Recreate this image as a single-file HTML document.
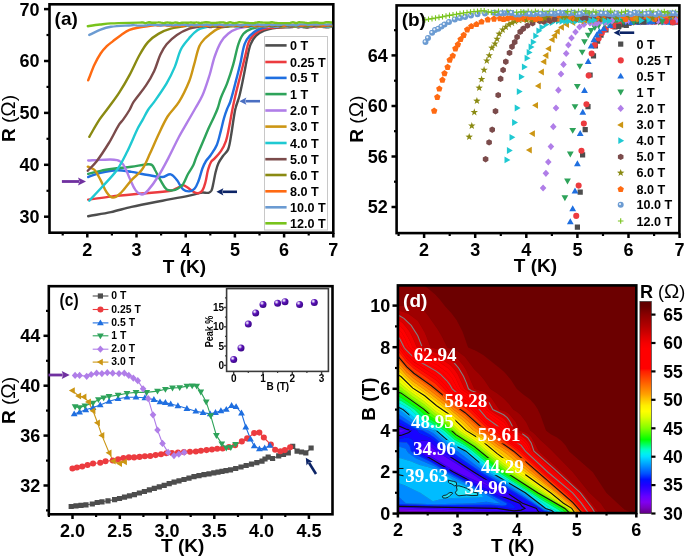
<!DOCTYPE html>
<html><head><meta charset="utf-8"><style>
html,body{margin:0;padding:0;background:#fff;}
svg{display:block;filter:blur(0.4px);}
</style></head><body>
<svg width="685" height="558" viewBox="0 0 685 558">
<defs><radialGradient id="sph" cx="0.35" cy="0.32" r="0.7"><stop offset="0" stop-color="#ffffff"/><stop offset="0.18" stop-color="#c9b2ec"/><stop offset="0.45" stop-color="#5a12b8"/><stop offset="1" stop-color="#3a0785"/></radialGradient><mask id="lblmask" maskUnits="userSpaceOnUse" x="0" y="0" width="685" height="558"><rect width="685" height="558" fill="#fff"/><rect x="412.2" y="346.1" width="46" height="17" fill="#000"/><rect x="442.8" y="392.1" width="46" height="17" fill="#000"/><rect x="409.4" y="413.7" width="46" height="17" fill="#000"/><rect x="476.2" y="426.4" width="46" height="17" fill="#000"/><rect x="411.4" y="440.1" width="46" height="17" fill="#000"/><rect x="479.4" y="458.1" width="46" height="17" fill="#000"/><rect x="403.5" y="467.1" width="46" height="17" fill="#000"/><rect x="462.8" y="479.7" width="46" height="17" fill="#000"/></mask><mask id="lblmask2" maskUnits="userSpaceOnUse" x="0" y="0" width="685" height="558"><rect width="685" height="558" fill="#fff"/><rect x="412.2" y="346.1" width="46" height="17" fill="#000"/><rect x="442.8" y="392.1" width="46" height="17" fill="#000"/><rect x="409.4" y="413.7" width="46" height="17" fill="#000"/><rect x="476.2" y="426.4" width="46" height="17" fill="#000"/><rect x="411.4" y="440.1" width="46" height="17" fill="#000"/><rect x="479.4" y="458.1" width="46" height="17" fill="#000"/><rect x="403.5" y="467.1" width="46" height="17" fill="#000"/><rect x="462.8" y="479.7" width="46" height="17" fill="#000"/><rect x="428" y="474" width="58" height="28" fill="#000"/></mask><linearGradient id="cbg" x1="0" y1="1" x2="0" y2="0"><stop offset="0.0000" stop-color="#600080"/><stop offset="0.0268" stop-color="#7800c0"/><stop offset="0.0536" stop-color="#8000f0"/><stop offset="0.0804" stop-color="#6600ff"/><stop offset="0.1072" stop-color="#4000ff"/><stop offset="0.1340" stop-color="#2000ff"/><stop offset="0.1609" stop-color="#0010ff"/><stop offset="0.1877" stop-color="#0050ff"/><stop offset="0.2145" stop-color="#0080ff"/><stop offset="0.2413" stop-color="#00b0ff"/><stop offset="0.2681" stop-color="#00e0ff"/><stop offset="0.2815" stop-color="#00f0f0"/><stop offset="0.3029" stop-color="#00ffc0"/><stop offset="0.3217" stop-color="#00ff70"/><stop offset="0.3485" stop-color="#00ff00"/><stop offset="0.3753" stop-color="#40ff00"/><stop offset="0.4021" stop-color="#80ff00"/><stop offset="0.4290" stop-color="#b0ff00"/><stop offset="0.4558" stop-color="#e0ff00"/><stop offset="0.4826" stop-color="#ffff00"/><stop offset="0.5094" stop-color="#ffee00"/><stop offset="0.5362" stop-color="#ffc800"/><stop offset="0.5630" stop-color="#ffa000"/><stop offset="0.5898" stop-color="#ff8000"/><stop offset="0.6166" stop-color="#ff6000"/><stop offset="0.6434" stop-color="#ff4000"/><stop offset="0.6702" stop-color="#ff2000"/><stop offset="0.6836" stop-color="#ff0000"/><stop offset="0.7775" stop-color="#ff0000"/><stop offset="0.8043" stop-color="#f40000"/><stop offset="0.8311" stop-color="#e00000"/><stop offset="0.8579" stop-color="#c80000"/><stop offset="0.8847" stop-color="#b20000"/><stop offset="0.9115" stop-color="#9e0000"/><stop offset="0.9383" stop-color="#8a0000"/><stop offset="0.9651" stop-color="#700000"/><stop offset="0.9786" stop-color="#660000"/><stop offset="1.0000" stop-color="#600000"/></linearGradient></defs>
<rect width="685" height="558" fill="#fff"/>
<rect x="49.5" y="4.3" width="283.8" height="228.4" fill="none" stroke="#000" stroke-width="2.6"/>
<clipPath id="ca"><rect x="50.7" y="5.5" width="281.4" height="226"/></clipPath>
<g clip-path="url(#ca)" fill="none" stroke-width="2.4" stroke-linejoin="round" stroke-linecap="round">
<path d="M88.2,216.2 C95.8,214.8 103.4,213.7 110.9,212.1 C117.8,210.6 124.6,208.4 131.5,206.9 C141.8,204.6 152.2,202.7 162.5,200.7 C171.4,199 180.4,197.4 189.3,195.6 C193.7,194.7 198,193.2 202.4,192.6 C204.4,192.3 206.6,193.3 208.6,192.8 C209.8,192.5 210.9,191.6 211.5,190.5 C212.5,188.5 212.7,186.2 213.2,184 C214.1,179.9 214.7,175.8 215.7,171.8 C216.4,169 217.1,166.1 218.3,163.5 C219.5,160.8 221.3,158.4 223,156 C224.6,153.7 227.1,152.1 228.1,149.5 C229.9,144.8 230.3,139.7 231.2,134.7 C232.2,129.2 232.8,123.7 233.7,118.2 C234.3,114.8 234.7,111.3 235.6,108 C236.6,103.9 238.4,100.1 239.4,96 C241,89.7 242.2,83.3 243.5,77 C244.9,70.3 245.9,63.6 247.4,57 C248.3,52.7 249,48.2 250.7,44.1 C251.9,41.1 253.6,38.2 255.9,35.9 C258.2,33.6 261.1,31.9 264.1,30.7 C268.1,29.1 272.3,28.4 276.5,27.8 C281.6,27.1 286.8,27.4 292,27 C293,26.9 294,26.5 295,26.5 C296,26.6 297,27.2 298,27.3 C299,27.3 300,26.9 301,26.9 C302,26.9 303,27.1 304,27.2 C305,27.3 306,27.5 307,27.5 C308,27.4 309,27 310,27 C311,26.9 312,27 313,26.9 C314,26.8 315,26.5 316,26.4 C317,26.4 318,26.5 319,26.6 C320,26.7 321,26.8 322,26.9 C323,26.9 324,27 325,27 C326,27.1 327,27.2 328,27.2 C329,27.1 330,26.8 331,26.7 C331.7,26.6 332.3,26.8 333,26.8" stroke="#4d4d4d"/>
<path d="M88.2,199.7 C95.8,198.7 103.3,197.5 110.9,196.6 C121.2,195.4 131.6,194.5 141.9,193.5 C151.5,192.6 161.2,192.5 170.7,190.8 C173.7,190.3 176.2,188.2 179,187 C180.4,186.4 181.6,185.2 183.1,185.3 C184.6,185.4 185.9,186.5 187.2,187.3 C189.4,188.7 191.1,190.6 193.4,191.8 C194.9,192.6 196.6,193.4 198.2,193.2 C199.8,193 201.5,191.9 202.4,190.5 C204,188 204.7,184.9 205.5,182 C206.6,178.1 206.9,173.9 208,170 C208.8,167.3 209.6,164.5 211,162 C211.9,160.5 213.5,159.7 214.7,158.4 C216.8,156.1 219.2,153.9 220.9,151.2 C223,148 224.8,144.5 226,140.9 C227.7,135.7 228.4,130.3 229.5,125 C230.5,120 231.3,115 232.3,110 C233.2,105.3 234.2,100.6 235.3,96 C236.9,89 238.8,82 240.5,75 C242.2,68.1 243.9,61.3 245.6,54.4 C246.6,50.3 247.1,46 248.7,42.1 C249.8,39.4 251.7,36.9 253.8,34.9 C256.2,32.6 259,30.6 262.1,29.5 C266.2,28 270.7,27.9 275,27.4 C280,26.9 285,27 290,26.6 C291,26.5 292,26.2 293,26.1 C294,26.1 295,26.2 296,26.4 C297,26.5 298,27.1 299,27.1 C300,27 301,26.4 302,26.3 C303,26.2 304,26.4 305,26.5 C306,26.7 307,27.2 308,27.1 C309.1,27 309.9,26.1 311,26.1 C312,26 313,26.5 314,26.7 C315,26.9 316,27.2 317,27.1 C318,27 319,26.4 320,26.3 C321,26.2 322,26.5 323,26.7 C324,26.8 325,27.1 326,27.1 C327,27 328,26.3 329,26.2 C330.3,26.1 331.7,26.5 333,26.6" stroke="#ec3b3f"/>
<path d="M88.2,177 C92.3,175.6 96.4,173.9 100.6,172.9 C106,171.6 111.5,170.4 117.1,170.2 C121.9,170 126.7,171.2 131.5,171.9 C137,172.8 142.5,174.1 148,175 C152.8,175.8 157.6,177.2 162.5,177 C165.4,176.9 167.9,173.7 170.7,174.3 C173.5,174.9 175.1,177.9 176.9,180.1 C179.3,183 180.3,186.9 183.1,189.4 C184.7,190.9 187.1,191.5 189.3,191.4 C191.2,191.3 193.2,190.3 194.5,188.8 C196.4,186.6 197.4,183.7 198.5,181 C200.1,176.9 200.9,172.6 202.4,168.5 C203.4,165.9 204.5,163.4 206,161 C207.3,158.9 209.2,157.3 210.6,155.3 C212.8,152 215.3,148.7 216.8,145 C218.7,140.4 219.6,135.4 220.9,130.6 C222,126.5 222.8,122.3 224,118.2 C224.9,115.1 225.9,112 227.1,109 C228,106.6 229.4,104.4 230.2,102 C232.2,95.8 233.7,89.5 235.3,83.3 C237.1,76.4 238.9,69.6 240.5,62.7 C242,56.5 242.5,50.1 244.6,44.1 C245.6,41.1 247.5,38.3 249.7,35.9 C252.1,33.4 254.9,31.2 258,29.7 C261.2,28.1 264.8,27.2 268.3,26.8 C275.5,26 282.8,26.4 290,26.3 C291,26.3 292,26.3 293,26.3 C294,26.4 295,26.5 296,26.6 C297,26.6 298,26.5 299,26.5 C300,26.4 301,26.3 302,26.2 C303,26.1 304,25.9 305,25.9 C306,25.9 307,26.2 308,26.2 C309,26.3 310,26.1 311,26.1 C312,26.1 313,26.2 314,26.2 C315,26.2 316,26 317,26.1 C318,26.2 319,26.5 320,26.6 C321,26.7 322,26.6 323,26.5 C324,26.4 325,26.1 326,26 C327,26 328,26.3 329,26.3 C330.3,26.3 331.7,26.2 333,26.2" stroke="#1f6fe0"/>
<path d="M88.2,173.9 C92.3,172.9 96.4,171.7 100.6,170.8 C104.7,170 108.8,169.4 113,168.8 C119.2,168 125.3,167.5 131.5,166.7 C137,166 142.5,164.8 148,164.3 C149.3,164.2 151,164.1 152,165 C153.5,166.2 154.1,168.3 155,170 C156.9,173.3 158.4,176.8 160.4,180.1 C162.3,183.3 163.7,187 166.6,189.4 C168.2,190.7 170.7,190.6 172.8,190.4 C174.6,190.3 176.4,189.5 178,188.5 C179.9,187.4 181.8,186 183.1,184.2 C185.2,181.1 186.2,177.3 188,174 C189.7,170.9 191.9,168.1 193.4,165 C194.6,162.6 195.2,159.9 196.2,157.4 C198.2,152.6 200.4,147.8 202.4,143 C204.5,138.2 206.4,133.3 208.5,128.5 C210.3,124.5 212.4,120.5 214.2,116.5 C215.5,113.7 216.8,110.9 217.8,108 C219,104.6 219.6,101.1 220.9,97.7 C222.7,92.8 225.3,88.2 227.1,83.3 C229.4,77.2 231.4,71 233.2,64.7 C235.2,57.9 236.2,50.8 238.4,44.1 C239.6,40.5 241,36.7 243.5,33.8 C245.6,31.4 248.8,29.9 251.8,28.7 C255.1,27.4 258.7,27.2 262.1,26.6 C263.1,26.4 264.1,26.4 265.1,26.3 C266.1,26.3 267.1,26.5 268.1,26.5 C269.1,26.5 270.1,26.4 271.1,26.4 C272.1,26.4 273.1,26.7 274.1,26.7 C275.1,26.7 276.1,26.4 277.1,26.4 C278.1,26.3 279.1,26.4 280.1,26.5 C281.1,26.5 282.1,26.7 283.1,26.7 C284.1,26.7 285.1,26.3 286.1,26.4 C287.1,26.4 288.1,26.9 289.1,26.9 C290.1,26.8 291.1,26.1 292.1,26.1 C293.1,26 294.1,26.6 295.1,26.7 C296.1,26.7 297.1,26.4 298.1,26.3 C299.1,26.2 300.1,26.3 301.1,26.3 C302.1,26.3 303.1,26.5 304.1,26.5 C305.1,26.5 306.1,26.4 307.1,26.4 C308.1,26.3 309.1,26.3 310.1,26.2 C311.1,26.1 312.1,25.8 313.1,25.8 C314.1,25.7 315.1,25.7 316.1,25.8 C317.1,26 318.1,26.4 319.1,26.5 C320.1,26.6 321.1,26.3 322.1,26.3 C323.1,26.3 324.1,26.4 325.1,26.5 C326.1,26.5 327.1,26.7 328.1,26.7 C329.1,26.7 330.1,26.5 331.1,26.4 C331.7,26.3 332.4,26.3 333,26.2" stroke="#2ea35a"/>
<path d="M88.2,160.5 C92.3,160.3 96.5,160 100.6,159.9 C106.1,159.8 111.7,159 117.1,160.1 C119.6,160.6 121.8,162.5 123.3,164.6 C126.1,168.6 127.4,173.6 129.5,178 C131.5,182.2 132.9,186.7 135.7,190.4 C137.2,192.4 139.4,194.5 141.9,194.5 C144.3,194.5 146.4,192.2 148,190.4 C151.9,186 155.3,181 158.4,176 C162.2,170 165.4,163.7 168.7,157.4 C172.3,150.6 175.4,143.6 179,136.8 C181.6,131.9 184.5,127.2 187.2,122.4 C190,117.6 192.8,112.8 195.5,108 C197.8,103.9 200.5,99.9 202.4,95.6 C205.3,88.9 207.4,81.9 209.6,75 C211.5,68.9 212.6,62.5 214.7,56.5 C216.4,51.6 218.2,46.6 220.9,42.1 C222.8,38.9 225.3,36.1 228.1,33.8 C230.8,31.6 234.1,29.8 237.4,28.7 C241.3,27.3 245.6,27.2 249.7,26.4 C250.7,26.2 251.7,25.9 252.7,25.9 C253.7,25.9 254.7,26.1 255.7,26.2 C256.7,26.3 257.7,26.5 258.7,26.5 C259.7,26.4 260.7,26 261.7,26.1 C262.7,26.1 263.7,26.7 264.7,26.8 C265.7,27 266.7,26.8 267.7,26.8 C268.7,26.8 269.7,26.8 270.7,26.7 C271.7,26.6 272.7,26.3 273.7,26.3 C274.7,26.2 275.7,26.7 276.7,26.6 C277.7,26.6 278.7,26 279.7,25.9 C280.7,25.7 281.7,26 282.7,26 C283.7,26.1 284.7,26.1 285.7,26.2 C286.7,26.3 287.7,26.5 288.7,26.5 C289.7,26.5 290.7,26.3 291.7,26.2 C292.7,26.1 293.7,25.8 294.7,25.8 C295.7,25.8 296.7,26 297.7,26 C298.7,26 299.7,26 300.7,26 C301.7,25.9 302.7,26 303.7,25.9 C304.7,25.9 305.7,25.7 306.7,25.8 C307.7,25.8 308.7,26 309.7,26 C310.7,26.1 311.7,26 312.7,26 C313.7,26.1 314.7,26.3 315.7,26.4 C316.7,26.4 317.7,26.4 318.7,26.4 C319.7,26.3 320.7,26.1 321.7,26.1 C322.7,26 323.7,26 324.7,26 C325.7,26 326.7,26.3 327.7,26.3 C328.7,26.4 329.7,26.5 330.7,26.4 C331.5,26.4 332.2,26.1 333,26" stroke="#b07ee8"/>
<path d="M87.8,166.7 C90,167.7 92.7,168 94.4,169.8 C97.2,172.7 98.7,176.6 100.6,180.1 C102.8,184.2 104.1,188.7 106.8,192.5 C108.3,194.7 110.3,197.6 113,197.6 C116.2,197.6 118.9,194.7 121.2,192.5 C125.1,188.8 127.9,184.1 131.5,180.1 C134.8,176.5 139.1,173.8 141.9,169.8 C145.4,164.8 147.5,158.9 150.1,153.3 C153,147.2 155.5,140.8 158.4,134.7 C161.3,128.6 164,122.3 167.6,116.5 C170.9,111.3 175.8,107.2 179,101.9 C183.1,95.3 186.4,88.2 189.3,81 C191.4,75.8 192.5,70.1 194.1,64.7 C195.9,58.5 196.9,52.1 199.3,46.2 C200.4,43.5 202.4,41.2 204.4,39 C206.2,37 208.5,35.5 210.6,33.8 C212.6,32.2 214.5,30.4 216.8,29.3 C219.4,28.1 222.2,27.2 225,26.8 C230,26.1 235,26.2 240,26 C241,26 242,26.1 243,26.2 C244,26.2 245,26.3 246,26.3 C247,26.4 248,26.6 249,26.5 C250,26.3 250.9,25.5 252,25.5 C253,25.5 254,26.4 255,26.4 C256,26.5 257,25.8 258,25.8 C259,25.7 260,25.9 261,26 C262,26.1 263,26.3 264,26.3 C265,26.4 266,26.4 267,26.2 C268,26.1 269,25.6 270,25.6 C271,25.6 272,26.2 273,26.2 C274,26.2 275,25.6 276,25.5 C277,25.5 278,25.7 279,25.8 C280,26 281,26.3 282,26.3 C283,26.4 284,26 285,25.9 C286,25.9 287,26.1 288,26.1 C289,26.2 290,26.2 291,26.3 C292,26.3 293,26.3 294,26.4 C295,26.4 296,26.4 297,26.3 C298,26.1 299,25.5 300,25.5 C301,25.4 302,25.8 303,25.9 C304,26 305,26 306,26 C307,25.9 308,25.5 309,25.5 C310,25.5 311,25.9 312,26 C313,26.1 314,26.1 315,26.1 C316,26.2 317,26.3 318,26.4 C319,26.4 320,26.6 321,26.5 C322,26.4 323,25.7 324,25.6 C325,25.5 326,25.6 327,25.7 C328,25.8 329,26.1 330,26.2 C331,26.2 332,26.1 333,26" stroke="#cc9614"/>
<path d="M89.3,200.7 C93.8,195.9 98.3,191.2 102.7,186.3 C107.6,180.9 112.9,175.8 117.1,169.8 C121.2,164 124.2,157.5 127.4,151.2 C131.1,143.8 134.1,136 137.7,128.6 C139.2,125.4 141.2,122.5 142.9,119.4 C144.6,116.3 146.1,113 148,110 C149.8,107.1 152.3,104.7 154.2,101.9 C158.5,95.8 162.8,89.8 166.6,83.4 C169.7,78.1 172.4,72.6 174.8,66.9 C177.2,61.2 178.2,54.9 181,49.3 C183.1,45.1 186.4,41.7 189.3,38 C190.8,36.2 192.3,34.3 194.1,32.8 C196,31.2 198,29.6 200.3,28.7 C203.6,27.4 207.1,27 210.6,26.2 C211.6,26 212.6,25.8 213.6,25.8 C214.6,25.7 215.6,25.8 216.6,25.9 C217.6,26 218.6,26.3 219.6,26.3 C220.6,26.2 221.6,25.8 222.6,25.8 C223.6,25.8 224.6,26.3 225.6,26.5 C226.6,26.6 227.6,26.7 228.6,26.5 C229.6,26.4 230.6,25.7 231.6,25.6 C232.6,25.6 233.6,26 234.6,26.2 C235.6,26.3 236.6,26.4 237.6,26.4 C238.6,26.5 239.6,26.7 240.6,26.6 C241.6,26.5 242.6,26 243.6,25.8 C244.6,25.7 245.6,25.6 246.6,25.7 C247.6,25.8 248.6,26.4 249.6,26.5 C250.6,26.6 251.6,26.6 252.6,26.5 C253.6,26.4 254.6,25.8 255.6,25.7 C256.6,25.6 257.6,25.9 258.6,26 C259.6,26.1 260.6,26.2 261.6,26.3 C262.6,26.3 263.6,26.5 264.6,26.4 C265.6,26.3 266.6,25.7 267.6,25.6 C268.6,25.6 269.6,26.1 270.6,26.2 C271.6,26.3 272.6,26.4 273.6,26.3 C274.6,26.3 275.6,26.2 276.6,26 C277.6,25.9 278.6,25.7 279.6,25.6 C280.6,25.5 281.6,25.4 282.6,25.5 C283.6,25.5 284.6,25.6 285.6,25.7 C286.6,25.9 287.6,26.3 288.6,26.3 C289.6,26.2 290.6,25.6 291.6,25.4 C292.6,25.3 293.6,25.3 294.6,25.4 C295.6,25.4 296.6,25.8 297.6,25.8 C298.6,25.8 299.6,25.5 300.6,25.4 C301.6,25.4 302.6,25.5 303.6,25.5 C304.6,25.5 305.6,25.3 306.6,25.4 C307.6,25.4 308.6,25.8 309.6,25.9 C310.6,26 311.6,26.1 312.6,26.1 C313.6,26.1 314.6,25.9 315.6,25.8 C316.6,25.7 317.6,25.5 318.6,25.4 C319.6,25.4 320.6,25.6 321.6,25.7 C322.6,25.7 323.6,25.8 324.6,25.9 C325.6,26 326.6,26.2 327.6,26.3 C328.6,26.4 329.6,26.4 330.6,26.3 C331.4,26.3 332.2,26 333,25.8" stroke="#1fc9d2"/>
<path d="M87.8,170.8 C90.7,167.7 93.9,164.9 96.5,161.5 C101,155.6 105,149.3 108.9,143 C112.6,137 115.5,130.4 119.2,124.4 C120.3,122.6 122,121.2 123.3,119.4 C125.5,116.3 127.6,113.2 129.5,110 C131,107.4 131.9,104.4 133.6,101.9 C137.4,96.2 142.2,91.1 146,85.4 C149.1,80.8 151.9,76 154.2,71 C156.7,65.7 157.9,59.8 160.4,54.5 C162.1,50.9 164,47.3 166.6,44.2 C169.6,40.7 173.1,37.5 176.9,34.9 C180.7,32.3 185,30.3 189.3,28.7 C192.6,27.5 196.2,27.2 199.6,26.6 C200.6,26.4 201.6,26.4 202.6,26.3 C203.6,26.2 204.6,25.9 205.6,26 C206.6,26.1 207.6,26.7 208.6,26.9 C209.6,27.1 210.6,27.1 211.6,27 C212.6,26.9 213.6,26.5 214.6,26.4 C215.6,26.4 216.6,26.7 217.6,26.8 C218.6,26.8 219.6,26.9 220.6,26.8 C221.6,26.8 222.6,26.5 223.6,26.5 C224.6,26.5 225.6,26.9 226.6,26.8 C227.6,26.7 228.6,26 229.6,25.9 C230.6,25.7 231.6,26.1 232.6,26.1 C233.6,26.1 234.6,26.1 235.6,26.1 C236.6,26 237.6,25.8 238.6,25.9 C239.6,26 240.6,26.8 241.6,26.7 C242.7,26.7 243.5,25.8 244.6,25.7 C245.6,25.7 246.6,26.4 247.6,26.4 C248.6,26.4 249.6,25.8 250.6,25.7 C251.6,25.7 252.6,26 253.6,26 C254.6,26.1 255.6,26.1 256.6,26.1 C257.6,26 258.6,25.8 259.6,25.8 C260.6,25.8 261.6,26.1 262.6,26.2 C263.6,26.2 264.6,26.2 265.6,26.1 C266.6,26.1 267.6,25.9 268.6,25.9 C269.6,25.9 270.6,26.4 271.6,26.3 C272.6,26.3 273.6,25.8 274.6,25.7 C275.6,25.6 276.6,25.6 277.6,25.7 C278.6,25.7 279.6,25.8 280.6,25.8 C281.6,25.9 282.6,25.9 283.6,25.8 C284.6,25.8 285.6,25.5 286.6,25.6 C287.6,25.7 288.6,26.3 289.6,26.4 C290.6,26.5 291.6,26.4 292.6,26.3 C293.6,26.1 294.6,25.5 295.6,25.4 C296.6,25.4 297.6,25.7 298.6,25.7 C299.6,25.7 300.6,25.5 301.6,25.5 C302.6,25.5 303.6,25.8 304.6,25.8 C305.6,25.8 306.6,25.5 307.6,25.5 C308.6,25.5 309.6,25.7 310.6,25.8 C311.6,25.9 312.6,26.2 313.6,26.2 C314.6,26.2 315.6,25.7 316.6,25.6 C317.6,25.5 318.6,25.8 319.6,25.9 C320.6,25.9 321.6,25.8 322.6,25.8 C323.6,25.8 324.6,26 325.6,25.9 C326.6,25.8 327.6,25.2 328.6,25.2 C329.6,25.1 330.6,25.8 331.6,25.9 C332.1,25.9 332.5,25.7 333,25.6" stroke="#7b4b4b"/>
<path d="M89.3,136.8 C92.7,131 95.9,125 99.6,119.4 C102.4,115.1 105.9,111.2 108.9,107 C112.4,102.2 116,97.6 119.2,92.6 C122.9,86.9 126.3,81.1 129.5,75.1 C133.2,68.3 136,61.2 139.8,54.5 C142.2,50.2 144.7,45.8 148,42.1 C151,38.8 154.6,36.1 158.4,33.9 C162.2,31.6 166.4,29.9 170.7,28.7 C176.1,27.2 181.7,26.5 187.2,25.8 C188.2,25.7 189.2,26.3 190.2,26.3 C191.2,26.3 192.2,26 193.2,25.9 C194.2,25.8 195.2,25.5 196.2,25.5 C197.2,25.5 198.2,25.9 199.2,25.9 C200.2,26 201.2,26 202.2,26 C203.2,26 204.2,26 205.2,25.9 C206.2,25.8 207.2,25.3 208.2,25.3 C209.2,25.4 210.2,26.1 211.2,26.2 C212.2,26.4 213.2,26.3 214.2,26.2 C215.2,26.1 216.2,25.7 217.2,25.6 C218.2,25.5 219.2,25.8 220.2,25.8 C221.2,25.7 222.2,25.1 223.2,25.1 C224.3,25.2 225.2,26 226.2,26.2 C227.2,26.3 228.2,26 229.2,26 C230.2,25.9 231.2,25.8 232.2,25.8 C233.2,25.8 234.2,26 235.2,25.9 C236.2,25.8 237.2,25.3 238.2,25.2 C239.2,25.2 240.2,25.4 241.2,25.4 C242.2,25.4 243.2,25.2 244.2,25.3 C245.2,25.3 246.2,25.7 247.2,25.7 C248.2,25.6 249.2,25 250.2,25.1 C251.2,25.1 252.2,25.9 253.2,26 C254.2,26 255.2,25.6 256.2,25.5 C257.2,25.4 258.2,25.5 259.2,25.4 C260.2,25.4 261.2,25 262.2,25.1 C263.2,25.1 264.2,25.6 265.2,25.7 C266.2,25.8 267.2,25.8 268.2,25.8 C269.2,25.8 270.2,25.7 271.2,25.6 C272.2,25.5 273.2,25.1 274.2,25.2 C275.2,25.2 276.2,25.8 277.2,25.7 C278.2,25.7 279.2,25 280.2,25 C281.2,25 282.2,25.7 283.2,25.8 C284.2,25.8 285.2,25.6 286.2,25.5 C287.2,25.4 288.2,25.2 289.2,25.1 C290.2,25.1 291.2,25.3 292.2,25.4 C293.2,25.4 294.2,25.5 295.2,25.5 C296.2,25.4 297.2,25 298.2,25.1 C299.2,25.1 300.2,25.7 301.2,25.7 C302.2,25.7 303.2,25.2 304.2,25.2 C305.2,25.2 306.2,25.7 307.2,25.7 C308.2,25.8 309.2,25.8 310.2,25.7 C311.2,25.5 312.2,24.9 313.2,24.8 C314.2,24.8 315.2,25.4 316.2,25.4 C317.2,25.5 318.2,25 319.2,25 C320.2,25.1 321.2,25.5 322.2,25.5 C323.2,25.6 324.2,25.3 325.2,25.3 C326.2,25.2 327.2,25.1 328.2,25.2 C329.2,25.2 330.2,25.6 331.2,25.6 C331.8,25.6 332.4,25.3 333,25.2" stroke="#8a8a12"/>
<path d="M88.2,80.3 C90.3,75.1 92.1,69.9 94.4,64.8 C96.2,60.9 98.2,57.1 100.6,53.5 C102.4,50.8 104.5,48.5 106.8,46.2 C108.7,44.3 110.9,42.8 113,41.1 C115.7,39 118.4,36.8 121.2,34.9 C123.9,33.1 126.5,31.2 129.5,29.9 C132.1,28.8 134.9,28.2 137.7,27.7 C142.5,26.8 147.4,26.3 152.2,25.6 C153.2,25.5 154.2,25.1 155.2,25.1 C156.2,25.1 157.2,25.6 158.2,25.6 C159.2,25.7 160.2,25.5 161.2,25.4 C162.2,25.3 163.2,25 164.2,25 C165.2,25.1 166.2,25.7 167.2,25.8 C168.2,25.9 169.2,25.6 170.2,25.6 C171.2,25.6 172.2,26 173.2,26 C174.2,26 175.2,25.7 176.2,25.6 C177.2,25.5 178.2,25.3 179.2,25.3 C180.2,25.4 181.2,26.1 182.2,26 C183.2,26 184.2,25.2 185.2,25.1 C186.2,24.9 187.2,24.9 188.2,25 C189.2,25.1 190.2,25.7 191.2,25.7 C192.2,25.8 193.2,25.4 194.2,25.3 C195.2,25.2 196.2,25.2 197.2,25.3 C198.2,25.4 199.2,25.9 200.2,25.9 C201.2,25.8 202.2,25.2 203.2,25.2 C204.2,25.2 205.2,25.8 206.2,25.8 C207.2,25.9 208.2,25.7 209.2,25.6 C210.2,25.5 211.2,25.3 212.2,25.2 C213.2,25.1 214.2,24.9 215.2,24.9 C216.2,24.9 217.2,24.9 218.2,25.1 C219.2,25.3 220.2,25.9 221.2,25.9 C222.2,25.9 223.2,25.4 224.2,25.3 C225.2,25.1 226.2,25 227.2,25 C228.2,25 229.2,25 230.2,25.1 C231.2,25.3 232.2,25.8 233.2,25.8 C234.2,25.7 235.2,25 236.2,25 C237.2,24.9 238.2,25.6 239.2,25.6 C240.2,25.6 241.2,24.9 242.2,24.9 C243.2,24.9 244.2,25.7 245.2,25.8 C246.2,25.9 247.2,25.5 248.2,25.3 C249.2,25.1 250.2,24.7 251.2,24.8 C252.2,24.8 253.2,25.7 254.2,25.7 C255.2,25.8 256.2,25.1 257.2,25.1 C258.2,25.1 259.2,25.5 260.2,25.5 C261.2,25.5 262.2,25.4 263.2,25.3 C264.2,25.1 265.2,24.9 266.2,24.8 C267.2,24.7 268.2,24.8 269.2,24.8 C270.2,24.8 271.2,24.8 272.2,24.8 C273.2,24.8 274.2,24.8 275.2,24.8 C276.2,24.8 277.2,24.7 278.2,24.7 C279.2,24.7 280.2,24.5 281.2,24.7 C282.2,24.8 283.1,25.7 284.2,25.7 C285.2,25.7 286.2,24.8 287.2,24.7 C288.2,24.6 289.2,25.1 290.2,25.2 C291.2,25.2 292.2,24.8 293.2,24.7 C294.2,24.7 295.2,24.7 296.2,24.8 C297.2,24.9 298.2,25.3 299.2,25.4 C300.2,25.5 301.2,25.6 302.2,25.6 C303.2,25.5 304.2,25.2 305.2,25.1 C306.2,24.9 307.2,24.4 308.2,24.5 C309.3,24.6 310.1,25.6 311.2,25.6 C312.3,25.6 313.1,24.7 314.2,24.6 C315.2,24.4 316.2,24.8 317.2,24.9 C318.2,25 319.2,25 320.2,25.1 C321.2,25.2 322.2,25.4 323.2,25.5 C324.2,25.5 325.2,25.4 326.2,25.4 C327.2,25.3 328.2,25.2 329.2,25.1 C330.5,25.1 331.7,25 333,25" stroke="#ff6a12"/>
<path d="M89.3,34.9 C93.1,33.2 96.7,31.2 100.6,29.7 C103.9,28.4 107.4,27.3 110.9,26.8 C117.7,25.8 124.6,25.7 131.5,25.2 C132.5,25.1 133.5,25 134.5,25.1 C135.5,25.1 136.5,25.5 137.5,25.6 C138.5,25.6 139.5,25.6 140.5,25.6 C141.5,25.6 142.5,25.6 143.5,25.6 C144.5,25.5 145.5,25.5 146.5,25.4 C147.5,25.2 148.5,24.8 149.5,24.7 C150.5,24.6 151.5,24.8 152.5,24.9 C153.5,25 154.5,25.1 155.5,25.1 C156.5,25.1 157.5,25.1 158.5,25.1 C159.5,25.2 160.5,25.5 161.5,25.5 C162.5,25.4 163.5,24.8 164.5,24.8 C165.5,24.8 166.5,25.3 167.5,25.3 C168.5,25.3 169.5,24.9 170.5,24.9 C171.5,25 172.5,25.4 173.5,25.4 C174.5,25.3 175.5,24.8 176.5,24.7 C177.5,24.7 178.5,25.1 179.5,25 C180.5,25 181.5,24.7 182.5,24.6 C183.5,24.6 184.5,24.6 185.5,24.7 C186.5,24.9 187.5,25.5 188.5,25.5 C189.5,25.5 190.5,24.8 191.5,24.8 C192.5,24.8 193.5,25.4 194.5,25.4 C195.5,25.5 196.5,25.2 197.5,25 C198.5,24.9 199.5,24.4 200.5,24.5 C201.5,24.5 202.5,25.3 203.5,25.3 C204.5,25.3 205.5,24.5 206.5,24.5 C207.5,24.5 208.5,25.3 209.5,25.3 C210.5,25.3 211.5,24.5 212.5,24.4 C213.5,24.4 214.5,25.1 215.5,25.1 C216.5,25.2 217.5,24.6 218.5,24.6 C219.5,24.5 220.5,24.6 221.5,24.8 C222.5,24.9 223.5,25.4 224.5,25.4 C225.5,25.4 226.5,25 227.5,24.9 C228.5,24.8 229.5,25 230.5,25.1 C231.5,25.1 232.5,25.3 233.5,25.2 C234.5,25.1 235.5,24.4 236.5,24.5 C237.5,24.5 238.5,25.1 239.5,25.3 C240.5,25.4 241.5,25.5 242.5,25.3 C243.5,25.2 244.5,24.6 245.5,24.5 C246.5,24.4 247.5,24.9 248.5,24.9 C249.5,24.9 250.5,24.6 251.5,24.6 C252.5,24.6 253.5,25.1 254.5,25.1 C255.5,25 256.5,24.4 257.5,24.3 C258.5,24.3 259.5,24.7 260.5,24.8 C261.5,25 262.5,25.1 263.5,25.1 C264.5,25.2 265.5,25.2 266.5,25.1 C267.5,24.9 268.5,24.3 269.5,24.4 C270.5,24.4 271.5,25.1 272.5,25.1 C273.5,25.2 274.5,24.5 275.5,24.5 C276.5,24.5 277.5,25.1 278.5,25.1 C279.5,25.1 280.5,24.9 281.5,24.8 C282.5,24.6 283.5,24.3 284.5,24.4 C285.5,24.4 286.5,24.9 287.5,25 C288.5,25.1 289.5,25.1 290.5,25.1 C291.5,25.1 292.5,24.9 293.5,24.9 C294.5,25 295.5,25.3 296.5,25.2 C297.5,25.1 298.5,24.6 299.5,24.4 C300.5,24.3 301.5,24.4 302.5,24.4 C303.5,24.4 304.5,24.2 305.5,24.3 C306.5,24.3 307.5,24.7 308.5,24.7 C309.5,24.8 310.5,24.6 311.5,24.6 C312.5,24.5 313.5,24.5 314.5,24.5 C315.5,24.5 316.5,24.6 317.5,24.6 C318.5,24.6 319.5,24.5 320.5,24.4 C321.5,24.3 322.5,24 323.5,24.1 C324.5,24.1 325.5,24.5 326.5,24.6 C327.5,24.6 328.5,24.4 329.5,24.4 C330.7,24.4 331.8,24.5 333,24.6" stroke="#6b9bd2"/>
<path d="M87.8,26.2 C91.9,25.6 95.9,25 100,24.5 C103.6,24.1 107.3,23.6 110.9,23.4 C120.6,22.9 130.3,22.9 140,22.6 C141,22.6 142,22.5 143,22.5 C144,22.6 145,23.1 146,23.1 C147,23 148,22.3 149,22.2 C150,22.2 151,22.7 152,22.8 C153,22.8 154,22.8 155,22.8 C156,22.7 157,22.4 158,22.4 C159,22.3 160,22.4 161,22.6 C162,22.7 163,23.1 164,23.1 C165,23.1 166,22.5 167,22.4 C168,22.4 169,22.7 170,22.8 C171,22.9 172,23 173,23 C174,22.9 175,22.4 176,22.4 C177,22.5 178,23.1 179,23.1 C180,23.2 181,22.8 182,22.7 C183,22.6 184,22.6 185,22.6 C186,22.6 187,22.9 188,22.8 C189,22.8 190,22.5 191,22.5 C192,22.5 193,22.9 194,22.8 C195,22.8 196,22.3 197,22.4 C198,22.4 199,23 200,23.1 C201,23.1 202,22.8 203,22.6 C204,22.5 205,22.3 206,22.3 C207,22.3 208,22.4 209,22.5 C210,22.7 211,23 212,23 C213,23.1 214,23 215,22.9 C216,22.9 217,22.7 218,22.6 C219,22.5 220,22.5 221,22.4 C222,22.4 223,22.3 224,22.5 C225,22.6 226,23.2 227,23.1 C228,23.1 229,22.2 230,22.2 C231,22.2 232,22.9 233,23 C234,23.2 235,23.1 236,23 C237,22.9 238,22.4 239,22.3 C240,22.2 241,22.4 242,22.4 C243,22.5 244,22.6 245,22.7 C246,22.8 247,22.9 248,22.9 C249,23 250,23.1 251,23.1 C252,23.1 253,23.3 254,23.1 C255,23 256,22.5 257,22.4 C258,22.2 259,22.2 260,22.3 C261,22.3 262,22.5 263,22.6 C264,22.7 265,22.6 266,22.7 C267,22.7 268,22.9 269,22.8 C270,22.7 271,22.2 272,22.2 C273,22.2 274,22.6 275,22.8 C276,22.9 277,23 278,23.1 C279,23.1 280,23.1 281,23.1 C282,23.1 283,23.1 284,23.1 C285,23.1 286,23.1 287,23.1 C288,23.1 289,23.3 290,23.1 C291,22.9 291.9,22.1 293,22.1 C294,22.1 295,23 296,23.1 C297,23.1 298,22.5 299,22.3 C300,22.2 301,22.4 302,22.4 C303,22.4 304,22.4 305,22.6 C306,22.7 307,23.1 308,23.1 C309,23.1 310,22.8 311,22.7 C312,22.6 313,22.5 314,22.4 C315,22.4 316,22.4 317,22.5 C318,22.6 319,23 320,23 C321,23.1 322,23.1 323,23 C324,22.8 325,22.3 326,22.2 C327,22.1 328,22.3 329,22.3 C330.3,22.4 331.7,22.5 333,22.6" stroke="#78c31c"/>
</g>
<rect x="264.5" y="36.5" width="63" height="193.5" fill="#fff" stroke="#c8c8c8" stroke-width="1"/>
<line x1="265.3" y1="45.4" x2="286.6" y2="45.4" stroke="#4d4d4d" stroke-width="2.6" />
<text x="290" y="49.9" font-size="12.6" text-anchor="start" fill="#000" style="font-family:'Liberation Sans',sans-serif;font-weight:bold" >0 T</text>
<line x1="265.3" y1="62" x2="286.6" y2="62" stroke="#ec3b3f" stroke-width="2.6" />
<text x="290" y="66.5" font-size="12.6" text-anchor="start" fill="#000" style="font-family:'Liberation Sans',sans-serif;font-weight:bold" >0.25 T</text>
<line x1="265.3" y1="77.9" x2="286.6" y2="77.9" stroke="#1f6fe0" stroke-width="2.6" />
<text x="290" y="82.4" font-size="12.6" text-anchor="start" fill="#000" style="font-family:'Liberation Sans',sans-serif;font-weight:bold" >0.5 T</text>
<line x1="265.3" y1="94.1" x2="286.6" y2="94.1" stroke="#2ea35a" stroke-width="2.6" />
<text x="290" y="98.6" font-size="12.6" text-anchor="start" fill="#000" style="font-family:'Liberation Sans',sans-serif;font-weight:bold" >1 T</text>
<line x1="265.3" y1="110.5" x2="286.6" y2="110.5" stroke="#b07ee8" stroke-width="2.6" />
<text x="290" y="115" font-size="12.6" text-anchor="start" fill="#000" style="font-family:'Liberation Sans',sans-serif;font-weight:bold" >2.0 T</text>
<line x1="265.3" y1="126.6" x2="286.6" y2="126.6" stroke="#cc9614" stroke-width="2.6" />
<text x="290" y="131.1" font-size="12.6" text-anchor="start" fill="#000" style="font-family:'Liberation Sans',sans-serif;font-weight:bold" >3.0 T</text>
<line x1="265.3" y1="143" x2="286.6" y2="143" stroke="#1fc9d2" stroke-width="2.6" />
<text x="290" y="147.5" font-size="12.6" text-anchor="start" fill="#000" style="font-family:'Liberation Sans',sans-serif;font-weight:bold" >4.0 T</text>
<line x1="265.3" y1="159.2" x2="286.6" y2="159.2" stroke="#7b4b4b" stroke-width="2.6" />
<text x="290" y="163.7" font-size="12.6" text-anchor="start" fill="#000" style="font-family:'Liberation Sans',sans-serif;font-weight:bold" >5.0 T</text>
<line x1="265.3" y1="175" x2="286.6" y2="175" stroke="#8a8a12" stroke-width="2.6" />
<text x="290" y="179.5" font-size="12.6" text-anchor="start" fill="#000" style="font-family:'Liberation Sans',sans-serif;font-weight:bold" >6.0 T</text>
<line x1="265.3" y1="191.3" x2="286.6" y2="191.3" stroke="#ff6a12" stroke-width="2.6" />
<text x="290" y="195.8" font-size="12.6" text-anchor="start" fill="#000" style="font-family:'Liberation Sans',sans-serif;font-weight:bold" >8.0 T</text>
<line x1="265.3" y1="207.3" x2="286.6" y2="207.3" stroke="#6b9bd2" stroke-width="2.6" />
<text x="290" y="211.8" font-size="12.6" text-anchor="start" fill="#000" style="font-family:'Liberation Sans',sans-serif;font-weight:bold" >10.0 T</text>
<line x1="265.3" y1="223.3" x2="286.6" y2="223.3" stroke="#78c31c" stroke-width="2.6" />
<text x="290" y="227.8" font-size="12.6" text-anchor="start" fill="#000" style="font-family:'Liberation Sans',sans-serif;font-weight:bold" >12.0 T</text>
<line x1="87.3" y1="233" x2="87.3" y2="237.5" stroke="#000" stroke-width="2.5" />
<text x="87.3" y="255.6" font-size="18" text-anchor="middle" fill="#000" style="font-family:'Liberation Sans',sans-serif;font-weight:bold" >2</text>
<line x1="136.5" y1="233" x2="136.5" y2="237.5" stroke="#000" stroke-width="2.5" />
<text x="136.5" y="255.6" font-size="18" text-anchor="middle" fill="#000" style="font-family:'Liberation Sans',sans-serif;font-weight:bold" >3</text>
<line x1="185.7" y1="233" x2="185.7" y2="237.5" stroke="#000" stroke-width="2.5" />
<text x="185.7" y="255.6" font-size="18" text-anchor="middle" fill="#000" style="font-family:'Liberation Sans',sans-serif;font-weight:bold" >4</text>
<line x1="234.9" y1="233" x2="234.9" y2="237.5" stroke="#000" stroke-width="2.5" />
<text x="234.9" y="255.6" font-size="18" text-anchor="middle" fill="#000" style="font-family:'Liberation Sans',sans-serif;font-weight:bold" >5</text>
<line x1="284.1" y1="233" x2="284.1" y2="237.5" stroke="#000" stroke-width="2.5" />
<text x="284.1" y="255.6" font-size="18" text-anchor="middle" fill="#000" style="font-family:'Liberation Sans',sans-serif;font-weight:bold" >6</text>
<line x1="333.3" y1="233" x2="333.3" y2="237.5" stroke="#000" stroke-width="2.5" />
<text x="333.3" y="255.6" font-size="18" text-anchor="middle" fill="#000" style="font-family:'Liberation Sans',sans-serif;font-weight:bold" >7</text>
<line x1="62.7" y1="233" x2="62.7" y2="235.5" stroke="#000" stroke-width="2.2" />
<line x1="111.9" y1="233" x2="111.9" y2="235.5" stroke="#000" stroke-width="2.2" />
<line x1="161.1" y1="233" x2="161.1" y2="235.5" stroke="#000" stroke-width="2.2" />
<line x1="210.3" y1="233" x2="210.3" y2="235.5" stroke="#000" stroke-width="2.2" />
<line x1="259.5" y1="233" x2="259.5" y2="235.5" stroke="#000" stroke-width="2.2" />
<line x1="308.7" y1="233" x2="308.7" y2="235.5" stroke="#000" stroke-width="2.2" />
<line x1="44" y1="216.7" x2="49" y2="216.7" stroke="#000" stroke-width="2.5" />
<text x="39.5" y="223.1" font-size="18" text-anchor="end" fill="#000" style="font-family:'Liberation Sans',sans-serif;font-weight:bold" >30</text>
<line x1="44" y1="164.8" x2="49" y2="164.8" stroke="#000" stroke-width="2.5" />
<text x="39.5" y="171.2" font-size="18" text-anchor="end" fill="#000" style="font-family:'Liberation Sans',sans-serif;font-weight:bold" >40</text>
<line x1="44" y1="112.9" x2="49" y2="112.9" stroke="#000" stroke-width="2.5" />
<text x="39.5" y="119.3" font-size="18" text-anchor="end" fill="#000" style="font-family:'Liberation Sans',sans-serif;font-weight:bold" >50</text>
<line x1="44" y1="61" x2="49" y2="61" stroke="#000" stroke-width="2.5" />
<text x="39.5" y="67.4" font-size="18" text-anchor="end" fill="#000" style="font-family:'Liberation Sans',sans-serif;font-weight:bold" >60</text>
<line x1="44" y1="9.1" x2="49" y2="9.1" stroke="#000" stroke-width="2.5" />
<text x="39.5" y="15.5" font-size="18" text-anchor="end" fill="#000" style="font-family:'Liberation Sans',sans-serif;font-weight:bold" >70</text>
<line x1="46.5" y1="190.8" x2="49" y2="190.8" stroke="#000" stroke-width="2.2" />
<line x1="46.5" y1="138.8" x2="49" y2="138.8" stroke="#000" stroke-width="2.2" />
<line x1="46.5" y1="86.9" x2="49" y2="86.9" stroke="#000" stroke-width="2.2" />
<line x1="46.5" y1="35" x2="49" y2="35" stroke="#000" stroke-width="2.2" />
<text x="66.2" y="24.8" font-size="19" text-anchor="middle" fill="#000" style="font-family:'Liberation Sans',sans-serif;font-weight:bold" >(a)</text>
<text x="184.5" y="273.1" font-size="19" text-anchor="middle" fill="#000" style="font-family:'Liberation Sans',sans-serif;font-weight:bold" >T (K)</text>
<text transform="translate(15,118.5) rotate(-90)" font-size="19" text-anchor="middle" style="font-family:'Liberation Sans',sans-serif;font-weight:bold">R <tspan style="font-weight:normal">(<tspan font-size="20.5">&#937;</tspan>)</tspan></text>
<line x1="237" y1="191.8" x2="222.4" y2="191.8" stroke="#0c2466" stroke-width="2.6"/>
<polygon points="216.4,191.8 223.4,188.2 221.9,191.8 223.4,195.4" fill="#0c2466"/>
<line x1="260" y1="101.2" x2="245.4" y2="101.2" stroke="#4a6fc2" stroke-width="2.6"/>
<polygon points="239.4,101.2 246.4,97.6 244.9,101.2 246.4,104.8" fill="#4a6fc2"/>
<line x1="61.9" y1="181.5" x2="79" y2="181.5" stroke="#7030a0" stroke-width="2.8"/>
<polygon points="86,181.5 78,185.5 79.5,181.5 78,177.5" fill="#7030a0"/>
<clipPath id="cb"><rect x="397.7" y="6.2" width="280.4" height="226"/></clipPath>
<g clip-path="url(#cb)">
<path d="M574.8,224.6h5.2v5.2h-5.2zM577.6,189.6h5.2v5.2h-5.2zM580,152.3h5.2v5.2h-5.2zM582.6,127h5.2v5.2h-5.2zM585.4,104h5.2v5.2h-5.2zM587.5,72.4h5.2v5.2h-5.2zM590.9,53.2h5.2v5.2h-5.2zM592.8,43.4h5.2v5.2h-5.2zM595,38.5h5.2v5.2h-5.2zM598.4,32.5h5.2v5.2h-5.2zM603.4,27.4h5.2v5.2h-5.2zM612.4,24.4h5.2v5.2h-5.2z" fill="#4d4d4d"/>
<path d="M573.2,215.9a3,3 0 1,0 6.1,0a3,3 0 1,0 -6.1,0zM575.6,185.6a3,3 0 1,0 6.1,0a3,3 0 1,0 -6.1,0zM578.4,150.8a3,3 0 1,0 6.1,0a3,3 0 1,0 -6.1,0zM580.8,123.6a3,3 0 1,0 6.1,0a3,3 0 1,0 -6.1,0zM583.4,104.3a3,3 0 1,0 6.1,0a3,3 0 1,0 -6.1,0zM585.6,75.6a3,3 0 1,0 6.1,0a3,3 0 1,0 -6.1,0zM588.6,53.6a3,3 0 1,0 6.1,0a3,3 0 1,0 -6.1,0zM591.8,44.9a3,3 0 1,0 6.1,0a3,3 0 1,0 -6.1,0zM595.6,38.5a3,3 0 1,0 6.1,0a3,3 0 1,0 -6.1,0zM598.8,32.9a3,3 0 1,0 6.1,0a3,3 0 1,0 -6.1,0zM602.2,29.1a3,3 0 1,0 6.1,0a3,3 0 1,0 -6.1,0zM609,26a3,3 0 1,0 6.1,0a3,3 0 1,0 -6.1,0z" fill="#ec3b3f"/>
<path d="M570.3,218.3L573.7,224.2L566.9,224.2zM572.7,205.3L576.1,211.2L569.3,211.2zM575,187.5L578.4,193.4L571.6,193.4zM577.4,160.3L580.8,166.2L574,166.2zM580.2,130.1L583.6,136L576.8,136zM582.8,108.8L586.2,114.7L579.4,114.7zM584.5,87.1L587.9,93L581.1,93zM588.2,58L591.6,63.9L584.8,63.9zM591.1,42.5L594.5,48.4L587.7,48.4zM593.9,36.3L597.3,42.2L590.5,42.2zM596.7,31.6L600.1,37.5L593.3,37.5zM599.5,27.9L602.9,33.8L596.1,33.8zM603.7,25L607.1,30.9L600.3,30.9zM610,22L613.4,27.9L606.6,27.9z" fill="#1f6fe0"/>
<path d="M564.9,201.2L568.3,195.3L561.5,195.3zM567.5,184.4L570.9,178.5L564.1,178.5zM570.3,157.4L573.7,151.5L566.9,151.5zM572.7,133.8L576.1,127.9L569.3,127.9zM575,110.1L578.4,104.2L571.6,104.2zM577.3,89.8L580.7,83.9L573.9,83.9zM579.8,69.7L583.2,63.8L576.4,63.8zM582.2,55.6L585.6,49.7L578.8,49.7zM584.5,45.2L587.9,39.3L581.1,39.3zM588.2,38.6L591.6,32.7L584.8,32.7zM591.1,33.9L594.5,28L587.7,28zM594.8,31.1L598.2,25.2L591.4,25.2zM598.6,29.2L602,23.3L595.2,23.3zM605,27.5L608.4,21.6L601.6,21.6z" fill="#2ea35a"/>
<path d="M543.1,184.4L546.4,188L543.1,191.6L539.8,188zM545.9,169.7L549.2,173.3L545.9,176.9L542.6,173.3zM548.3,158.4L551.6,162L548.3,165.6L545,162zM550.9,143L554.2,146.6L550.9,150.2L547.6,146.6zM553.3,123.1L556.6,126.7L553.3,130.3L550,126.7zM556,104.4L559.3,108L556,111.6L552.7,108zM558.4,86.6L561.7,90.2L558.4,93.8L555.1,90.2zM561,70.4L564.3,74L561,77.6L557.7,74zM563.5,60.8L566.8,64.4L563.5,68L560.2,64.4zM566.2,49.9L569.5,53.5L566.2,57.1L562.9,53.5zM568.4,41.4L571.7,45L568.4,48.6L565.1,45zM571.5,34.4L574.8,38L571.5,41.6L568.2,38zM575.5,28.4L578.8,32L575.5,35.6L572.2,32zM579.5,23.4L582.8,27L579.5,30.6L576.2,27zM584,20.9L587.3,24.5L584,28.1L580.7,24.5zM590,19.4L593.3,23L590,26.6L586.7,23z" fill="#b07ee8"/>
<path d="M525.9,150.1L531.8,146.7L531.8,153.5zM529,133.6L534.9,130.2L534.9,137zM532.1,105.3L538,101.9L538,108.7zM534.9,85.9L540.8,82.5L540.8,89.3zM538,72L543.9,68.6L543.9,75.4zM540.4,61.7L546.3,58.3L546.3,65.1zM542.5,55.5L548.4,52.1L548.4,58.9zM545.2,48.7L551.1,45.3L551.1,52.1zM548.7,39.7L554.6,36.3L554.6,43.1zM551.2,35.5L557.1,32.1L557.1,38.9zM553.9,31.4L559.8,28L559.8,34.8zM558,27.3L563.9,23.9L563.9,30.7zM563.1,24.6L569,21.2L569,28zM569.3,22.5L575.2,19.1L575.2,25.9zM577.6,21.1L583.5,17.7L583.5,24.5z" fill="#cc9614"/>
<path d="M510.4,159.9L504.5,156.5L504.5,163.3zM512.8,150.5L506.9,147.1L506.9,153.9zM515.4,137.3L509.5,133.9L509.5,140.7zM518,122.5L512.1,119.1L512.1,125.9zM520.6,108L514.7,104.6L514.7,111.4zM522.7,91.6L516.8,88.2L516.8,95zM524.8,76.8L518.9,73.4L518.9,80.2zM527.8,66.9L521.9,63.5L521.9,70.3zM530.5,58.2L524.6,54.8L524.6,61.6zM532.6,52.4L526.7,49L526.7,55.8zM534.5,47L528.6,43.6L528.6,50.4zM536.7,42.1L530.8,38.7L530.8,45.5zM539.2,35.9L533.3,32.5L533.3,39.3zM542.3,30.8L536.4,27.4L536.4,34.2zM545.4,27.3L539.5,23.9L539.5,30.7zM549.5,24.6L543.6,21.2L543.6,28zM555.7,22.5L549.8,19.1L549.8,25.9zM561.9,21.1L556,17.7L556,24.5z" fill="#1fc9d2"/>
<path d="M488.4,160.8L485.6,162.4L482.8,160.8L482.8,157.6L485.6,156L488.4,157.6zM491.9,144L489.1,145.6L486.3,144L486.3,140.8L489.1,139.2L491.9,140.8zM495,131.3L492.2,132.9L489.4,131.3L489.4,128.1L492.2,126.5L495,128.1zM498.3,112.8L495.5,114.4L492.7,112.8L492.7,109.6L495.5,108L498.3,109.6zM501,96.7L498.2,98.3L495.4,96.7L495.4,93.5L498.2,91.9L501,93.5zM503.4,80.4L500.6,82L497.8,80.4L497.8,77.2L500.6,75.6L503.4,77.2zM505.9,71.6L503.1,73.2L500.3,71.6L500.3,68.4L503.1,66.8L505.9,68.4zM508.6,63.3L505.8,64.9L503,63.3L503,60.1L505.8,58.5L508.6,60.1zM512.3,54.5L509.5,56.1L506.7,54.5L506.7,51.3L509.5,49.7L512.3,51.3zM514.8,48.3L512,49.9L509.2,48.3L509.2,45.1L512,43.5L514.8,45.1zM517.5,43.7L514.7,45.3L511.9,43.7L511.9,40.5L514.7,38.9L517.5,40.5zM519.9,38.6L517.1,40.2L514.3,38.6L514.3,35.4L517.1,33.8L519.9,35.4zM523,33.4L520.2,35L517.4,33.4L517.4,30.2L520.2,28.6L523,30.2zM526.1,30.3L523.3,31.9L520.5,30.3L520.5,27.1L523.3,25.5L526.1,27.1zM530.2,27.2L527.4,28.8L524.6,27.2L524.6,24L527.4,22.4L530.2,24zM535.4,24.8L532.6,26.4L529.8,24.8L529.8,21.6L532.6,20L535.4,21.6zM542.6,22.7L539.8,24.3L537,22.7L537,19.5L539.8,17.9L542.6,19.5z" fill="#7b4b4b"/>
<path d="M469.2,133L470.1,135.6L472.9,135.7L470.7,137.4L471.5,140.1L469.2,138.5L466.9,140.1L467.7,137.4L465.5,135.7L468.3,135.6zM471.8,121.9L472.7,124.5L475.5,124.6L473.3,126.3L474.1,129L471.8,127.4L469.5,129L470.3,126.3L468.1,124.6L470.9,124.5zM474.3,108.3L475.2,110.9L478,111L475.8,112.7L476.6,115.4L474.3,113.8L472,115.4L472.8,112.7L470.6,111L473.4,110.9zM476.9,97L477.8,99.6L480.6,99.7L478.4,101.4L479.2,104.1L476.9,102.5L474.6,104.1L475.4,101.4L473.2,99.7L476,99.6zM479.2,84L480.1,86.6L482.9,86.7L480.7,88.4L481.5,91.1L479.2,89.5L476.9,91.1L477.7,88.4L475.5,86.7L478.3,86.6zM481.6,75.4L482.5,78L485.3,78.1L483.1,79.8L483.9,82.5L481.6,80.9L479.3,82.5L480.1,79.8L477.9,78.1L480.7,78zM484.1,66.1L485,68.7L487.8,68.8L485.6,70.5L486.4,73.2L484.1,71.6L481.8,73.2L482.6,70.5L480.4,68.8L483.2,68.7zM486.8,56.8L487.7,59.4L490.5,59.5L488.3,61.2L489.1,63.9L486.8,62.3L484.5,63.9L485.3,61.2L483.1,59.5L485.9,59.4zM489.3,51.6L490.2,54.2L493,54.3L490.8,56L491.6,58.7L489.3,57.1L487,58.7L487.8,56L485.6,54.3L488.4,54.2zM491.9,44L492.8,46.6L495.6,46.7L493.4,48.4L494.2,51.1L491.9,49.5L489.6,51.1L490.4,48.4L488.2,46.7L491,46.6zM495,39.9L495.9,42.5L498.7,42.6L496.5,44.3L497.3,47L495,45.4L492.7,47L493.5,44.3L491.3,42.6L494.1,42.5zM497.1,35.1L498,37.7L500.8,37.8L498.6,39.5L499.4,42.2L497.1,40.6L494.8,42.2L495.6,39.5L493.4,37.8L496.2,37.7zM499.2,30L500.1,32.6L502.9,32.7L500.7,34.4L501.5,37.1L499.2,35.5L496.9,37.1L497.7,34.4L495.5,32.7L498.3,32.6zM502.7,25.9L503.6,28.5L506.4,28.6L504.2,30.3L505,33L502.7,31.4L500.4,33L501.2,30.3L499,28.6L501.8,28.5zM505.8,23.1L506.7,25.7L509.5,25.8L507.3,27.5L508.1,30.2L505.8,28.6L503.5,30.2L504.3,27.5L502.1,25.8L504.9,25.7zM508.9,20.7L509.8,23.3L512.6,23.4L510.4,25.1L511.2,27.8L508.9,26.2L506.6,27.8L507.4,25.1L505.2,23.4L508,23.3zM512,19.1L512.9,21.7L515.7,21.8L513.5,23.5L514.3,26.2L512,24.6L509.7,26.2L510.5,23.5L508.3,21.8L511.1,21.7zM515.1,17.6L516,20.2L518.8,20.3L516.6,22L517.4,24.7L515.1,23.1L512.8,24.7L513.6,22L511.4,20.3L514.2,20.2zM519,16.5L519.9,19.1L522.7,19.2L520.5,20.9L521.3,23.6L519,22L516.7,23.6L517.5,20.9L515.3,19.2L518.1,19.1zM523.3,15.7L524.2,18.3L527,18.4L524.8,20.1L525.6,22.8L523.3,21.2L521,22.8L521.8,20.1L519.6,18.4L522.4,18.3z" fill="#8a8a12"/>
<path d="M434.2,107.5L437.4,109.8L436.2,113.7L432.2,113.7L431,109.8zM437.3,93.7L440.5,96L439.3,99.9L435.3,99.9L434.1,96zM439.3,85.4L442.5,87.7L441.3,91.6L437.3,91.6L436.1,87.7zM442.4,76.6L445.6,78.9L444.4,82.8L440.4,82.8L439.2,78.9zM444.5,70L447.7,72.3L446.5,76.2L442.5,76.2L441.3,72.3zM447.6,63.8L450.8,66.1L449.6,70L445.6,70L444.4,66.1zM449.7,56.6L452.9,58.9L451.7,62.8L447.7,62.8L446.5,58.9zM452.8,52.4L456,54.7L454.8,58.6L450.8,58.6L449.6,54.7zM455.4,45.2L458.6,47.5L457.4,51.4L453.4,51.4L452.2,47.5zM457.9,41.1L461.1,43.4L459.9,47.3L455.9,47.3L454.7,43.4zM460.6,35.9L463.8,38.2L462.6,42.1L458.6,42.1L457.4,38.2zM463.7,31.8L466.9,34.1L465.7,38L461.7,38L460.5,34.1zM467.2,26.2L470.4,28.5L469.2,32.4L465.2,32.4L464,28.5zM471.3,22.9L474.5,25.2L473.3,29.1L469.3,29.1L468.1,25.2zM476.5,20.9L479.7,23.2L478.5,27.1L474.5,27.1L473.3,23.2zM481.6,18.4L484.8,20.7L483.6,24.6L479.6,24.6L478.4,20.7zM487.8,16.3L491,18.6L489.8,22.5L485.8,22.5L484.6,18.6zM494,15.5L497.2,17.8L496,21.7L492,21.7L490.8,17.8zM500,15.1L503.2,17.4L502,21.3L498,21.3L496.8,17.4z" fill="#ff6a12"/>
<path d="M422.5,42.1a3,3 0 1,0 6,0a3,3 0 1,0 -6,0zM425,38a3,3 0 1,0 6,0a3,3 0 1,0 -6,0zM429.1,32.8a3,3 0 1,0 6,0a3,3 0 1,0 -6,0zM432,30a3,3 0 1,0 6,0a3,3 0 1,0 -6,0zM435.3,28.7a3,3 0 1,0 6,0a3,3 0 1,0 -6,0zM438.5,26.5a3,3 0 1,0 6,0a3,3 0 1,0 -6,0zM441.5,24.6a3,3 0 1,0 6,0a3,3 0 1,0 -6,0zM446,22a3,3 0 1,0 6,0a3,3 0 1,0 -6,0zM451.8,19.4a3,3 0 1,0 6,0a3,3 0 1,0 -6,0zM457,18a3,3 0 1,0 6,0a3,3 0 1,0 -6,0zM462.1,17a3,3 0 1,0 6,0a3,3 0 1,0 -6,0zM468,15.5a3,3 0 1,0 6,0a3,3 0 1,0 -6,0zM474.5,14.3a3,3 0 1,0 6,0a3,3 0 1,0 -6,0zM482,13.5a3,3 0 1,0 6,0a3,3 0 1,0 -6,0zM491,12.8a3,3 0 1,0 6,0a3,3 0 1,0 -6,0z" fill="#6b9bd2"/><path d="M423.7,41.4a1.1,1.1 0 1,0 2.2,0a1.1,1.1 0 1,0 -2.2,0zM426.2,37.3a1.1,1.1 0 1,0 2.2,0a1.1,1.1 0 1,0 -2.2,0zM430.3,32.1a1.1,1.1 0 1,0 2.2,0a1.1,1.1 0 1,0 -2.2,0zM433.2,29.3a1.1,1.1 0 1,0 2.2,0a1.1,1.1 0 1,0 -2.2,0zM436.5,28a1.1,1.1 0 1,0 2.2,0a1.1,1.1 0 1,0 -2.2,0zM439.7,25.8a1.1,1.1 0 1,0 2.2,0a1.1,1.1 0 1,0 -2.2,0zM442.7,23.9a1.1,1.1 0 1,0 2.2,0a1.1,1.1 0 1,0 -2.2,0zM447.2,21.3a1.1,1.1 0 1,0 2.2,0a1.1,1.1 0 1,0 -2.2,0zM453,18.7a1.1,1.1 0 1,0 2.2,0a1.1,1.1 0 1,0 -2.2,0zM458.2,17.3a1.1,1.1 0 1,0 2.2,0a1.1,1.1 0 1,0 -2.2,0zM463.3,16.3a1.1,1.1 0 1,0 2.2,0a1.1,1.1 0 1,0 -2.2,0zM469.2,14.8a1.1,1.1 0 1,0 2.2,0a1.1,1.1 0 1,0 -2.2,0zM475.7,13.6a1.1,1.1 0 1,0 2.2,0a1.1,1.1 0 1,0 -2.2,0zM483.2,12.8a1.1,1.1 0 1,0 2.2,0a1.1,1.1 0 1,0 -2.2,0zM492.2,12.1a1.1,1.1 0 1,0 2.2,0a1.1,1.1 0 1,0 -2.2,0z" fill="#e8f0fa"/>
<path d="M422.1,19.9h5.6M424.9,17.1v5.6M425.7,19.2h5.6M428.5,16.4v5.6M429.2,18.6h5.6M432,15.8v5.6M432.7,18h5.6M435.5,15.2v5.6M436.2,17.4h5.6M439,14.6v5.6M439.7,16.8h5.6M442.5,14v5.6M443.2,16h5.6M446,13.2v5.6M446.7,15.4h5.6M449.5,12.6v5.6M450.2,14.8h5.6M453,12v5.6M453.7,14.2h5.6M456.5,11.4v5.6M457.2,13.6h5.6M460,10.8v5.6M460.7,13h5.6M463.5,10.2v5.6M464.2,12.5h5.6M467,9.7v5.6M467.7,12h5.6M470.5,9.2v5.6M471.2,11.5h5.6M474,8.7v5.6M474.7,11.2h5.6M477.5,8.4v5.6" stroke="#78c31c" stroke-width="1.1" fill="none"/>
<path d="M672.7,18.2L676,21.8L672.7,25.4L669.4,21.8z" fill="#b07ee8"/>
<path d="M634.2,20.5L628.3,17.1L628.3,23.9z" fill="#1fc9d2"/>
<path d="M564.4,20.7L561.7,22.3L558.9,20.7L558.9,17.5L561.7,15.9L564.4,17.5z" fill="#7b4b4b"/>
<path d="M677,21L671.1,17.6L671.1,24.4z" fill="#1fc9d2"/>
<path d="M651.7,15.1L654.9,17.4L653.7,21.3L649.7,21.3L648.4,17.4z" fill="#ff6a12"/>
<path d="M620.3,19.6L623.7,25.5L616.9,25.5z" fill="#1f6fe0"/>
<path d="M656.1,14.7L657,17.3L659.8,17.4L657.6,19.1L658.3,21.7L656.1,20.2L653.8,21.7L654.5,19.1L652.3,17.4L655.1,17.3z" fill="#8a8a12"/>
<path d="M619.7,23.8a3,3 0 1,0 6.1,0a3,3 0 1,0 -6.1,0z" fill="#ec3b3f"/>
<path d="M674,19.8h5.2v5.2h-5.2z" fill="#4d4d4d"/>
<path d="M579.6,21.3L573.7,17.9L573.7,24.7z" fill="#1fc9d2"/>
<path d="M537.8,14.6L538.8,17.2L541.6,17.3L539.4,19L540.1,21.7L537.8,20.1L535.6,21.7L536.3,19L534.1,17.3L536.9,17.2z" fill="#8a8a12"/>
<path d="M586.1,15.4L589.4,17.8L588.1,21.6L584.1,21.6L582.9,17.8z" fill="#ff6a12"/>
<path d="M641.2,20.5L635.3,17.1L635.3,23.9z" fill="#1fc9d2"/>
<path d="M623.1,22.9a3,3 0 1,0 6.1,0a3,3 0 1,0 -6.1,0z" fill="#ec3b3f"/>
<path d="M581.7,21.1L579,22.7L576.2,21.1L576.2,17.9L579,16.3L581.7,17.9z" fill="#7b4b4b"/>
<path d="M654.6,17.9L657.9,21.5L654.6,25.1L651.3,21.5z" fill="#b07ee8"/>
<path d="M626.6,25.4L630,19.5L623.2,19.5z" fill="#2ea35a"/>
<path d="M600.5,15.8L603.7,18.2L602.5,22L598.5,22L597.2,18.2z" fill="#ff6a12"/>
<path d="M644.5,17.1L647.8,20.7L644.5,24.3L641.2,20.7z" fill="#b07ee8"/>
<path d="M670,20.2L664.1,16.8L664.1,23.6z" fill="#1fc9d2"/>
<path d="M646.3,18.8L649.7,24.7L642.9,24.7z" fill="#1f6fe0"/>
<path d="M660.9,20.2L658.1,21.8L655.3,20.2L655.3,17L658.1,15.4L660.9,17z" fill="#7b4b4b"/>
<path d="M534.2,16L535.1,18.6L537.9,18.7L535.7,20.4L536.5,23.1L534.2,21.5L531.9,23.1L532.6,20.4L530.4,18.7L533.2,18.6z" fill="#8a8a12"/>
<path d="M648.7,20.3L642.8,16.9L642.8,23.7z" fill="#1fc9d2"/>
<path d="M668.7,17.4L672,21L668.7,24.6L665.4,21z" fill="#b07ee8"/>
<path d="M660.7,17.5L664.1,23.4L657.3,23.4z" fill="#1f6fe0"/>
<path d="M531.1,15.8L532,18.4L534.8,18.5L532.6,20.2L533.4,22.9L531.1,21.3L528.8,22.9L529.6,20.2L527.4,18.5L530.2,18.4zM678.6,15.2L679.5,17.8L682.3,17.9L680.1,19.6L680.9,22.2L678.6,20.7L676.3,22.2L677.1,19.6L674.9,17.9L677.6,17.8z" fill="#8a8a12"/>
<path d="M654.9,24.4L658.3,18.5L651.5,18.5z" fill="#2ea35a"/>
<path d="M622.2,18.1L625.5,21.7L622.2,25.3L618.9,21.7z" fill="#b07ee8"/>
<path d="M646.8,19.8L644.1,21.4L641.3,19.8L641.3,16.6L644.1,15L646.8,16.6z" fill="#7b4b4b"/>
<path d="M559.6,13.6L560.5,16.2L563.3,16.3L561.1,18L561.9,20.6L559.6,19.1L557.3,20.6L558.1,18L555.9,16.3L558.6,16.2z" fill="#8a8a12"/>
<path d="M507.4,15.1L510.6,17.5L509.4,21.3L505.4,21.3L504.1,17.5z" fill="#ff6a12"/>
<path d="M624.2,18.9L630.1,15.5L630.1,22.3zM602.8,18.5L608.7,15.1L608.7,21.9z" fill="#cc9614"/>
<path d="M546.4,14L549.6,16.4L548.4,20.2L544.4,20.2L543.2,16.4z" fill="#ff6a12"/>
<path d="M576.7,20.6L570.8,17.2L570.8,24z" fill="#1fc9d2"/>
<path d="M580.9,14.4L581.8,17L584.6,17.1L582.4,18.8L583.2,21.5L580.9,19.9L578.6,21.5L579.4,18.8L577.2,17.1L580,17z" fill="#8a8a12"/>
<path d="M579.2,20L576.4,21.6L573.6,20L573.6,16.8L576.4,15.2L579.2,16.8zM650.5,21.2L647.7,22.8L645,21.2L645,18L647.7,16.4L650.5,18z" fill="#7b4b4b"/>
<path d="M637.4,20.8a3,3 0 1,0 6.1,0a3,3 0 1,0 -6.1,0z" fill="#ec3b3f"/>
<path d="M593.8,15.3L597,17.7L595.8,21.5L591.8,21.5L590.6,17.7z" fill="#ff6a12"/>
<path d="M614.7,18.1L618,21.7L614.7,25.3L611.4,21.7z" fill="#b07ee8"/>
<path d="M525.3,15.7L528.6,18.1L527.3,21.9L523.3,21.9L522.1,18.1z" fill="#ff6a12"/>
<path d="M630.3,19.6h5.2v5.2h-5.2zM662.5,18.6h5.2v5.2h-5.2z" fill="#4d4d4d"/>
<path d="M658.7,25.4L662.1,19.5L655.3,19.5z" fill="#2ea35a"/>
<path d="M652.4,21.8a3,3 0 1,0 6.1,0a3,3 0 1,0 -6.1,0z" fill="#ec3b3f"/>
<path d="M602,19.8L596.1,16.4L596.1,23.2z" fill="#1fc9d2"/>
<path d="M634.9,18.5L638.3,24.4L631.5,24.4z" fill="#1f6fe0"/>
<path d="M605.8,18L611.7,14.6L611.7,21.4z" fill="#cc9614"/>
<path d="M644.4,14.2L647.6,16.5L646.4,20.3L642.4,20.3L641.2,16.5z" fill="#ff6a12"/>
<path d="M592.3,14.9L593.2,17.5L596,17.6L593.8,19.3L594.6,22L592.3,20.4L590,22L590.7,19.3L588.5,17.6L591.3,17.5z" fill="#8a8a12"/>
<path d="M678.3,18.1L681.7,24L674.9,24z" fill="#1f6fe0"/>
<path d="M532.6,13.9L535.8,16.3L534.6,20.1L530.6,20.1L529.4,16.3z" fill="#ff6a12"/>
<path d="M654.1,20.6L651.3,22.2L648.5,20.6L648.5,17.4L651.3,15.8L654.1,17.4z" fill="#7b4b4b"/>
<path d="M672.7,15.3L676,17.6L674.7,21.4L670.7,21.4L669.5,17.6z" fill="#ff6a12"/>
<path d="M663.5,14.2L664.4,16.8L667.2,16.9L665,18.6L665.8,21.2L663.5,19.7L661.2,21.2L662,18.6L659.8,16.9L662.5,16.8z" fill="#8a8a12"/>
<path d="M546.5,23.2L543.7,24.8L541,23.2L541,20L543.7,18.4L546.5,20z" fill="#7b4b4b"/>
<path d="M587.7,14.7L588.6,17.4L591.4,17.4L589.2,19.1L590,21.8L587.7,20.2L585.4,21.8L586.1,19.1L584,17.4L586.7,17.4z" fill="#8a8a12"/>
<path d="M614.9,14.8L618.1,17.1L616.9,20.9L612.9,20.9L611.7,17.1z" fill="#ff6a12"/>
<path d="M623.7,22.9h5.2v5.2h-5.2z" fill="#4d4d4d"/>
<path d="M659.9,14.5L660.8,17.1L663.6,17.2L661.4,18.9L662.1,21.6L659.9,20L657.6,21.6L658.3,18.9L656.1,17.2L658.9,17.1z" fill="#8a8a12"/>
<path d="M591.6,20.1L597.5,16.7L597.5,23.5z" fill="#cc9614"/>
<path d="M552.3,13.8L553.2,16.4L556,16.5L553.8,18.2L554.6,20.8L552.3,19.3L550,20.8L550.8,18.2L548.6,16.5L551.4,16.4z" fill="#8a8a12"/>
<path d="M609.6,18.9L615.5,15.5L615.5,22.3z" fill="#cc9614"/>
<path d="M668.6,19.8L665.8,21.4L663.1,19.8L663.1,16.6L665.8,15L668.6,16.6z" fill="#7b4b4b"/>
<path d="M619,15.3L622.2,17.6L621,21.4L617,21.4L615.8,17.6z" fill="#ff6a12"/>
<path d="M652.3,25.1L655.7,19.2L648.9,19.2z" fill="#2ea35a"/>
<path d="M675.2,18.3L681.1,14.9L681.1,21.7zM596,19.1L601.9,15.7L601.9,22.5z" fill="#cc9614"/>
<path d="M630.8,15.1L631.7,17.7L634.5,17.8L632.3,19.5L633.1,22.2L630.8,20.6L628.5,22.2L629.3,19.5L627.1,17.8L629.9,17.7z" fill="#8a8a12"/>
<path d="M568.3,20.3L565.5,21.9L562.8,20.3L562.8,17.1L565.5,15.5L568.3,17.1zM665,19.9L662.2,21.5L659.4,19.9L659.4,16.7L662.2,15.1L665,16.7z" fill="#7b4b4b"/>
<path d="M658.6,20.1L652.7,16.7L652.7,23.5zM662.1,19.5L656.2,16.1L656.2,22.9z" fill="#1fc9d2"/>
<path d="M599.3,13.5L600.2,16.1L603,16.2L600.8,17.9L601.6,20.6L599.3,19L597,20.6L597.7,17.9L595.6,16.2L598.3,16.1z" fill="#8a8a12"/>
<path d="M593,20.3L590.2,21.9L587.5,20.3L587.5,17.1L590.2,15.5L593,17.1zM632.3,19.8L629.6,21.4L626.8,19.8L626.8,16.6L629.6,15L632.3,16.6z" fill="#7b4b4b"/>
<path d="M659.5,19.1h5.2v5.2h-5.2z" fill="#4d4d4d"/>
<path d="M584.9,20.5L590.8,17.1L590.8,23.9z" fill="#cc9614"/>
<path d="M579.8,15.7L583,18.1L581.8,21.9L577.8,21.9L576.5,18.1z" fill="#ff6a12"/>
<path d="M630.4,24.2L633.8,18.3L627,18.3z" fill="#2ea35a"/>
<path d="M564.2,15L567.5,17.4L566.2,21.2L562.2,21.2L561,17.4z" fill="#ff6a12"/>
<path d="M571.5,19.9L568.7,21.5L565.9,19.9L565.9,16.7L568.7,15.1L571.5,16.7z" fill="#7b4b4b"/>
<path d="M613.1,21.6L616.5,27.5L609.7,27.5z" fill="#1f6fe0"/>
<path d="M661,18.6L666.9,15.2L666.9,22z" fill="#cc9614"/>
<path d="M674.4,13.5L675.4,16.1L678.1,16.2L675.9,17.9L676.7,20.6L674.4,19L672.1,20.6L672.9,17.9L670.7,16.2L673.5,16.1z" fill="#8a8a12"/>
<path d="M560.9,20L558.1,21.6L555.3,20L555.3,16.8L558.1,15.2L560.9,16.8z" fill="#7b4b4b"/>
<path d="M664,19.9L669.9,16.5L669.9,23.3z" fill="#cc9614"/>
<path d="M560.8,15.5L564,17.8L562.8,21.6L558.8,21.6L557.5,17.8zM629.8,15L633,17.4L631.8,21.2L627.8,21.2L626.6,17.4z" fill="#ff6a12"/>
<path d="M605.4,20.5L599.5,17.1L599.5,23.9z" fill="#1fc9d2"/>
<path d="M662.2,13.9L665.4,16.3L664.2,20.1L660.2,20.1L659,16.3z" fill="#ff6a12"/>
<path d="M614,19.4L619.9,16L619.9,22.8z" fill="#cc9614"/>
<path d="M619.2,16.8L622.5,20.4L619.2,24L615.9,20.4z" fill="#b07ee8"/>
<path d="M638.5,19.9L644.4,16.5L644.4,23.3z" fill="#cc9614"/>
<path d="M645,24.8L648.4,18.9L641.6,18.9z" fill="#2ea35a"/>
<path d="M635.1,18.5L641,15.1L641,21.9z" fill="#cc9614"/>
<path d="M666.9,18.8h5.2v5.2h-5.2z" fill="#4d4d4d"/>
<path d="M672.2,19.6L669.4,21.2L666.6,19.6L666.6,16.4L669.4,14.8L672.2,16.4z" fill="#7b4b4b"/>
<path d="M562.9,14.2L563.8,16.8L566.6,16.9L564.4,18.6L565.2,21.3L562.9,19.7L560.6,21.3L561.4,18.6L559.2,16.9L562,16.8z" fill="#8a8a12"/>
<path d="M656.4,18.2L659.8,24.1L653,24.1z" fill="#1f6fe0"/>
<path d="M594,19.9L597.3,23.5L594,27.1L590.7,23.5zM650.7,16.5L654,20.1L650.7,23.7L647.4,20.1z" fill="#b07ee8"/>
<path d="M569.1,21.2L563.2,17.8L563.2,24.6zM626.2,19.5L620.3,16.1L620.3,22.9z" fill="#1fc9d2"/>
<path d="M611,15.5L614.2,17.9L613,21.7L609,21.7L607.8,17.9zM503.6,15.8L506.9,18.2L505.6,22L501.6,22L500.4,18.2z" fill="#ff6a12"/>
<path d="M627.4,22.6a3,3 0 1,0 6.1,0a3,3 0 1,0 -6.1,0z" fill="#ec3b3f"/>
<path d="M681.6,14.5L682.5,17.1L685.3,17.2L683.1,18.9L683.9,21.5L681.6,20L679.3,21.5L680.1,18.9L677.9,17.2L680.7,17.1z" fill="#8a8a12"/>
<path d="M649.5,18.1L655.4,14.7L655.4,21.5z" fill="#cc9614"/>
<path d="M636.5,17.9L639.8,21.5L636.5,25.1L633.2,21.5z" fill="#b07ee8"/>
<path d="M583.4,15.4L586.6,17.7L585.4,21.5L581.4,21.5L580.2,17.7z" fill="#ff6a12"/>
<path d="M641.6,23.9L645,18L638.2,18z" fill="#2ea35a"/>
<path d="M614.4,19.6L611.6,21.2L608.8,19.6L608.8,16.4L611.6,14.8L614.4,16.4z" fill="#7b4b4b"/>
<path d="M550.1,14.1L553.4,16.5L552.1,20.3L548.2,20.3L546.9,16.5z" fill="#ff6a12"/>
<path d="M644.8,21.4a3,3 0 1,0 6.1,0a3,3 0 1,0 -6.1,0z" fill="#ec3b3f"/>
<path d="M628.5,18.6L631.9,24.5L625.1,24.5z" fill="#1f6fe0"/>
<path d="M598.9,18.6L604.8,15.2L604.8,22z" fill="#cc9614"/>
<path d="M637,21.2L631.1,17.8L631.1,24.6z" fill="#1fc9d2"/>
<path d="M624.5,19L627.9,24.9L621.1,24.9z" fill="#1f6fe0"/>
<path d="M526.7,16.3L527.7,18.9L530.4,19L528.3,20.7L529,23.3L526.7,21.8L524.4,23.3L525.2,20.7L523,19L525.8,18.9z" fill="#8a8a12"/>
<path d="M675.9,14.9L679.1,17.3L677.9,21.1L673.9,21.1L672.7,17.3z" fill="#ff6a12"/>
<path d="M584,19.8L578.1,16.4L578.1,23.2z" fill="#1fc9d2"/>
<path d="M597,19.8L600.3,23.4L597,27L593.7,23.4z" fill="#b07ee8"/>
<path d="M575.5,14.4L578.7,16.8L577.5,20.6L573.5,20.6L572.2,16.8z" fill="#ff6a12"/>
<path d="M646.1,13.9L647.1,16.5L649.8,16.6L647.6,18.3L648.4,21L646.1,19.4L643.8,21L644.6,18.3L642.4,16.6L645.2,16.5z" fill="#8a8a12"/>
<path d="M616.8,20L620.2,25.9L613.4,25.9z" fill="#1f6fe0"/>
<path d="M590.3,14.8L593.5,17.1L592.3,20.9L588.3,20.9L587,17.1z" fill="#ff6a12"/>
<path d="M608.2,26.5L611.6,20.6L604.8,20.6z" fill="#2ea35a"/>
<path d="M671.6,18.9L677.5,15.5L677.5,22.3z" fill="#cc9614"/>
<path d="M620,14.3L621,16.9L623.7,17L621.5,18.7L622.3,21.3L620,19.8L617.7,21.3L618.5,18.7L616.3,17L619.1,16.9z" fill="#8a8a12"/>
<path d="M626.4,20.5h5.2v5.2h-5.2z" fill="#4d4d4d"/>
<path d="M669.6,25.2L673,19.3L666.2,19.3z" fill="#2ea35a"/>
<path d="M639.2,19L642.6,24.9L635.8,24.9z" fill="#1f6fe0"/>
<path d="M541.3,15.2L542.3,17.8L545,17.9L542.9,19.6L543.6,22.3L541.3,20.7L539,22.3L539.8,19.6L537.6,17.9L540.4,17.8zM649.4,15.2L650.3,17.8L653.1,17.9L650.9,19.6L651.7,22.2L649.4,20.7L647.1,22.2L647.9,19.6L645.7,17.9L648.4,17.8z" fill="#8a8a12"/>
<path d="M618,19.9L615.3,21.5L612.5,19.9L612.5,16.7L615.3,15.1L618,16.7z" fill="#7b4b4b"/>
<path d="M630.3,20.4L624.4,17L624.4,23.8z" fill="#1fc9d2"/>
<path d="M640.4,15.6L643.6,17.9L642.4,21.7L638.4,21.7L637.1,17.9z" fill="#ff6a12"/>
<path d="M673.5,20.8L667.6,17.4L667.6,24.2z" fill="#1fc9d2"/>
<path d="M618.9,25.7L622.3,19.8L615.5,19.8z" fill="#2ea35a"/>
<path d="M658.1,14.2L661.4,16.5L660.1,20.3L656.1,20.3L654.9,16.5z" fill="#ff6a12"/>
<path d="M646.1,19.1L652,15.7L652,22.5z" fill="#cc9614"/>
<path d="M642.4,18.6L645.8,24.5L639,24.5z" fill="#1f6fe0"/>
<path d="M617.4,19.2L623.3,15.8L623.3,22.6z" fill="#cc9614"/>
<path d="M608,18.4L611.3,22L608,25.6L604.7,22z" fill="#b07ee8"/>
<path d="M627.6,19.2L633.5,15.8L633.5,22.6z" fill="#cc9614"/>
<path d="M616,20.2L610.1,16.8L610.1,23.6z" fill="#1fc9d2"/>
<path d="M652.2,18.6h5.2v5.2h-5.2zM676.7,18.8h5.2v5.2h-5.2z" fill="#4d4d4d"/>
<path d="M634.1,21a3,3 0 1,0 6.1,0a3,3 0 1,0 -6.1,0zM666.2,20.5a3,3 0 1,0 6.1,0a3,3 0 1,0 -6.1,0z" fill="#ec3b3f"/>
<path d="M590.6,20.6L584.7,17.2L584.7,24z" fill="#1fc9d2"/>
<path d="M630.3,22.2a3,3 0 1,0 6.1,0a3,3 0 1,0 -6.1,0z" fill="#ec3b3f"/>
<path d="M666.9,15.2L667.9,17.8L670.6,17.9L668.4,19.6L669.2,22.2L666.9,20.7L664.6,22.2L665.4,19.6L663.2,17.9L666,17.8z" fill="#8a8a12"/>
<path d="M619.6,22.4h5.2v5.2h-5.2z" fill="#4d4d4d"/>
<path d="M600.5,17.9L603.8,21.5L600.5,25.1L597.2,21.5z" fill="#b07ee8"/>
<path d="M620.3,18.8L626.2,15.4L626.2,22.2z" fill="#cc9614"/>
<path d="M647.9,24L651.3,18.1L644.5,18.1z" fill="#2ea35a"/>
<path d="M588.2,20.4L594.1,17L594.1,23.8z" fill="#cc9614"/>
<path d="M575,19.3L572.3,20.9L569.5,19.3L569.5,16.1L572.3,14.5L575,16.1zM600.8,20L598,21.6L595.2,20L595.2,16.8L598,15.2L600.8,16.8zM629.2,20.4L626.4,22L623.7,20.4L623.7,17.2L626.4,15.6L629.2,17.2z" fill="#7b4b4b"/>
<path d="M629.1,17.5L632.4,21.1L629.1,24.7L625.8,21.1zM640.7,18.3L644,21.9L640.7,25.5L637.4,21.9z" fill="#b07ee8"/>
<path d="M680.2,25.5L683.6,19.6L676.8,19.6z" fill="#2ea35a"/>
<path d="M637.3,19.3h5.2v5.2h-5.2z" fill="#4d4d4d"/>
<path d="M585.1,14.3L586,16.9L588.8,17L586.6,18.7L587.4,21.3L585.1,19.8L582.8,21.3L583.6,18.7L581.4,17L584.1,16.9z" fill="#8a8a12"/>
<path d="M659.4,21.1a3,3 0 1,0 6.1,0a3,3 0 1,0 -6.1,0z" fill="#ec3b3f"/>
<path d="M633.2,18.1L636.5,21.7L633.2,25.3L629.9,21.7z" fill="#b07ee8"/>
<path d="M603.9,20.8L601.1,22.4L598.3,20.8L598.3,17.6L601.1,16L603.9,17.6zM607.9,19.6L605.1,21.2L602.3,19.6L602.3,16.4L605.1,14.8L607.9,16.4z" fill="#7b4b4b"/>
<path d="M624.5,13.8L625.5,16.5L628.2,16.5L626.1,18.2L626.8,20.9L624.5,19.3L622.2,20.9L623,18.2L620.8,16.5L623.6,16.5zM606,14.4L606.9,17L609.7,17.1L607.5,18.8L608.2,21.4L606,19.9L603.7,21.4L604.4,18.8L602.2,17.1L605,17z" fill="#8a8a12"/>
<path d="M581.1,20.2L587,16.8L587,23.6z" fill="#cc9614"/>
<path d="M619.8,19.4L613.9,16L613.9,22.8z" fill="#1fc9d2"/>
<path d="M682.9,20L680.1,21.6L677.4,20L677.4,16.8L680.1,15.2L682.9,16.8z" fill="#7b4b4b"/>
<path d="M596.8,14.9L600,17.2L598.8,21L594.8,21L593.5,17.2zM669.1,14.4L672.3,16.7L671.1,20.5L667.1,20.5L665.9,16.7z" fill="#ff6a12"/>
<path d="M625.5,19.5L622.7,21.1L620,19.5L620,16.3L622.7,14.7L625.5,16.3z" fill="#7b4b4b"/>
<path d="M574.3,15.2L575.2,17.8L578,17.9L575.8,19.6L576.5,22.3L574.3,20.7L572,22.3L572.7,19.6L570.5,17.9L573.3,17.8z" fill="#8a8a12"/>
<path d="M607.9,15.9L611.1,18.2L609.8,22L605.9,22L604.6,18.2z" fill="#ff6a12"/>
<path d="M635.2,14.4L636.2,17L639,17.1L636.8,18.8L637.5,21.4L635.2,19.9L633,21.4L633.7,18.8L631.5,17.1L634.3,17z" fill="#8a8a12"/>
<path d="M586.6,19.9L580.7,16.5L580.7,23.3z" fill="#1fc9d2"/>
<path d="M678.8,18.1L684.7,14.7L684.7,21.5z" fill="#cc9614"/>
<path d="M521.9,14.6L525.1,17L523.9,20.8L519.9,20.8L518.6,17z" fill="#ff6a12"/>
<path d="M652.9,18L658.8,14.6L658.8,21.4z" fill="#cc9614"/>
<path d="M552.8,22.6L550.1,24.2L547.3,22.6L547.3,19.4L550.1,17.8L552.8,19.4z" fill="#7b4b4b"/>
<path d="M625.9,17L629.2,20.6L625.9,24.2L622.6,20.6z" fill="#b07ee8"/>
<path d="M571.8,14.8L575,17.2L573.8,21L569.8,21L568.5,17.2z" fill="#ff6a12"/>
<path d="M609.2,15L610.2,17.6L612.9,17.7L610.8,19.4L611.5,22L609.2,20.5L606.9,22L607.7,19.4L605.5,17.7L608.3,17.6z" fill="#8a8a12"/>
<path d="M633.9,18.8h5.2v5.2h-5.2z" fill="#4d4d4d"/>
<path d="M656.3,19.4L662.2,16L662.2,22.8z" fill="#cc9614"/>
<path d="M648,17.8L651.3,21.4L648,25L644.7,21.4z" fill="#b07ee8"/>
<path d="M670.5,14L671.4,16.6L674.2,16.7L672,18.4L672.8,21L670.5,19.5L668.2,21L669,18.4L666.8,16.7L669.6,16.6z" fill="#8a8a12"/>
<path d="M554.2,15.4L557.5,17.8L556.2,21.6L552.2,21.6L551,17.8z" fill="#ff6a12"/>
<path d="M675.1,19L678.5,24.9L671.7,24.9z" fill="#1f6fe0"/>
<path d="M622,19.2L619.2,20.8L616.4,19.2L616.4,16L619.2,14.4L622,16z" fill="#7b4b4b"/>
<path d="M628,13.8L629,16.5L631.8,16.5L629.6,18.2L630.3,20.9L628,19.3L625.7,20.9L626.5,18.2L624.3,16.5L627.1,16.5z" fill="#8a8a12"/>
<path d="M662,18.4L665.3,22L662,25.6L658.7,22z" fill="#b07ee8"/>
<path d="M622.6,14.8L625.9,17.2L624.6,21L620.6,21L619.4,17.2z" fill="#ff6a12"/>
<path d="M642.3,14.3L643.2,16.9L646,17L643.8,18.7L644.5,21.3L642.3,19.8L640,21.3L640.7,18.7L638.5,17L641.3,16.9z" fill="#8a8a12"/>
<path d="M604,15.9L607.2,18.2L606,22L602,22L600.7,18.2zM557.8,15.4L561,17.8L559.8,21.6L555.8,21.6L554.6,17.8z" fill="#ff6a12"/>
<path d="M612.7,25.8L616.1,19.9L609.3,19.9z" fill="#2ea35a"/>
<path d="M511.2,14.2L514.4,16.5L513.2,20.3L509.2,20.3L508,16.5z" fill="#ff6a12"/>
<path d="M648.8,21.8a3,3 0 1,0 6.1,0a3,3 0 1,0 -6.1,0z" fill="#ec3b3f"/>
<path d="M535.6,15.7L538.8,18L537.6,21.9L533.6,21.9L532.4,18z" fill="#ff6a12"/>
<path d="M615.8,24.4a3,3 0 1,0 6.1,0a3,3 0 1,0 -6.1,0z" fill="#ec3b3f"/>
<path d="M676,20.3L673.2,21.9L670.4,20.3L670.4,17.1L673.2,15.5L676,17.1z" fill="#7b4b4b"/>
<path d="M623.1,19.5L617.2,16.1L617.2,22.9z" fill="#1fc9d2"/>
<path d="M589.6,19.6L586.9,21.2L584.1,19.6L584.1,16.4L586.9,14.8L589.6,16.4z" fill="#7b4b4b"/>
<path d="M677.3,21.8a3,3 0 1,0 6.1,0a3,3 0 1,0 -6.1,0z" fill="#ec3b3f"/>
<path d="M555.3,15.4L556.2,18L559,18.1L556.8,19.8L557.6,22.5L555.3,20.9L553,22.5L553.8,19.8L551.6,18.1L554.3,18z" fill="#8a8a12"/>
<path d="M644.9,18h5.2v5.2h-5.2z" fill="#4d4d4d"/>
<path d="M667.7,18.8L671.1,24.7L664.3,24.7zM664.6,18.7L668,24.6L661.2,24.6z" fill="#1f6fe0"/>
<path d="M570.2,14.9L571.2,17.5L573.9,17.6L571.7,19.3L572.5,21.9L570.2,20.4L567.9,21.9L568.7,19.3L566.5,17.6L569.3,17.5z" fill="#8a8a12"/>
<path d="M623.3,24.9L626.7,19L619.9,19z" fill="#2ea35a"/>
<path d="M625.5,15.9L628.7,18.2L627.5,22L623.5,22L622.3,18.2z" fill="#ff6a12"/>
<path d="M615.4,26.6L618.8,20.7L612,20.7z" fill="#2ea35a"/>
<path d="M648.3,18.5h5.2v5.2h-5.2z" fill="#4d4d4d"/>
<path d="M653,18.4L656.4,24.3L649.6,24.3z" fill="#1f6fe0"/>
<path d="M643.8,19.2L641.1,20.8L638.3,19.2L638.3,16L641.1,14.4L643.8,16z" fill="#7b4b4b"/>
<path d="M631.6,19L635,24.9L628.2,24.9z" fill="#1f6fe0"/>
<path d="M665.2,14.1L668.4,16.4L667.2,20.2L663.2,20.2L662,16.4z" fill="#ff6a12"/>
<path d="M595.4,15.3L596.3,17.9L599.1,18L596.9,19.7L597.7,22.3L595.4,20.8L593.1,22.3L593.8,19.7L591.7,18L594.4,17.9zM613.3,15.1L614.2,17.7L617,17.8L614.8,19.5L615.6,22.1L613.3,20.6L611,22.1L611.8,19.5L609.6,17.8L612.4,17.7z" fill="#8a8a12"/>
<path d="M667.8,19.5L673.7,16.1L673.7,22.9z" fill="#cc9614"/>
<path d="M655,20.6L649.1,17.2L649.1,24z" fill="#1fc9d2"/>
<path d="M611.1,20L608.3,21.6L605.6,20L605.6,16.8L608.3,15.2L611.1,16.8z" fill="#7b4b4b"/>
<path d="M539.8,15L543.1,17.3L541.8,21.1L537.8,21.1L536.6,17.3z" fill="#ff6a12"/>
<path d="M642.6,18.3L648.5,14.9L648.5,21.7z" fill="#cc9614"/>
<path d="M648,14.1L651.2,16.4L650,20.2L646,20.2L644.7,16.4z" fill="#ff6a12"/>
<path d="M666,19.6L660.1,16.2L660.1,23z" fill="#1fc9d2"/>
<path d="M636,20.7L633.3,22.3L630.5,20.7L630.5,17.5L633.3,15.9L636,17.5zM557.3,20.9L554.5,22.5L551.7,20.9L551.7,17.7L554.5,16.1L557.3,17.7z" fill="#7b4b4b"/>
<path d="M671.2,17.3L674.6,23.2L667.8,23.2z" fill="#1f6fe0"/>
<path d="M656,21.1a3,3 0 1,0 6.1,0a3,3 0 1,0 -6.1,0z" fill="#ec3b3f"/>
<path d="M542.9,14.3L546.1,16.6L544.9,20.4L540.9,20.4L539.7,16.6z" fill="#ff6a12"/>
<path d="M679.6,20.7L676.9,22.3L674.1,20.7L674.1,17.5L676.9,15.9L679.6,17.5z" fill="#7b4b4b"/>
<path d="M636.9,23.8L640.3,17.9L633.5,17.9z" fill="#2ea35a"/>
<path d="M612,17.2L615.3,20.8L612,24.4L608.7,20.8z" fill="#b07ee8"/>
<path d="M596,20.1L593.2,21.7L590.4,20.1L590.4,16.9L593.2,15.3L596,16.9z" fill="#7b4b4b"/>
<path d="M568.8,14.9L572,17.2L570.8,21L566.8,21L565.6,17.2z" fill="#ff6a12"/>
<path d="M617.3,13.6L618.2,16.2L621,16.3L618.8,18L619.6,20.7L617.3,19.1L615,20.7L615.8,18L613.6,16.3L616.3,16.2z" fill="#8a8a12"/>
<path d="M655.2,18.9h5.2v5.2h-5.2z" fill="#4d4d4d"/>
<path d="M605,18.9L608.3,22.5L605,26.1L601.7,22.5z" fill="#b07ee8"/>
<path d="M640.3,19.5L637.5,21.1L634.7,19.5L634.7,16.3L637.5,14.7L640.3,16.3z" fill="#7b4b4b"/>
<path d="M680.8,20.7L674.9,17.3L674.9,24.1z" fill="#1fc9d2"/>
<path d="M566.1,13.6L567.1,16.2L569.8,16.3L567.6,18L568.4,20.7L566.1,19.1L563.8,20.7L564.6,18L562.4,16.3L565.2,16.2z" fill="#8a8a12"/>
<path d="M636.5,15.6L639.7,18L638.5,21.8L634.5,21.8L633.3,18z" fill="#ff6a12"/>
<path d="M676.9,24.3L680.3,18.4L673.5,18.4zM633.7,25.6L637.1,19.7L630.3,19.7z" fill="#2ea35a"/>
<path d="M548.2,13.7L549.2,16.3L552,16.4L549.8,18.1L550.5,20.7L548.2,19.2L546,20.7L546.7,18.1L544.5,16.4L547.3,16.3z" fill="#8a8a12"/>
<path d="M673,25.2L676.4,19.3L669.6,19.3z" fill="#2ea35a"/>
<path d="M665.1,18.1L668.4,21.7L665.1,25.3L661.8,21.7z" fill="#b07ee8"/>
<path d="M632.9,15.2L636.1,17.5L634.9,21.3L630.9,21.3L629.7,17.5z" fill="#ff6a12"/>
<path d="M549.8,21.3L547,22.9L544.3,21.3L544.3,18.1L547,16.5L549.8,18.1z" fill="#7b4b4b"/>
<path d="M679.6,14.6L682.9,16.9L681.6,20.7L677.6,20.7L676.4,16.9z" fill="#ff6a12"/>
<path d="M658,17.4L661.3,21L658,24.6L654.7,21z" fill="#b07ee8"/>
<path d="M612.6,25.6a3,3 0 1,0 6.1,0a3,3 0 1,0 -6.1,0z" fill="#ec3b3f"/>
<path d="M684,20.4L678.1,17L678.1,23.8z" fill="#1fc9d2"/>
<path d="M640.9,21.4a3,3 0 1,0 6.1,0a3,3 0 1,0 -6.1,0z" fill="#ec3b3f"/>
<path d="M638.9,14.5L639.9,17.1L642.6,17.2L640.5,18.9L641.2,21.5L638.9,20L636.6,21.5L637.4,18.9L635.2,17.2L638,17.1z" fill="#8a8a12"/>
<path d="M670.2,20h5.2v5.2h-5.2z" fill="#4d4d4d"/>
<path d="M602.8,15.4L603.7,18L606.5,18.1L604.3,19.8L605.1,22.4L602.8,20.9L600.5,22.4L601.3,19.8L599.1,18.1L601.8,18z" fill="#8a8a12"/>
<path d="M658,21L655.3,22.6L652.5,21L652.5,17.8L655.3,16.2L658,17.8z" fill="#7b4b4b"/>
<path d="M597.8,20.2L591.9,16.8L591.9,23.6z" fill="#1fc9d2"/>
<path d="M650.1,18.4L653.5,24.3L646.7,24.3z" fill="#1f6fe0"/>
<path d="M572.2,21.3L566.3,17.9L566.3,24.7z" fill="#1fc9d2"/>
<path d="M666.6,25.1L670,19.2L663.2,19.2z" fill="#2ea35a"/>
<path d="M612.7,21L606.8,17.6L606.8,24.4zM594.3,20.7L588.4,17.3L588.4,24.1z" fill="#1fc9d2"/>
<path d="M662.9,21.1a3,3 0 1,0 6.1,0a3,3 0 1,0 -6.1,0z" fill="#ec3b3f"/>
<path d="M518.1,15.8L521.3,18.2L520.1,22L516.1,22L514.8,18.2zM654.7,15.5L657.9,17.9L656.7,21.7L652.7,21.7L651.4,17.9z" fill="#ff6a12"/>
<path d="M673.9,21.8a3,3 0 1,0 6.1,0a3,3 0 1,0 -6.1,0z" fill="#ec3b3f"/>
<path d="M616.2,23.7h5.2v5.2h-5.2z" fill="#4d4d4d"/>
<path d="M608.4,21L602.5,17.6L602.5,24.4z" fill="#1fc9d2"/>
<path d="M544.8,14.3L545.8,17L548.6,17L546.4,18.7L547.1,21.4L544.8,19.8L542.6,21.4L543.3,18.7L541.1,17L543.9,17z" fill="#8a8a12"/>
<path d="M529.3,14L532.5,16.4L531.3,20.2L527.3,20.2L526,16.4z" fill="#ff6a12"/>
<path d="M675.9,16.5L679.2,20.1L675.9,23.7L672.6,20.1z" fill="#b07ee8"/>
<path d="M565.4,21.3L559.5,17.9L559.5,24.7z" fill="#1fc9d2"/>
<path d="M679.5,17.5L682.8,21.1L679.5,24.7L676.2,21.1z" fill="#b07ee8"/>
<path d="M651.9,20.1L646,16.7L646,23.5z" fill="#1fc9d2"/>
<path d="M577.4,14.2L578.4,16.8L581.2,16.9L579,18.6L579.7,21.3L577.4,19.7L575.2,21.3L575.9,18.6L573.7,16.9L576.5,16.8z" fill="#8a8a12"/>
<path d="M585.3,19.3L582.5,20.9L579.8,19.3L579.8,16.1L582.5,14.5L585.3,16.1z" fill="#7b4b4b"/>
<path d="M641.3,19.4h5.2v5.2h-5.2z" fill="#4d4d4d"/>
<path d="M662.2,25.2L665.6,19.3L658.8,19.3z" fill="#2ea35a"/>
<path d="M632,18.5L637.9,15.1L637.9,21.9z" fill="#cc9614"/>
<path d="M644.8,20.5L638.9,17.1L638.9,23.9z" fill="#1fc9d2"/>
<path d="M514.4,14.2L517.7,16.5L516.4,20.3L512.4,20.3L511.2,16.5z" fill="#ff6a12"/>
<path d="M669.8,22.3a3,3 0 1,0 6.1,0a3,3 0 1,0 -6.1,0z" fill="#ec3b3f"/>
<path d="M652.7,14.1L653.7,16.8L656.4,16.8L654.2,18.5L655,21.2L652.7,19.6L650.4,21.2L651.2,18.5L649,16.8L651.8,16.8z" fill="#8a8a12"/>
<path d="M562.6,12.8a3,3 0 1,0 6,0a3,3 0 1,0 -6,0zM609.4,14.5a3,3 0 1,0 6,0a3,3 0 1,0 -6,0z" fill="#6b9bd2"/><path d="M563.8,12.1a1.1,1.1 0 1,0 2.2,0a1.1,1.1 0 1,0 -2.2,0zM610.6,13.8a1.1,1.1 0 1,0 2.2,0a1.1,1.1 0 1,0 -2.2,0z" fill="#e8f0fa"/>
<path d="M655.2,11.6h5.6M658,8.8v5.6M636.5,12.4h5.6M639.3,9.6v5.6M597.5,12.2h5.6M600.3,9.4v5.6M669.6,12.6h5.6M672.4,9.8v5.6" stroke="#78c31c" stroke-width="1.1" fill="none"/>
<path d="M505.1,12.8a3,3 0 1,0 6,0a3,3 0 1,0 -6,0zM545.2,13.2a3,3 0 1,0 6,0a3,3 0 1,0 -6,0zM523,13.6a3,3 0 1,0 6,0a3,3 0 1,0 -6,0z" fill="#6b9bd2"/><path d="M506.3,12.1a1.1,1.1 0 1,0 2.2,0a1.1,1.1 0 1,0 -2.2,0zM546.4,12.5a1.1,1.1 0 1,0 2.2,0a1.1,1.1 0 1,0 -2.2,0zM524.2,12.9a1.1,1.1 0 1,0 2.2,0a1.1,1.1 0 1,0 -2.2,0z" fill="#e8f0fa"/>
<path d="M575.8,11.3h5.6M578.6,8.5v5.6" stroke="#78c31c" stroke-width="1.1" fill="none"/>
<path d="M667.3,13.3a3,3 0 1,0 6,0a3,3 0 1,0 -6,0z" fill="#6b9bd2"/><path d="M668.5,12.6a1.1,1.1 0 1,0 2.2,0a1.1,1.1 0 1,0 -2.2,0z" fill="#e8f0fa"/>
<path d="M600.8,11.2h5.6M603.6,8.4v5.6M557.5,12h5.6M560.3,9.2v5.6M672.8,12.4h5.6M675.6,9.6v5.6" stroke="#78c31c" stroke-width="1.1" fill="none"/>
<path d="M638.1,13.7a3,3 0 1,0 6,0a3,3 0 1,0 -6,0zM566.8,13.4a3,3 0 1,0 6,0a3,3 0 1,0 -6,0z" fill="#6b9bd2"/><path d="M639.3,13a1.1,1.1 0 1,0 2.2,0a1.1,1.1 0 1,0 -2.2,0zM568,12.7a1.1,1.1 0 1,0 2.2,0a1.1,1.1 0 1,0 -2.2,0z" fill="#e8f0fa"/>
<path d="M535.5,12.2h5.6M538.3,9.4v5.6" stroke="#78c31c" stroke-width="1.1" fill="none"/>
<path d="M606,14.1a3,3 0 1,0 6,0a3,3 0 1,0 -6,0z" fill="#6b9bd2"/><path d="M607.2,13.4a1.1,1.1 0 1,0 2.2,0a1.1,1.1 0 1,0 -2.2,0z" fill="#e8f0fa"/>
<path d="M611.7,12.5h5.6M614.5,9.7v5.6M543.2,13h5.6M546,10.2v5.6" stroke="#78c31c" stroke-width="1.1" fill="none"/>
<path d="M660.7,14a3,3 0 1,0 6,0a3,3 0 1,0 -6,0z" fill="#6b9bd2"/><path d="M661.9,13.3a1.1,1.1 0 1,0 2.2,0a1.1,1.1 0 1,0 -2.2,0z" fill="#e8f0fa"/>
<path d="M547,11.6h5.6M549.8,8.8v5.6" stroke="#78c31c" stroke-width="1.1" fill="none"/>
<path d="M635.4,13.3a3,3 0 1,0 6,0a3,3 0 1,0 -6,0zM587.9,14.1a3,3 0 1,0 6,0a3,3 0 1,0 -6,0zM648.8,13.5a3,3 0 1,0 6,0a3,3 0 1,0 -6,0z" fill="#6b9bd2"/><path d="M636.6,12.6a1.1,1.1 0 1,0 2.2,0a1.1,1.1 0 1,0 -2.2,0zM589.1,13.4a1.1,1.1 0 1,0 2.2,0a1.1,1.1 0 1,0 -2.2,0zM650,12.8a1.1,1.1 0 1,0 2.2,0a1.1,1.1 0 1,0 -2.2,0z" fill="#e8f0fa"/>
<path d="M550.5,11.4h5.6M553.3,8.6v5.6" stroke="#78c31c" stroke-width="1.1" fill="none"/>
<path d="M674.4,13.7a3,3 0 1,0 6,0a3,3 0 1,0 -6,0z" fill="#6b9bd2"/><path d="M675.6,13a1.1,1.1 0 1,0 2.2,0a1.1,1.1 0 1,0 -2.2,0z" fill="#e8f0fa"/>
<path d="M561.4,12.8h5.6M564.2,10v5.6" stroke="#78c31c" stroke-width="1.1" fill="none"/>
<path d="M584.5,12.9a3,3 0 1,0 6,0a3,3 0 1,0 -6,0zM559.5,13.3a3,3 0 1,0 6,0a3,3 0 1,0 -6,0zM574,14.3a3,3 0 1,0 6,0a3,3 0 1,0 -6,0z" fill="#6b9bd2"/><path d="M585.7,12.2a1.1,1.1 0 1,0 2.2,0a1.1,1.1 0 1,0 -2.2,0zM560.7,12.6a1.1,1.1 0 1,0 2.2,0a1.1,1.1 0 1,0 -2.2,0zM575.2,13.6a1.1,1.1 0 1,0 2.2,0a1.1,1.1 0 1,0 -2.2,0z" fill="#e8f0fa"/>
<path d="M590.4,11.3h5.6M593.2,8.5v5.6M639.9,12.6h5.6M642.7,9.8v5.6" stroke="#78c31c" stroke-width="1.1" fill="none"/>
<path d="M534.2,13.2a3,3 0 1,0 6,0a3,3 0 1,0 -6,0z" fill="#6b9bd2"/><path d="M535.4,12.5a1.1,1.1 0 1,0 2.2,0a1.1,1.1 0 1,0 -2.2,0z" fill="#e8f0fa"/>
<path d="M568.5,11.5h5.6M571.3,8.7v5.6" stroke="#78c31c" stroke-width="1.1" fill="none"/>
<path d="M570.5,12.8a3,3 0 1,0 6,0a3,3 0 1,0 -6,0z" fill="#6b9bd2"/><path d="M571.7,12.1a1.1,1.1 0 1,0 2.2,0a1.1,1.1 0 1,0 -2.2,0z" fill="#e8f0fa"/>
<path d="M532.6,11.4h5.6M535.4,8.6v5.6M586.4,12.9h5.6M589.2,10.1v5.6M504.1,11.6h5.6M506.9,8.8v5.6M625.3,12h5.6M628.1,9.2v5.6M499.7,12h5.6M502.5,9.2v5.6M658.9,12.5h5.6M661.7,9.7v5.6M647.3,11h5.6M650.1,8.2v5.6M510.5,12.8h5.6M513.3,10v5.6M676.1,11.7h5.6M678.9,8.9v5.6M481.4,10.8h5.6M484.2,8v5.6" stroke="#78c31c" stroke-width="1.1" fill="none"/>
<path d="M616.4,14.6a3,3 0 1,0 6,0a3,3 0 1,0 -6,0z" fill="#6b9bd2"/><path d="M617.6,13.9a1.1,1.1 0 1,0 2.2,0a1.1,1.1 0 1,0 -2.2,0z" fill="#e8f0fa"/>
<path d="M615.3,12.7h5.6M618.1,9.9v5.6" stroke="#78c31c" stroke-width="1.1" fill="none"/>
<path d="M516.5,14.4a3,3 0 1,0 6,0a3,3 0 1,0 -6,0z" fill="#6b9bd2"/><path d="M517.7,13.7a1.1,1.1 0 1,0 2.2,0a1.1,1.1 0 1,0 -2.2,0z" fill="#e8f0fa"/>
<path d="M632.6,12.3h5.6M635.4,9.5v5.6M478.2,10.9h5.6M481,8.1v5.6M643.4,11.7h5.6M646.2,8.9v5.6" stroke="#78c31c" stroke-width="1.1" fill="none"/>
<path d="M494,13.4a3,3 0 1,0 6,0a3,3 0 1,0 -6,0zM642.3,14.1a3,3 0 1,0 6,0a3,3 0 1,0 -6,0zM620.6,13.9a3,3 0 1,0 6,0a3,3 0 1,0 -6,0z" fill="#6b9bd2"/><path d="M495.2,12.7a1.1,1.1 0 1,0 2.2,0a1.1,1.1 0 1,0 -2.2,0zM643.5,13.4a1.1,1.1 0 1,0 2.2,0a1.1,1.1 0 1,0 -2.2,0zM621.8,13.2a1.1,1.1 0 1,0 2.2,0a1.1,1.1 0 1,0 -2.2,0z" fill="#e8f0fa"/>
<path d="M507.6,12.2h5.6M510.4,9.4v5.6M495.7,11.2h5.6M498.5,8.4v5.6M604.8,12.3h5.6M607.6,9.5v5.6" stroke="#78c31c" stroke-width="1.1" fill="none"/>
<path d="M541.1,13.7a3,3 0 1,0 6,0a3,3 0 1,0 -6,0z" fill="#6b9bd2"/><path d="M542.3,13a1.1,1.1 0 1,0 2.2,0a1.1,1.1 0 1,0 -2.2,0z" fill="#e8f0fa"/>
<path d="M579.4,12.1h5.6M582.2,9.3v5.6" stroke="#78c31c" stroke-width="1.1" fill="none"/>
<path d="M591.7,14.3a3,3 0 1,0 6,0a3,3 0 1,0 -6,0z" fill="#6b9bd2"/><path d="M592.9,13.6a1.1,1.1 0 1,0 2.2,0a1.1,1.1 0 1,0 -2.2,0z" fill="#e8f0fa"/>
<path d="M525.4,11.2h5.6M528.2,8.4v5.6" stroke="#78c31c" stroke-width="1.1" fill="none"/>
<path d="M530.9,14.2a3,3 0 1,0 6,0a3,3 0 1,0 -6,0z" fill="#6b9bd2"/><path d="M532.1,13.5a1.1,1.1 0 1,0 2.2,0a1.1,1.1 0 1,0 -2.2,0z" fill="#e8f0fa"/>
<path d="M629.7,12.6h5.6M632.5,9.8v5.6M651,12.4h5.6M653.8,9.6v5.6" stroke="#78c31c" stroke-width="1.1" fill="none"/>
<path d="M656.1,13.2a3,3 0 1,0 6,0a3,3 0 1,0 -6,0z" fill="#6b9bd2"/><path d="M657.3,12.5a1.1,1.1 0 1,0 2.2,0a1.1,1.1 0 1,0 -2.2,0z" fill="#e8f0fa"/>
<path d="M553.3,11.8h5.6M556.1,9v5.6" stroke="#78c31c" stroke-width="1.1" fill="none"/>
<path d="M624.4,12.9a3,3 0 1,0 6,0a3,3 0 1,0 -6,0z" fill="#6b9bd2"/><path d="M625.6,12.2a1.1,1.1 0 1,0 2.2,0a1.1,1.1 0 1,0 -2.2,0z" fill="#e8f0fa"/>
<path d="M564.9,11.6h5.6M567.7,8.8v5.6" stroke="#78c31c" stroke-width="1.1" fill="none"/>
<path d="M678.4,12.7a3,3 0 1,0 6,0a3,3 0 1,0 -6,0zM580.8,12.8a3,3 0 1,0 6,0a3,3 0 1,0 -6,0zM520.3,13.3a3,3 0 1,0 6,0a3,3 0 1,0 -6,0zM552,14a3,3 0 1,0 6,0a3,3 0 1,0 -6,0zM670.8,13.2a3,3 0 1,0 6,0a3,3 0 1,0 -6,0z" fill="#6b9bd2"/><path d="M679.6,12a1.1,1.1 0 1,0 2.2,0a1.1,1.1 0 1,0 -2.2,0zM582,12.1a1.1,1.1 0 1,0 2.2,0a1.1,1.1 0 1,0 -2.2,0zM521.5,12.6a1.1,1.1 0 1,0 2.2,0a1.1,1.1 0 1,0 -2.2,0zM553.2,13.3a1.1,1.1 0 1,0 2.2,0a1.1,1.1 0 1,0 -2.2,0zM672,12.5a1.1,1.1 0 1,0 2.2,0a1.1,1.1 0 1,0 -2.2,0z" fill="#e8f0fa"/>
<path d="M485.4,11.9h5.6M488.2,9.1v5.6M528.9,12.4h5.6M531.7,9.6v5.6" stroke="#78c31c" stroke-width="1.1" fill="none"/>
<path d="M501.3,13.2a3,3 0 1,0 6,0a3,3 0 1,0 -6,0zM664.2,13.5a3,3 0 1,0 6,0a3,3 0 1,0 -6,0z" fill="#6b9bd2"/><path d="M502.5,12.5a1.1,1.1 0 1,0 2.2,0a1.1,1.1 0 1,0 -2.2,0zM665.4,12.8a1.1,1.1 0 1,0 2.2,0a1.1,1.1 0 1,0 -2.2,0z" fill="#e8f0fa"/>
<path d="M572,12.2h5.6M574.8,9.4v5.6M583,11.1h5.6M585.8,8.3v5.6M661.5,11.6h5.6M664.3,8.8v5.6" stroke="#78c31c" stroke-width="1.1" fill="none"/>
<path d="M548.9,13.5a3,3 0 1,0 6,0a3,3 0 1,0 -6,0zM508.7,12.9a3,3 0 1,0 6,0a3,3 0 1,0 -6,0z" fill="#6b9bd2"/><path d="M550.1,12.8a1.1,1.1 0 1,0 2.2,0a1.1,1.1 0 1,0 -2.2,0zM509.9,12.2a1.1,1.1 0 1,0 2.2,0a1.1,1.1 0 1,0 -2.2,0z" fill="#e8f0fa"/>
<path d="M518.1,11.7h5.6M520.9,8.9v5.6M539.6,11.3h5.6M542.4,8.5v5.6" stroke="#78c31c" stroke-width="1.1" fill="none"/>
<path d="M646,13.5a3,3 0 1,0 6,0a3,3 0 1,0 -6,0zM595.6,12.9a3,3 0 1,0 6,0a3,3 0 1,0 -6,0zM526.7,14.1a3,3 0 1,0 6,0a3,3 0 1,0 -6,0zM603.2,13.6a3,3 0 1,0 6,0a3,3 0 1,0 -6,0z" fill="#6b9bd2"/><path d="M647.2,12.8a1.1,1.1 0 1,0 2.2,0a1.1,1.1 0 1,0 -2.2,0zM596.8,12.2a1.1,1.1 0 1,0 2.2,0a1.1,1.1 0 1,0 -2.2,0zM527.9,13.4a1.1,1.1 0 1,0 2.2,0a1.1,1.1 0 1,0 -2.2,0zM604.4,12.9a1.1,1.1 0 1,0 2.2,0a1.1,1.1 0 1,0 -2.2,0z" fill="#e8f0fa"/>
<path d="M665,12.9h5.6M667.8,10.1v5.6M488.5,12.5h5.6M491.3,9.7v5.6" stroke="#78c31c" stroke-width="1.1" fill="none"/>
<path d="M498.4,13.3a3,3 0 1,0 6,0a3,3 0 1,0 -6,0z" fill="#6b9bd2"/><path d="M499.6,12.6a1.1,1.1 0 1,0 2.2,0a1.1,1.1 0 1,0 -2.2,0z" fill="#e8f0fa"/>
<path d="M607.9,11.1h5.6M610.7,8.3v5.6" stroke="#78c31c" stroke-width="1.1" fill="none"/>
<path d="M577.1,14.1a3,3 0 1,0 6,0a3,3 0 1,0 -6,0z" fill="#6b9bd2"/><path d="M578.3,13.4a1.1,1.1 0 1,0 2.2,0a1.1,1.1 0 1,0 -2.2,0z" fill="#e8f0fa"/>
<path d="M521,12.1h5.6M523.8,9.3v5.6" stroke="#78c31c" stroke-width="1.1" fill="none"/>
<path d="M631.8,12.8a3,3 0 1,0 6,0a3,3 0 1,0 -6,0z" fill="#6b9bd2"/><path d="M633,12.1a1.1,1.1 0 1,0 2.2,0a1.1,1.1 0 1,0 -2.2,0z" fill="#e8f0fa"/>
<path d="M593.2,12.1h5.6M596,9.3v5.6M492.1,12.4h5.6M494.9,9.6v5.6" stroke="#78c31c" stroke-width="1.1" fill="none"/>
<path d="M613.2,13.4a3,3 0 1,0 6,0a3,3 0 1,0 -6,0zM512.9,14.4a3,3 0 1,0 6,0a3,3 0 1,0 -6,0z" fill="#6b9bd2"/><path d="M614.4,12.7a1.1,1.1 0 1,0 2.2,0a1.1,1.1 0 1,0 -2.2,0zM514.1,13.7a1.1,1.1 0 1,0 2.2,0a1.1,1.1 0 1,0 -2.2,0z" fill="#e8f0fa"/>
<path d="M622.7,11.3h5.6M625.5,8.5v5.6" stroke="#78c31c" stroke-width="1.1" fill="none"/>
<path d="M556,12.8a3,3 0 1,0 6,0a3,3 0 1,0 -6,0z" fill="#6b9bd2"/><path d="M557.2,12.1a1.1,1.1 0 1,0 2.2,0a1.1,1.1 0 1,0 -2.2,0z" fill="#e8f0fa"/>
<path d="M513.9,12.3h5.6M516.7,9.5v5.6M618.8,12.3h5.6M621.6,9.5v5.6" stroke="#78c31c" stroke-width="1.1" fill="none"/>
<path d="M628.1,14.2a3,3 0 1,0 6,0a3,3 0 1,0 -6,0zM598.8,13.5a3,3 0 1,0 6,0a3,3 0 1,0 -6,0zM652.7,14.4a3,3 0 1,0 6,0a3,3 0 1,0 -6,0zM538,14a3,3 0 1,0 6,0a3,3 0 1,0 -6,0z" fill="#6b9bd2"/><path d="M629.3,13.5a1.1,1.1 0 1,0 2.2,0a1.1,1.1 0 1,0 -2.2,0zM600,12.8a1.1,1.1 0 1,0 2.2,0a1.1,1.1 0 1,0 -2.2,0zM653.9,13.7a1.1,1.1 0 1,0 2.2,0a1.1,1.1 0 1,0 -2.2,0zM539.2,13.3a1.1,1.1 0 1,0 2.2,0a1.1,1.1 0 1,0 -2.2,0z" fill="#e8f0fa"/>
</g>
<rect x="396.6" y="5.4" width="282.8" height="227.7" fill="none" stroke="#000" stroke-width="2.6"/>
<line x1="424.1" y1="233.5" x2="424.1" y2="238" stroke="#000" stroke-width="2.5" />
<text x="424.1" y="255.6" font-size="18" text-anchor="middle" fill="#000" style="font-family:'Liberation Sans',sans-serif;font-weight:bold" >2</text>
<line x1="475.2" y1="233.5" x2="475.2" y2="238" stroke="#000" stroke-width="2.5" />
<text x="475.2" y="255.6" font-size="18" text-anchor="middle" fill="#000" style="font-family:'Liberation Sans',sans-serif;font-weight:bold" >3</text>
<line x1="526.3" y1="233.5" x2="526.3" y2="238" stroke="#000" stroke-width="2.5" />
<text x="526.3" y="255.6" font-size="18" text-anchor="middle" fill="#000" style="font-family:'Liberation Sans',sans-serif;font-weight:bold" >4</text>
<line x1="577.4" y1="233.5" x2="577.4" y2="238" stroke="#000" stroke-width="2.5" />
<text x="577.4" y="255.6" font-size="18" text-anchor="middle" fill="#000" style="font-family:'Liberation Sans',sans-serif;font-weight:bold" >5</text>
<line x1="628.5" y1="233.5" x2="628.5" y2="238" stroke="#000" stroke-width="2.5" />
<text x="628.5" y="255.6" font-size="18" text-anchor="middle" fill="#000" style="font-family:'Liberation Sans',sans-serif;font-weight:bold" >6</text>
<line x1="679.6" y1="233.5" x2="679.6" y2="238" stroke="#000" stroke-width="2.5" />
<text x="679.6" y="255.6" font-size="18" text-anchor="middle" fill="#000" style="font-family:'Liberation Sans',sans-serif;font-weight:bold" >7</text>
<line x1="398.6" y1="233.5" x2="398.6" y2="236" stroke="#000" stroke-width="2.2" />
<line x1="449.7" y1="233.5" x2="449.7" y2="236" stroke="#000" stroke-width="2.2" />
<line x1="500.8" y1="233.5" x2="500.8" y2="236" stroke="#000" stroke-width="2.2" />
<line x1="551.9" y1="233.5" x2="551.9" y2="236" stroke="#000" stroke-width="2.2" />
<line x1="603" y1="233.5" x2="603" y2="236" stroke="#000" stroke-width="2.2" />
<line x1="654.1" y1="233.5" x2="654.1" y2="236" stroke="#000" stroke-width="2.2" />
<line x1="391.5" y1="207" x2="396.5" y2="207" stroke="#000" stroke-width="2.5" />
<text x="387.8" y="213.4" font-size="18" text-anchor="end" fill="#000" style="font-family:'Liberation Sans',sans-serif;font-weight:bold" >52</text>
<line x1="391.5" y1="156.5" x2="396.5" y2="156.5" stroke="#000" stroke-width="2.5" />
<text x="387.8" y="162.9" font-size="18" text-anchor="end" fill="#000" style="font-family:'Liberation Sans',sans-serif;font-weight:bold" >56</text>
<line x1="391.5" y1="106" x2="396.5" y2="106" stroke="#000" stroke-width="2.5" />
<text x="387.8" y="112.4" font-size="18" text-anchor="end" fill="#000" style="font-family:'Liberation Sans',sans-serif;font-weight:bold" >60</text>
<line x1="391.5" y1="55.4" x2="396.5" y2="55.4" stroke="#000" stroke-width="2.5" />
<text x="387.8" y="61.8" font-size="18" text-anchor="end" fill="#000" style="font-family:'Liberation Sans',sans-serif;font-weight:bold" >64</text>
<line x1="394" y1="181.7" x2="396.5" y2="181.7" stroke="#000" stroke-width="2.2" />
<line x1="394" y1="131.2" x2="396.5" y2="131.2" stroke="#000" stroke-width="2.2" />
<line x1="394" y1="80.7" x2="396.5" y2="80.7" stroke="#000" stroke-width="2.2" />
<line x1="394" y1="30.2" x2="396.5" y2="30.2" stroke="#000" stroke-width="2.2" />
<text x="413.8" y="26" font-size="19" text-anchor="middle" fill="#000" style="font-family:'Liberation Sans',sans-serif;font-weight:bold" >(b)</text>
<text x="535.5" y="271.9" font-size="19" text-anchor="middle" fill="#000" style="font-family:'Liberation Sans',sans-serif;font-weight:bold" >T (K)</text>
<text transform="translate(362.9,119.2) rotate(-90)" font-size="19" text-anchor="middle" style="font-family:'Liberation Sans',sans-serif;font-weight:bold">R <tspan style="font-weight:normal">(<tspan font-size="20.5">&#937;</tspan>)</tspan></text>
<path d="M618.1,41.5h5.2v5.2h-5.2z" fill="#4d4d4d"/>
<text x="636.5" y="48.6" font-size="12.6" text-anchor="start" fill="#000" style="font-family:'Liberation Sans',sans-serif;font-weight:bold" >0 T</text>
<path d="M617.7,60.4a3,3 0 1,0 6.1,0a3,3 0 1,0 -6.1,0z" fill="#ec3b3f"/>
<text x="636.5" y="64.9" font-size="12.6" text-anchor="start" fill="#000" style="font-family:'Liberation Sans',sans-serif;font-weight:bold" >0.25 T</text>
<path d="M620.7,72.7L624.1,78.6L617.3,78.6z" fill="#1f6fe0"/>
<text x="636.5" y="80.7" font-size="12.6" text-anchor="start" fill="#000" style="font-family:'Liberation Sans',sans-serif;font-weight:bold" >0.5 T</text>
<path d="M620.7,95.5L624.1,89.6L617.3,89.6z" fill="#2ea35a"/>
<text x="636.5" y="96.5" font-size="12.6" text-anchor="start" fill="#000" style="font-family:'Liberation Sans',sans-serif;font-weight:bold" >1 T</text>
<path d="M620.7,104.8L624,108.4L620.7,112L617.4,108.4z" fill="#b07ee8"/>
<text x="636.5" y="112.9" font-size="12.6" text-anchor="start" fill="#000" style="font-family:'Liberation Sans',sans-serif;font-weight:bold" >2.0 T</text>
<path d="M617.2,124.9L623.1,121.5L623.1,128.3z" fill="#cc9614"/>
<text x="636.5" y="129.4" font-size="12.6" text-anchor="start" fill="#000" style="font-family:'Liberation Sans',sans-serif;font-weight:bold" >3.0 T</text>
<path d="M624.2,140.7L618.3,137.3L618.3,144.1z" fill="#1fc9d2"/>
<text x="636.5" y="145.2" font-size="12.6" text-anchor="start" fill="#000" style="font-family:'Liberation Sans',sans-serif;font-weight:bold" >4.0 T</text>
<path d="M623.5,158.5L620.7,160.1L617.9,158.5L617.9,155.3L620.7,153.7L623.5,155.3z" fill="#7b4b4b"/>
<text x="636.5" y="161.4" font-size="12.6" text-anchor="start" fill="#000" style="font-family:'Liberation Sans',sans-serif;font-weight:bold" >5.0 T</text>
<path d="M620.7,169L621.6,171.6L624.4,171.7L622.2,173.4L623,176.1L620.7,174.5L618.4,176.1L619.2,173.4L617,171.7L619.8,171.6z" fill="#8a8a12"/>
<text x="636.5" y="177.4" font-size="12.6" text-anchor="start" fill="#000" style="font-family:'Liberation Sans',sans-serif;font-weight:bold" >6.0 T</text>
<path d="M620.7,185.9L623.9,188.2L622.7,192.1L618.7,192.1L617.5,188.2z" fill="#ff6a12"/>
<text x="636.5" y="193.5" font-size="12.6" text-anchor="start" fill="#000" style="font-family:'Liberation Sans',sans-serif;font-weight:bold" >8.0 T</text>
<path d="M617.7,204.8a3,3 0 1,0 6,0a3,3 0 1,0 -6,0z" fill="#6b9bd2"/><path d="M618.9,204.1a1.1,1.1 0 1,0 2.2,0a1.1,1.1 0 1,0 -2.2,0z" fill="#e8f0fa"/>
<text x="636.5" y="209.3" font-size="12.6" text-anchor="start" fill="#000" style="font-family:'Liberation Sans',sans-serif;font-weight:bold" >10.0 T</text>
<path d="M617.9,221h5.6M620.7,218.2v5.6" stroke="#78c31c" stroke-width="1.1" fill="none"/>
<text x="636.5" y="225.5" font-size="12.6" text-anchor="start" fill="#000" style="font-family:'Liberation Sans',sans-serif;font-weight:bold" >12.0 T</text>
<line x1="634.2" y1="32.7" x2="619.6" y2="32.7" stroke="#0c2466" stroke-width="2.6"/>
<polygon points="613.6,32.7 620.6,29.1 619.1,32.7 620.6,36.3" fill="#0c2466"/>
<g fill="none" stroke-width="1.1">
<polyline points="71.2,506.5 76,505.8 81,505.3 86,504.8 92.3,504 97.2,502.5 102,501.8 108,500.8 114.6,499.6 119.5,498.5 124.5,497.2 129.5,495.9 134.4,494.6 139.4,493 144.4,491.5 149.4,489.9 154.3,488.4 159.3,486.8 164.2,485.3 169.2,483.7 174.1,482.2 179,480.8 184,479.5 189,478.1 194,476.7 199,475.7 204,474.7 209,473.8 213.8,472.8 218,472.1 222,471.3 226,470.6 230.5,469.9 235.7,468.5 241,467 246.2,465.5 251.5,464.1 256.8,462.6 262,461.2 265,459 268.2,457.1 272.6,458.5 278.7,455.9 283.5,454.4 288.3,452.9 292.7,446.3 297.1,451.2 301.5,452 305.8,452.9 311.1,448" stroke="#4d4d4d"/>
<polyline points="72.4,468.5 76.9,467.5 82.2,466.5 87.6,465 93,463.5 100.2,462.8 105.5,461.3 112.7,460.5 118.1,459.2 123.4,458.1 128.8,457.4 134.2,457.4 139.6,456.9 144.9,456.3 150.3,456 155.7,455.1 161.1,454.2 166.4,453.3 172,453 178,452.5 184,452 190,451.7 195.8,451.5 201,450.8 206.6,450.1 212,449.5 217.3,448.8 222.7,448.5 229,447 235.2,445.2 241.9,441.4 247.2,438.4 254.2,433.1 259.4,432.6 263.8,437.5 270.8,444.5 275.2,449.8 280.4,451.2 284.8,450.1 290.1,447.2" stroke="#ec3b3f"/>
<polyline points="74.2,413.9 79.6,412.1 85.8,409.8 93,407.6 100.2,404.9 109.1,401.3 118.1,398.7 127,397.2 136,397.2 144.9,397.8 153.9,399.6 160,401.9 165.4,402.6 170.7,404 177.9,405.8 186.9,408.5 195.8,411.2 203,412.6 210.2,413.9 215.5,412.6 220.9,410.8 226.3,409.4 231.6,405.5 236.1,406.7 241.5,413 245.8,427 250.5,439 254.2,445.9 259.4,448.9 264.7,448 269.9,445.4" stroke="#1f6fe0"/>
<polyline points="75.1,406.7 79.6,407.6 84.9,405.8 93,403.1 98.4,399.6 103.7,397.8 109.1,396.5 118.1,395.1 127,393.3 136,392.4 146.7,392.4 157.5,391.1 165.4,389.3 172.5,387.9 179.7,387.6 186.9,386.1 192.2,385.8 196.7,386.1 200.8,391.9 206.2,401.9 210.7,415.7 216.4,435.4 221.8,443.8 226.3,447.9 230.8,447.4 235.6,444.3" stroke="#2ea35a"/>
<polyline points="75.1,375.4 79.6,375.4 86.7,376.3 91.2,374.5 96.6,373.2 101.9,373.6 107.3,372.7 112.7,373.2 119,373.6 124.3,373.2 128.8,375.4 133.3,378.1 137.8,380.7 143.1,388.8 148.2,398.7 153,414.8 157.5,430 162.5,443.4 168.1,452.4 174,455.6 178.8,454.2 184.2,452.4" stroke="#b07ee8"/>
<polyline points="72.4,390.6 78.7,396 84,396.9 88.5,401.9 93,410.8 97.5,422.8 101.9,435.4 109.1,452.8 113.3,461.1 119.6,463.6 124.5,461.8" stroke="#cc9614"/>
</g>
<path d="M68.6,503.9h5.2v5.2h-5.2zM73.4,503.2h5.2v5.2h-5.2zM78.4,502.7h5.2v5.2h-5.2zM83.4,502.2h5.2v5.2h-5.2zM89.7,501.4h5.2v5.2h-5.2zM94.6,499.9h5.2v5.2h-5.2zM99.4,499.2h5.2v5.2h-5.2zM105.4,498.2h5.2v5.2h-5.2zM112,497h5.2v5.2h-5.2zM116.9,495.9h5.2v5.2h-5.2zM121.9,494.6h5.2v5.2h-5.2zM126.9,493.3h5.2v5.2h-5.2zM131.8,492h5.2v5.2h-5.2zM136.8,490.4h5.2v5.2h-5.2zM141.8,488.9h5.2v5.2h-5.2zM146.8,487.3h5.2v5.2h-5.2zM151.7,485.8h5.2v5.2h-5.2zM156.7,484.2h5.2v5.2h-5.2zM161.6,482.7h5.2v5.2h-5.2zM166.6,481.1h5.2v5.2h-5.2zM171.5,479.6h5.2v5.2h-5.2zM176.4,478.2h5.2v5.2h-5.2zM181.4,476.9h5.2v5.2h-5.2zM186.4,475.5h5.2v5.2h-5.2zM191.4,474.1h5.2v5.2h-5.2zM196.4,473.1h5.2v5.2h-5.2zM201.4,472.1h5.2v5.2h-5.2zM206.4,471.2h5.2v5.2h-5.2zM211.2,470.2h5.2v5.2h-5.2zM215.4,469.5h5.2v5.2h-5.2zM219.4,468.7h5.2v5.2h-5.2zM223.4,468h5.2v5.2h-5.2zM227.9,467.3h5.2v5.2h-5.2zM233.1,465.9h5.2v5.2h-5.2zM238.4,464.4h5.2v5.2h-5.2zM243.6,462.9h5.2v5.2h-5.2zM248.9,461.5h5.2v5.2h-5.2zM254.2,460h5.2v5.2h-5.2zM259.4,458.6h5.2v5.2h-5.2zM262.4,456.4h5.2v5.2h-5.2zM265.6,454.5h5.2v5.2h-5.2zM270,455.9h5.2v5.2h-5.2zM276.1,453.3h5.2v5.2h-5.2zM280.9,451.8h5.2v5.2h-5.2zM285.7,450.3h5.2v5.2h-5.2zM290.1,443.7h5.2v5.2h-5.2zM294.5,448.6h5.2v5.2h-5.2zM298.9,449.4h5.2v5.2h-5.2zM303.2,450.3h5.2v5.2h-5.2zM308.5,445.4h5.2v5.2h-5.2z" fill="#4d4d4d"/>
<path d="M69.4,468.5a3,3 0 1,0 6.1,0a3,3 0 1,0 -6.1,0zM73.9,467.5a3,3 0 1,0 6.1,0a3,3 0 1,0 -6.1,0zM79.2,466.5a3,3 0 1,0 6.1,0a3,3 0 1,0 -6.1,0zM84.5,465a3,3 0 1,0 6.1,0a3,3 0 1,0 -6.1,0zM90,463.5a3,3 0 1,0 6.1,0a3,3 0 1,0 -6.1,0zM97.2,462.8a3,3 0 1,0 6.1,0a3,3 0 1,0 -6.1,0zM102.5,461.3a3,3 0 1,0 6.1,0a3,3 0 1,0 -6.1,0zM109.7,460.5a3,3 0 1,0 6.1,0a3,3 0 1,0 -6.1,0zM115,459.2a3,3 0 1,0 6.1,0a3,3 0 1,0 -6.1,0zM120.4,458.1a3,3 0 1,0 6.1,0a3,3 0 1,0 -6.1,0zM125.8,457.4a3,3 0 1,0 6.1,0a3,3 0 1,0 -6.1,0zM131.1,457.4a3,3 0 1,0 6.1,0a3,3 0 1,0 -6.1,0zM136.5,456.9a3,3 0 1,0 6.1,0a3,3 0 1,0 -6.1,0zM141.8,456.3a3,3 0 1,0 6.1,0a3,3 0 1,0 -6.1,0zM147.2,456a3,3 0 1,0 6.1,0a3,3 0 1,0 -6.1,0zM152.6,455.1a3,3 0 1,0 6.1,0a3,3 0 1,0 -6.1,0zM158,454.2a3,3 0 1,0 6.1,0a3,3 0 1,0 -6.1,0zM163.3,453.3a3,3 0 1,0 6.1,0a3,3 0 1,0 -6.1,0zM168.9,453a3,3 0 1,0 6.1,0a3,3 0 1,0 -6.1,0zM174.9,452.5a3,3 0 1,0 6.1,0a3,3 0 1,0 -6.1,0zM180.9,452a3,3 0 1,0 6.1,0a3,3 0 1,0 -6.1,0zM186.9,451.7a3,3 0 1,0 6.1,0a3,3 0 1,0 -6.1,0zM192.8,451.5a3,3 0 1,0 6.1,0a3,3 0 1,0 -6.1,0zM197.9,450.8a3,3 0 1,0 6.1,0a3,3 0 1,0 -6.1,0zM203.5,450.1a3,3 0 1,0 6.1,0a3,3 0 1,0 -6.1,0zM208.9,449.5a3,3 0 1,0 6.1,0a3,3 0 1,0 -6.1,0zM214.2,448.8a3,3 0 1,0 6.1,0a3,3 0 1,0 -6.1,0zM219.6,448.5a3,3 0 1,0 6.1,0a3,3 0 1,0 -6.1,0zM225.9,447a3,3 0 1,0 6.1,0a3,3 0 1,0 -6.1,0zM232.1,445.2a3,3 0 1,0 6.1,0a3,3 0 1,0 -6.1,0zM238.8,441.4a3,3 0 1,0 6.1,0a3,3 0 1,0 -6.1,0zM244.1,438.4a3,3 0 1,0 6.1,0a3,3 0 1,0 -6.1,0zM251.1,433.1a3,3 0 1,0 6.1,0a3,3 0 1,0 -6.1,0zM256.3,432.6a3,3 0 1,0 6.1,0a3,3 0 1,0 -6.1,0zM260.8,437.5a3,3 0 1,0 6.1,0a3,3 0 1,0 -6.1,0zM267.8,444.5a3,3 0 1,0 6.1,0a3,3 0 1,0 -6.1,0zM272.1,449.8a3,3 0 1,0 6.1,0a3,3 0 1,0 -6.1,0zM277.3,451.2a3,3 0 1,0 6.1,0a3,3 0 1,0 -6.1,0zM281.8,450.1a3,3 0 1,0 6.1,0a3,3 0 1,0 -6.1,0zM287.1,447.2a3,3 0 1,0 6.1,0a3,3 0 1,0 -6.1,0z" fill="#ec3b3f"/>
<path d="M74.2,410.4L77.6,416.3L70.8,416.3zM79.6,408.6L83,414.5L76.2,414.5zM85.8,406.3L89.2,412.2L82.4,412.2zM93,404.1L96.4,410L89.6,410zM100.2,401.4L103.6,407.3L96.8,407.3zM109.1,397.8L112.5,403.7L105.7,403.7zM118.1,395.2L121.5,401.1L114.7,401.1zM127,393.7L130.4,399.6L123.6,399.6zM136,393.7L139.4,399.6L132.6,399.6zM144.9,394.3L148.3,400.2L141.5,400.2zM153.9,396.1L157.3,402L150.5,402zM160,398.4L163.4,404.3L156.6,404.3zM165.4,399.1L168.8,405L162,405zM170.7,400.5L174.1,406.4L167.3,406.4zM177.9,402.3L181.3,408.2L174.5,408.2zM186.9,405L190.3,410.9L183.5,410.9zM195.8,407.7L199.2,413.6L192.4,413.6zM203,409.1L206.4,415L199.6,415zM210.2,410.4L213.6,416.3L206.8,416.3zM215.5,409.1L218.9,415L212.1,415zM220.9,407.3L224.3,413.2L217.5,413.2zM226.3,405.9L229.7,411.8L222.9,411.8zM231.6,402L235,407.9L228.2,407.9zM236.1,403.2L239.5,409.1L232.7,409.1zM241.5,409.5L244.9,415.4L238.1,415.4zM245.8,423.5L249.2,429.4L242.4,429.4zM250.5,435.5L253.9,441.4L247.1,441.4zM254.2,442.4L257.6,448.3L250.8,448.3zM259.4,445.4L262.8,451.3L256,451.3zM264.7,444.5L268.1,450.4L261.3,450.4zM269.9,441.9L273.3,447.8L266.5,447.8z" fill="#1f6fe0"/>
<path d="M75.1,410.2L78.5,404.3L71.7,404.3zM79.6,411.1L83,405.2L76.2,405.2zM84.9,409.3L88.3,403.4L81.5,403.4zM93,406.6L96.4,400.7L89.6,400.7zM98.4,403.1L101.8,397.2L95,397.2zM103.7,401.3L107.1,395.4L100.3,395.4zM109.1,400L112.5,394.1L105.7,394.1zM118.1,398.6L121.5,392.7L114.7,392.7zM127,396.8L130.4,390.9L123.6,390.9zM136,395.9L139.4,390L132.6,390zM146.7,395.9L150.1,390L143.3,390zM157.5,394.6L160.9,388.7L154.1,388.7zM165.4,392.8L168.8,386.9L162,386.9zM172.5,391.4L175.9,385.5L169.1,385.5zM179.7,391.1L183.1,385.2L176.3,385.2zM186.9,389.6L190.3,383.7L183.5,383.7zM192.2,389.3L195.6,383.4L188.8,383.4zM196.7,389.6L200.1,383.7L193.3,383.7zM200.8,395.4L204.2,389.5L197.4,389.5zM206.2,405.4L209.6,399.5L202.8,399.5zM210.7,419.2L214.1,413.3L207.3,413.3zM216.4,438.9L219.8,433L213,433zM221.8,447.3L225.2,441.4L218.4,441.4zM226.3,451.4L229.7,445.5L222.9,445.5zM230.8,450.9L234.2,445L227.4,445zM235.6,447.8L239,441.9L232.2,441.9z" fill="#2ea35a"/>
<path d="M75.1,371.8L78.4,375.4L75.1,379L71.8,375.4zM79.6,371.8L82.9,375.4L79.6,379L76.3,375.4zM86.7,372.7L90,376.3L86.7,379.9L83.4,376.3zM91.2,370.9L94.5,374.5L91.2,378.1L87.9,374.5zM96.6,369.6L99.9,373.2L96.6,376.8L93.3,373.2zM101.9,370L105.2,373.6L101.9,377.2L98.6,373.6zM107.3,369.1L110.6,372.7L107.3,376.3L104,372.7zM112.7,369.6L116,373.2L112.7,376.8L109.4,373.2zM119,370L122.3,373.6L119,377.2L115.7,373.6zM124.3,369.6L127.6,373.2L124.3,376.8L121,373.2zM128.8,371.8L132.1,375.4L128.8,379L125.5,375.4zM133.3,374.5L136.6,378.1L133.3,381.7L130,378.1zM137.8,377.1L141.1,380.7L137.8,384.3L134.5,380.7zM143.1,385.2L146.4,388.8L143.1,392.4L139.8,388.8zM148.2,395.1L151.5,398.7L148.2,402.3L144.9,398.7zM153,411.2L156.3,414.8L153,418.4L149.7,414.8zM157.5,426.4L160.8,430L157.5,433.6L154.2,430zM162.5,439.8L165.8,443.4L162.5,447L159.2,443.4zM168.1,448.8L171.4,452.4L168.1,456L164.8,452.4zM174,452L177.3,455.6L174,459.2L170.7,455.6zM178.8,450.6L182.1,454.2L178.8,457.8L175.5,454.2zM184.2,448.8L187.5,452.4L184.2,456L180.9,452.4z" fill="#b07ee8"/>
<path d="M68.9,390.6L74.8,387.2L74.8,394zM75.2,396L81.1,392.6L81.1,399.4zM80.5,396.9L86.4,393.5L86.4,400.3zM85,401.9L90.9,398.5L90.9,405.3zM89.5,410.8L95.4,407.4L95.4,414.2zM94,422.8L99.9,419.4L99.9,426.2zM98.4,435.4L104.3,432L104.3,438.8zM105.6,452.8L111.5,449.4L111.5,456.2zM109.8,461.1L115.7,457.7L115.7,464.5zM116.1,463.6L122,460.2L122,467zM121,461.8L126.9,458.4L126.9,465.2z" fill="#cc9614"/>
<rect x="48.8" y="286.2" width="283.7" height="228.1" fill="none" stroke="#000" stroke-width="2.6"/>
<line x1="72.5" y1="514.5" x2="72.5" y2="519" stroke="#000" stroke-width="2.5" />
<text x="72.5" y="536.6" font-size="18" text-anchor="middle" fill="#000" style="font-family:'Liberation Sans',sans-serif;font-weight:bold" >2.0</text>
<line x1="119.8" y1="514.5" x2="119.8" y2="519" stroke="#000" stroke-width="2.5" />
<text x="119.8" y="536.6" font-size="18" text-anchor="middle" fill="#000" style="font-family:'Liberation Sans',sans-serif;font-weight:bold" >2.5</text>
<line x1="167.1" y1="514.5" x2="167.1" y2="519" stroke="#000" stroke-width="2.5" />
<text x="167.1" y="536.6" font-size="18" text-anchor="middle" fill="#000" style="font-family:'Liberation Sans',sans-serif;font-weight:bold" >3.0</text>
<line x1="214.3" y1="514.5" x2="214.3" y2="519" stroke="#000" stroke-width="2.5" />
<text x="214.3" y="536.6" font-size="18" text-anchor="middle" fill="#000" style="font-family:'Liberation Sans',sans-serif;font-weight:bold" >3.5</text>
<line x1="261.6" y1="514.5" x2="261.6" y2="519" stroke="#000" stroke-width="2.5" />
<text x="261.6" y="536.6" font-size="18" text-anchor="middle" fill="#000" style="font-family:'Liberation Sans',sans-serif;font-weight:bold" >4.0</text>
<line x1="308.9" y1="514.5" x2="308.9" y2="519" stroke="#000" stroke-width="2.5" />
<text x="308.9" y="536.6" font-size="18" text-anchor="middle" fill="#000" style="font-family:'Liberation Sans',sans-serif;font-weight:bold" >4.5</text>
<line x1="48.9" y1="514.5" x2="48.9" y2="517" stroke="#000" stroke-width="2.2" />
<line x1="96.1" y1="514.5" x2="96.1" y2="517" stroke="#000" stroke-width="2.2" />
<line x1="143.4" y1="514.5" x2="143.4" y2="517" stroke="#000" stroke-width="2.2" />
<line x1="190.7" y1="514.5" x2="190.7" y2="517" stroke="#000" stroke-width="2.2" />
<line x1="238" y1="514.5" x2="238" y2="517" stroke="#000" stroke-width="2.2" />
<line x1="285.3" y1="514.5" x2="285.3" y2="517" stroke="#000" stroke-width="2.2" />
<line x1="43.5" y1="485.5" x2="48.5" y2="485.5" stroke="#000" stroke-width="2.5" />
<text x="40.3" y="491.9" font-size="18" text-anchor="end" fill="#000" style="font-family:'Liberation Sans',sans-serif;font-weight:bold" >32</text>
<line x1="43.5" y1="435.6" x2="48.5" y2="435.6" stroke="#000" stroke-width="2.5" />
<text x="40.3" y="442" font-size="18" text-anchor="end" fill="#000" style="font-family:'Liberation Sans',sans-serif;font-weight:bold" >36</text>
<line x1="43.5" y1="385.7" x2="48.5" y2="385.7" stroke="#000" stroke-width="2.5" />
<text x="40.3" y="392.1" font-size="18" text-anchor="end" fill="#000" style="font-family:'Liberation Sans',sans-serif;font-weight:bold" >40</text>
<line x1="43.5" y1="335.8" x2="48.5" y2="335.8" stroke="#000" stroke-width="2.5" />
<text x="40.3" y="342.2" font-size="18" text-anchor="end" fill="#000" style="font-family:'Liberation Sans',sans-serif;font-weight:bold" >44</text>
<line x1="46" y1="510.4" x2="48.5" y2="510.4" stroke="#000" stroke-width="2.2" />
<line x1="46" y1="460.6" x2="48.5" y2="460.6" stroke="#000" stroke-width="2.2" />
<line x1="46" y1="410.6" x2="48.5" y2="410.6" stroke="#000" stroke-width="2.2" />
<line x1="46" y1="360.8" x2="48.5" y2="360.8" stroke="#000" stroke-width="2.2" />
<line x1="46" y1="310.9" x2="48.5" y2="310.9" stroke="#000" stroke-width="2.2" />
<text x="69.1" y="306" font-size="19" text-anchor="middle" fill="#000" style="font-family:'Liberation Sans',sans-serif;font-weight:bold" textLength="19" lengthAdjust="spacingAndGlyphs">(c)</text>
<text x="182.7" y="552.2" font-size="19" text-anchor="middle" fill="#000" style="font-family:'Liberation Sans',sans-serif;font-weight:bold" >T (K)</text>
<text transform="translate(15,400.5) rotate(-90)" font-size="19" text-anchor="middle" style="font-family:'Liberation Sans',sans-serif;font-weight:bold">R <tspan style="font-weight:normal">(<tspan font-size="20.5">&#937;</tspan>)</tspan></text>
<line x1="92.7" y1="296" x2="108.4" y2="296" stroke="#4d4d4d" stroke-width="1.1" />
<path d="M97.8,293.4h5.2v5.2h-5.2z" fill="#4d4d4d"/>
<text x="111.3" y="299" font-size="10.4" text-anchor="start" fill="#000" style="font-family:'Liberation Sans',sans-serif;font-weight:bold" >0 T</text>
<line x1="92.7" y1="309.5" x2="108.4" y2="309.5" stroke="#ec3b3f" stroke-width="1.1" />
<path d="M97.4,309.5a3,3 0 1,0 6.1,0a3,3 0 1,0 -6.1,0z" fill="#ec3b3f"/>
<text x="111.3" y="312.5" font-size="10.4" text-anchor="start" fill="#000" style="font-family:'Liberation Sans',sans-serif;font-weight:bold" >0.25 T</text>
<line x1="92.7" y1="322.9" x2="108.4" y2="322.9" stroke="#1f6fe0" stroke-width="1.1" />
<path d="M100.4,319.4L103.8,325.3L97,325.3z" fill="#1f6fe0"/>
<text x="111.3" y="325.9" font-size="10.4" text-anchor="start" fill="#000" style="font-family:'Liberation Sans',sans-serif;font-weight:bold" >0.5 T</text>
<line x1="92.7" y1="335.8" x2="108.4" y2="335.8" stroke="#2ea35a" stroke-width="1.1" />
<path d="M100.4,339.3L103.8,333.4L97,333.4z" fill="#2ea35a"/>
<text x="111.3" y="338.8" font-size="10.4" text-anchor="start" fill="#000" style="font-family:'Liberation Sans',sans-serif;font-weight:bold" >1 T</text>
<line x1="92.7" y1="349.2" x2="108.4" y2="349.2" stroke="#b07ee8" stroke-width="1.1" />
<path d="M100.4,345.6L103.7,349.2L100.4,352.8L97.1,349.2z" fill="#b07ee8"/>
<text x="111.3" y="352.2" font-size="10.4" text-anchor="start" fill="#000" style="font-family:'Liberation Sans',sans-serif;font-weight:bold" >2.0 T</text>
<line x1="92.7" y1="362.1" x2="108.4" y2="362.1" stroke="#cc9614" stroke-width="1.1" />
<path d="M96.9,362.1L102.8,358.7L102.8,365.5z" fill="#cc9614"/>
<text x="111.3" y="365.1" font-size="10.4" text-anchor="start" fill="#000" style="font-family:'Liberation Sans',sans-serif;font-weight:bold" >3.0 T</text>
<line x1="48.5" y1="375" x2="62.7" y2="375" stroke="#7030a0" stroke-width="2.8"/>
<polygon points="69.7,375 61.7,379 63.2,375 61.7,371" fill="#7030a0"/>
<line x1="316" y1="474" x2="309" y2="462.8" stroke="#0c2466" stroke-width="2.6"/>
<polygon points="305.8,457.7 312.6,461.7 308.7,462.4 306.5,465.5" fill="#0c2466"/>
<rect x="226.6" y="288.6" width="101.8" height="82.8" fill="#fff" stroke="#3a3a3a" stroke-width="1.6"/>
<line x1="233.7" y1="371.4" x2="233.7" y2="374" stroke="#3a3a3a" stroke-width="1.4" />
<text x="233.7" y="381.7" font-size="10" text-anchor="middle" fill="#000" style="font-family:'Liberation Sans',sans-serif;font-weight:bold" >0</text>
<line x1="263" y1="371.4" x2="263" y2="374" stroke="#3a3a3a" stroke-width="1.4" />
<text x="263" y="381.7" font-size="10" text-anchor="middle" fill="#000" style="font-family:'Liberation Sans',sans-serif;font-weight:bold" >1</text>
<line x1="292.3" y1="371.4" x2="292.3" y2="374" stroke="#3a3a3a" stroke-width="1.4" />
<text x="292.3" y="381.7" font-size="10" text-anchor="middle" fill="#000" style="font-family:'Liberation Sans',sans-serif;font-weight:bold" >2</text>
<line x1="321.6" y1="371.4" x2="321.6" y2="374" stroke="#3a3a3a" stroke-width="1.4" />
<text x="321.6" y="381.7" font-size="10" text-anchor="middle" fill="#000" style="font-family:'Liberation Sans',sans-serif;font-weight:bold" >3</text>
<line x1="248.3" y1="371.4" x2="248.3" y2="373" stroke="#3a3a3a" stroke-width="1.2" />
<line x1="277.6" y1="371.4" x2="277.6" y2="373" stroke="#3a3a3a" stroke-width="1.2" />
<line x1="306.9" y1="371.4" x2="306.9" y2="373" stroke="#3a3a3a" stroke-width="1.2" />
<line x1="224" y1="365.4" x2="226.6" y2="365.4" stroke="#3a3a3a" stroke-width="1.4" />
<text x="224" y="369" font-size="10" text-anchor="end" fill="#000" style="font-family:'Liberation Sans',sans-serif;font-weight:bold" >0</text>
<line x1="224" y1="346.1" x2="226.6" y2="346.1" stroke="#3a3a3a" stroke-width="1.4" />
<text x="224" y="349.7" font-size="10" text-anchor="end" fill="#000" style="font-family:'Liberation Sans',sans-serif;font-weight:bold" >5</text>
<line x1="224" y1="326.8" x2="226.6" y2="326.8" stroke="#3a3a3a" stroke-width="1.4" />
<text x="224" y="330.4" font-size="10" text-anchor="end" fill="#000" style="font-family:'Liberation Sans',sans-serif;font-weight:bold" >10</text>
<line x1="224" y1="307.5" x2="226.6" y2="307.5" stroke="#3a3a3a" stroke-width="1.4" />
<text x="224" y="311.1" font-size="10" text-anchor="end" fill="#000" style="font-family:'Liberation Sans',sans-serif;font-weight:bold" >15</text>
<line x1="225" y1="355.8" x2="226.6" y2="355.8" stroke="#3a3a3a" stroke-width="1.2" />
<line x1="225" y1="336.4" x2="226.6" y2="336.4" stroke="#3a3a3a" stroke-width="1.2" />
<line x1="225" y1="317.1" x2="226.6" y2="317.1" stroke="#3a3a3a" stroke-width="1.2" />
<line x1="225" y1="297.8" x2="226.6" y2="297.8" stroke="#3a3a3a" stroke-width="1.2" />
<text x="277.8" y="389.6" font-size="10" text-anchor="middle" fill="#000" style="font-family:'Liberation Sans',sans-serif;font-weight:bold" >B (T)</text>
<text transform="translate(212.6,331.5) rotate(-90)" font-size="10.5" text-anchor="middle" textLength="31.5" lengthAdjust="spacingAndGlyphs" style="font-family:'Liberation Sans',sans-serif;font-weight:bold">Peak %</text>
<circle cx="233.7" cy="359.6" r="3.5" fill="url(#sph)"/>
<circle cx="241" cy="348" r="3.5" fill="url(#sph)"/>
<circle cx="248.3" cy="324.1" r="3.5" fill="url(#sph)"/>
<circle cx="255.7" cy="312.9" r="3.5" fill="url(#sph)"/>
<circle cx="263" cy="304.4" r="3.5" fill="url(#sph)"/>
<circle cx="277.6" cy="303.3" r="3.5" fill="url(#sph)"/>
<circle cx="285" cy="301.7" r="3.5" fill="url(#sph)"/>
<circle cx="299.6" cy="304.4" r="3.5" fill="url(#sph)"/>
<circle cx="314.3" cy="302.5" r="3.5" fill="url(#sph)"/>
<clipPath id="cd"><rect x="398" y="285" width="238" height="228"/></clipPath>
<g clip-path="url(#cd)">
<rect x="398" y="285" width="238" height="228" fill="#650000"/>
<path d="M397.9,512.1 397.9,513.6 429.3,513.6Z" fill="#660090" fill-rule="evenodd" stroke="#660090" stroke-width="0.4"/>
<path d="M397.9,510.5 397.9,512.1 429.3,513.6 455,513.6 426.7,511.7Z" fill="#7a00cc" fill-rule="evenodd" stroke="#7a00cc" stroke-width="0.4"/>
<path d="M397.9,508.9 397.9,510.5 426.7,511.7 455,513.6 486.4,513.6 443.6,510.7Z" fill="#7a00f4" fill-rule="evenodd" stroke="#7a00f4" stroke-width="0.4"/>
<path d="M519.3,513.6 498.2,511.5 471.4,509.9 397.9,507.5 397.9,508.9 443.6,510.7 486.4,513.6ZM489.3,485.5 469.8,472 436.5,451.2 428.7,445.2 425.5,446 423.4,447 421.7,448.6 421.2,451.2 433.7,457.9 456.3,472 478.4,482.1 488.3,486ZM397.9,432.8 400.9,432.6 405.7,430.4 397.9,428.9Z" fill="#5c00ff" fill-rule="evenodd" stroke="#5c00ff" stroke-width="0.4"/>
<path d="M547.9,513.6 539.9,512.4 538.5,511.5 536.9,508.4 523,503.2 441.9,451.2 428.7,440.9 421.7,440.2 420,441.8 419,443.9 417.9,451.2 453.3,472 471.4,481.5 500.3,495.9 519,503.2 520.5,505.3 524.7,508.4 520.1,510.2 514.1,510.8 498.2,508.4 397.9,506.3 397.9,507.5 471.4,509.9 498.2,511.5 519.3,513.6ZM489.3,485.5 488.3,486 478.4,482.1 456.3,472 433.7,457.9 421.2,451.2 421.7,448.6 423.4,447 425.5,446 428.7,445.2 436.5,451.2 469.8,472ZM397.9,435.5 400.9,435.5 409.1,432.5 411.5,430.4 407.2,429.4 399.9,426.3 397.9,426.1 397.9,428.9 405.7,430.4 400.9,432.6 397.9,432.8Z" fill="#3800ff" fill-rule="evenodd" stroke="#3800ff" stroke-width="0.4"/>
<path d="M549.9,513.6 542.9,511.5 539.5,508.4 529.8,503.2 477.4,472 445.6,450.7 434.1,440.8 429.7,437.7 419.7,433.5 418.4,432.5 417.3,430.4 410.2,428.3 400.9,423.4 397.9,422.5 397.9,426.1 399.9,426.3 407.2,429.4 411.5,430.4 409.1,432.5 400.9,435.5 397.9,435.5 397.9,438.5 400.9,438.7 406.8,437.6 411.8,439.1 413.8,441.9 414.7,451.2 450.2,472 482.3,488.9 510.8,503.2 513.6,505.3 515.2,507.4 514.1,508.5 494.3,506.4 435.6,506.3 397.9,505.2 397.9,506.3 498.2,508.4 514.1,510.8 520.1,510.2 524.7,508.4 520.5,505.3 519,503.2 500.3,495.9 471.4,481.5 453.3,472 417.9,451.2 419,443.9 420,441.8 421.7,440.2 428.7,440.9 441.9,451.2 523,503.2 536.9,508.4 538.5,511.5 539.9,512.4Z" fill="#1804ff" fill-rule="evenodd" stroke="#1804ff" stroke-width="0.4"/>
<path d="M551.3,513.6 548.9,512 543.6,510.5 541.5,508.4 516.2,492.8 481,472 447.6,449 434.7,437.7 430.1,434.6 422.8,430.4 418.3,429.4 413.4,427.3 399.9,419.1 397.9,418.4 397.9,422.5 400.9,423.4 410.2,428.3 417.3,430.4 418.4,432.5 419.7,433.5 429.7,437.7 434.1,440.8 445.6,450.7 477.4,472 529.8,503.2 539.5,508.4 542.9,511.5ZM515.1,507.6 514.7,506.3 510.8,503.2 482.3,488.9 450.2,472 414.8,451.3 413.8,441.9 412.8,440 411.2,438.7 406.8,437.6 400.9,438.7 397.9,438.5 397.9,442 405.8,442.3 407.3,442.9 409.6,446 410.9,451.2 414.8,453.9 429.7,461.6 453.5,475.4 506.6,503.2 507,504.2 505.2,505.3 503.2,505.5 490.3,504.5 435.6,505.3 397.9,504 397.9,505.2 435.6,506.3 494.3,506.4 514.1,508.5Z" fill="#0020ff" fill-rule="evenodd" stroke="#0020ff" stroke-width="0.4"/>
<path d="M552.6,513.6 549.9,511.4 543.9,509.4 519.1,492.7 484.6,472 457.5,451.2 448.6,446.6 433.7,433.5 428.3,430.4 421.7,428.7 416.6,426.2 397.9,413.8 397.9,418.4 399.9,419.1 413.4,427.3 418.3,429.4 422.8,430.4 430.1,434.6 434.7,437.7 447.6,449 481,472 516.2,492.8 541.5,508.4 543.6,510.5 548.9,512 551.3,513.6ZM507,504.2 506.6,503.2 453.5,475.4 429.7,461.6 414.8,453.9 410.9,451.2 409.6,446 406.8,442.5 397.9,442 397.9,446.3 405.8,448.8 407,451.2 408.8,453.2 414.8,457.7 435.6,466.8 452.5,476.8 483.3,492.8 500.1,503.2 495.7,503.2 486.3,501.7 473,503.2 434.7,504.2 405.7,503.2 399.9,497.8 397.9,497.1 397.9,504 435.6,505.3 490.3,504.5 502.2,505.5 505.2,505.3Z" fill="#005cff" fill-rule="evenodd" stroke="#005cff" stroke-width="0.4"/>
<path d="M554.1,513.6 550.9,510.8 544.2,508.4 522.8,492.8 488.1,472 463.7,451.2 456,448.1 450.4,445 433.8,430.4 426.7,428.3 419.8,425.2 413.6,421 399.4,409.6 397.9,409.1 397.9,413.8 416.6,426.2 421.7,428.7 428.3,430.4 433.7,433.5 448.6,446.6 457.5,451.2 484.6,472 519.1,492.7 543.9,509.4 549.9,511.4 552.6,513.6ZM397.9,446.3 397.9,457.5 410.8,461.2 419.8,465.1 429.7,467.4 441.6,472 454.5,480.7 479.9,492.8 482,494.9 483,497 477.4,497.6 453.5,498 439.6,499.4 432.7,501.2 420.1,492.8 403.9,484.9 397.9,482.9 397.9,497.1 399.9,497.8 405.7,503.2 434.7,504.2 473,503.2 486.3,501.7 495.7,503.2 500.1,503.2 483.3,492.8 452.5,476.8 435.6,466.8 415.8,458.2 408.8,453.2 407,451.2 405.8,448.8Z" fill="#008cff" fill-rule="evenodd" stroke="#008cff" stroke-width="0.4"/>
<path d="M556.1,513.6 551.9,510 546.5,508.4 526.4,492.8 491.5,472 467.1,451.2 464.5,449.4 457.5,446.3 451.5,442.9 437.4,430.4 421.7,423.4 414.8,418.2 405.3,409.6 397.9,405.9 397.9,409.1 399.4,409.6 415,422.1 421.7,426.3 433.8,430.4 450.4,445 456,448.1 463.7,451.2 488.1,472 522.8,492.8 544.2,508.4 550.9,510.8 554.1,513.6ZM483,497 482,494.9 479.9,492.8 454.5,480.7 441.6,472 429.7,467.4 419.8,465.1 410.8,461.2 397.9,457.5 397.9,482.9 403.9,484.9 420.1,492.8 432.7,501.2 439.6,499.4 453.5,498 477.4,497.6ZM467.3,492.8 470.4,492 474.9,492.8 471.4,493.2Z" fill="#00bcff" fill-rule="evenodd" stroke="#00bcff" stroke-width="0.4"/>
<path d="M559.5,513.6 554.8,510 550.7,508.4 528.8,492.8 495,472 467.4,449.2 464.5,447.1 458.5,444.4 452.5,440.7 440.8,430.4 421.7,420.1 409.8,409.1 399.9,403.3 397.9,402.8 397.9,405.9 405.3,409.6 414.8,418.2 421.7,423.4 437.4,430.4 451.6,442.9 457.5,446.3 464.5,449.4 491.5,472 526.4,492.8 546.5,508.4 551.9,510 556.1,513.6ZM467.3,492.8 471.4,493.2 474.9,492.8 470.4,492Z" fill="#00e8f8" fill-rule="evenodd" stroke="#00e8f8" stroke-width="0.4"/>
<path d="M563.8,513.6 558.8,509.8 539.9,498.5 498.3,472 471.9,450.2 464.5,444.9 454.5,439.4 443.6,429.9 425.7,419.3 421.1,415.8 414.8,409.6 400.9,400.5 397.9,399.6 397.9,402.8 399.9,403.3 409.8,409.1 421.7,420.1 440.8,430.4 452.5,440.7 458.5,444.4 464.5,447.1 467.4,449.2 495,472 528.8,492.8 550.7,508.4 554.8,510 559.5,513.6Z" fill="#00fec3" fill-rule="evenodd" stroke="#00fec3" stroke-width="0.4"/>
<path d="M568.3,513.6 563.8,510.9 560.9,508.4 539.9,496.5 501.5,472 474.4,449.7 464.5,442.7 455.5,437.5 445.6,428.6 428.4,417.9 419,409.6 400.9,397.2 397.9,396.4 397.9,399.6 400.9,400.5 414.8,409.6 421.1,415.8 425.7,419.3 443.6,429.9 454.5,439.4 464.5,444.9 471.9,450.2 498.3,472 539.9,498.5 558.8,509.8 563.8,513.6Z" fill="#00ff54" fill-rule="evenodd" stroke="#00ff54" stroke-width="0.4"/>
<path d="M569.8,513.6 564,508.4 538,493.5 504.6,472 474.4,447.3 455.5,435 445.6,425.8 430.7,416.4 423.2,409.6 400.9,393.9 397.9,393.2 397.9,396.4 400.9,397.2 419,409.6 428.4,417.9 445.6,428.6 455.5,437.5 464.5,442.7 474.4,449.7 501.5,472 539.9,496.5 560.9,508.4 566.3,512.6 568.3,513.6Z" fill="#10ff00" fill-rule="evenodd" stroke="#10ff00" stroke-width="0.4"/>
<path d="M571.2,513.6 566.4,508.4 539.4,492.8 507.7,472 475.4,445.7 456.9,433.5 445.6,423 435.6,416.9 423.7,407 412.8,399.6 400.9,390.6 397.9,390.1 397.9,393.2 400.9,393.9 423.2,409.6 430.7,416.4 445.6,425.8 455.5,435 474.4,447.3 504.6,472 538,493.5 564,508.4 569.8,513.6Z" fill="#50ff00" fill-rule="evenodd" stroke="#50ff00" stroke-width="0.4"/>
<path d="M572.4,513.6 567.8,508.4 542.1,492.8 511.1,472 484.7,451.2 476.4,444 458.5,432.4 445.6,420.1 435.6,414.1 424.3,404.4 411.8,396 399.9,386.6 397.9,386.5 397.9,390.1 400.9,390.6 412.8,399.6 423.7,407 435.6,416.9 445.6,423 456.9,433.5 475.4,445.7 507.7,472 539.4,492.8 566.4,508.4 571.2,513.6Z" fill="#8cff00" fill-rule="evenodd" stroke="#8cff00" stroke-width="0.4"/>
<path d="M573.4,513.6 569.2,508.4 560.4,503.2 514.7,472 487.8,451.2 478.1,442.9 459.1,430.4 446.6,418 436.6,411.9 424.7,401.7 407.6,389.8 399.9,382.9 397.9,382.7 397.9,386.5 399.9,386.6 411.8,396 424.3,404.4 435.6,414.1 445.6,420.1 458.5,432.4 476.4,444 484.7,451.2 511.1,472 542.1,492.8 567.8,508.4 572.4,513.6Z" fill="#bcff00" fill-rule="evenodd" stroke="#bcff00" stroke-width="0.4"/>
<path d="M574.3,513.6 570.5,508.4 562,503.2 518.3,472 491,451.2 479.4,441.3 462.6,430.4 447.6,416 436.6,408.9 424.7,398.7 411.8,390.2 399.9,379.2 397.9,378.8 397.9,382.7 399.9,382.9 407.6,389.8 424.7,401.7 436.6,411.9 446.6,418 459.1,430.4 478.1,442.9 487.8,451.2 514.7,472 560.4,503.2 569.2,508.4 573.4,513.6Z" fill="#e8ff00" fill-rule="evenodd" stroke="#e8ff00" stroke-width="0.4"/>
<path d="M575.3,513.6 571.7,508.4 563.6,503.2 550.9,492.9 494.3,451.2 479.4,438.7 466.1,430.4 448.6,413.8 436.6,405.5 424.7,395.7 412.8,387.9 400.9,376.3 398.9,375 397.9,375 397.9,378.8 399.9,379.2 411.8,390.2 424.7,398.7 436.6,408.9 447.6,416 462.6,430.4 479.4,441.3 491,451.2 518.3,472 562,503.2 570.5,508.4 574.3,513.6Z" fill="#fffb00" fill-rule="evenodd" stroke="#fffb00" stroke-width="0.4"/>
<path d="M576.4,513.6 572.9,508.4 565.7,503.2 553.5,492.8 495.2,449.1 481.5,437.7 469.5,430.4 463.5,424.2 448.6,410.9 426.7,394.1 412.8,384.6 399.9,371.8 397.9,371.2 397.9,375 398.9,375 400.9,376.3 412.8,387.9 424.7,395.7 436.6,405.5 448.6,413.8 466.1,430.4 479.4,438.7 494.3,451.2 550.9,492.9 563.6,503.2 571.7,508.4 575.3,513.6Z" fill="#ffe400" fill-rule="evenodd" stroke="#ffe400" stroke-width="0.4"/>
<path d="M577.7,513.6 574.1,508.4 556.1,492.8 529.2,472 503.5,451.2 495.2,446 481.3,434.9 472.4,429.5 464.5,421.5 448.6,407.9 429.7,393.2 412.8,381.2 406.4,375.3 399.9,368.1 397.9,367.4 397.9,371.2 399.9,371.8 412.8,384.6 426.7,394.1 448.6,410.9 463.5,424.2 469.5,430.4 481.5,437.7 495.2,449.1 553.5,492.8 565.7,503.2 572.9,508.4 576.4,513.6Z" fill="#ffbe00" fill-rule="evenodd" stroke="#ffbe00" stroke-width="0.4"/>
<path d="M579.7,513.6 570.7,503.2 540,478.2 508.4,451.2 498,445 487.6,436.6 475.4,428.1 464.5,418 453.5,409.5 448.6,404.8 432.3,391.9 412.8,377.8 406.7,372.2 398.9,363.6 397.9,363.6 397.9,367.4 399.9,368.1 406.4,375.3 412.8,381.2 429.7,393.2 448.6,407.9 464.5,421.5 473.4,430.3 481.3,434.9 495.2,446 503.5,451.2 529.2,472 556.1,492.8 574.1,508.4 577.7,513.6Z" fill="#ff9800" fill-rule="evenodd" stroke="#ff9800" stroke-width="0.4"/>
<path d="M581.6,513.6 572.5,503.2 511.7,451.2 499.2,443 482.3,430.2 472.6,422.1 465.4,415.2 454.5,407.3 448.6,401.7 436.6,391.9 413.8,375.3 406.8,368.9 398.9,359.7 397.9,359.7 397.9,363.6 398.9,363.6 406.7,372.2 412.8,377.8 432.3,391.9 448.6,404.8 453.5,409.5 464.5,418 476.4,428.9 487.3,436.4 498.2,445.1 508.4,451.2 540,478.2 570.7,503.2 579.7,513.6Z" fill="#ff7800" fill-rule="evenodd" stroke="#ff7800" stroke-width="0.4"/>
<path d="M583.2,513.6 571.7,500.8 514.8,451.2 500.2,440.8 483.3,427.8 467.4,413.2 454.5,404.2 432.7,385.2 413.8,371.9 406.8,365.5 398.9,355.9 397.9,355.9 397.9,359.7 398.9,359.7 406.8,368.9 412.8,374.5 436.6,391.9 448.6,401.7 454.5,407.3 465.4,415.2 472.6,422.1 482.3,430.2 499.2,443 511.7,451.2 572.5,503.2 581.6,513.6Z" fill="#ff5800" fill-rule="evenodd" stroke="#ff5800" stroke-width="0.4"/>
<path d="M584.5,513.6 576,503.2 565.8,493.2 541,472 517.9,451.2 500.2,438 493.3,432 485.1,426.2 468.4,410.3 454.5,401.1 440.6,388.8 435.5,383.6 413.8,368.6 406.8,362.1 398.9,352.1 397.9,352.1 397.9,355.9 398.9,355.9 406.8,365.5 412.8,371.1 432.7,385.2 454.5,404.2 467.4,413.2 483.3,427.8 500.2,440.8 514.8,451.2 574.3,503.2 583.2,513.6Z" fill="#ff3800" fill-rule="evenodd" stroke="#ff3800" stroke-width="0.4"/>
<path d="M585.9,513.6 577.7,503.2 567.9,492.8 543.2,472 521,451.2 511.1,444.1 494.3,429.8 486.1,424.2 471.5,409.6 461.5,403.3 454.5,398.1 444.3,388.8 436.6,380.6 413.8,365.2 406.8,358.7 398.9,348.3 397.9,348.3 397.9,352.1 398.9,352.1 406.6,361.8 412.8,367.7 435.6,383.7 440.6,388.8 454.5,401.1 468.4,410.3 485.1,426.2 493.3,432 500.2,438 517.9,451.2 541,472 565.3,492.8 576,503.2 584.5,513.6Z" fill="#ff1000" fill-rule="evenodd" stroke="#ff1000" stroke-width="0.4"/>
<path d="M587.2,513.6 579.2,503.2 569.9,492.8 545.4,472 523,451.2 521.1,448.7 511.1,441.9 494.6,427.3 486.3,421.5 474.4,409 461.5,400.5 455.5,395.9 448,388.8 442.6,382.2 436.6,376.6 413.8,361.9 406.8,355.3 400.8,347.2 398.9,343.8 397.9,343.8 397.9,348.3 398.9,348.3 405.8,357.5 412.8,364.4 436.6,380.6 444.3,388.8 454.5,398.1 461.5,403.3 471.5,409.6 486.1,424.2 494.3,429.8 511.1,444.1 521,451.2 543.2,472 567.9,492.8 577.7,503.2 585.9,513.6Z" fill="#ff0000" fill-rule="evenodd" stroke="#ff0000" stroke-width="0.4"/>
<path d="M588.4,513.6 580.8,503.2 572,492.8 547.3,472 524.9,451.2 521.1,446.1 511.1,439.6 496.8,426.2 486.3,418.7 476.4,407.6 461.5,397.7 456.5,393.7 451.3,388.8 448.6,384.4 445.3,380.5 438.6,374.1 413.8,358.5 405.8,350.7 403.3,347.2 398.9,339 397.9,339 397.9,343.8 398.9,343.8 405.8,354.1 412.8,361 436.6,376.6 442.6,382.2 448,388.8 455.5,395.9 461.5,400.5 474.4,409 486.3,421.5 494.6,427.3 511.1,441.9 521.1,448.7 523,451.2 545.4,472 569.9,492.8 579.2,503.2 587.2,513.6Z" fill="#ff0000" fill-rule="evenodd" stroke="#ff0000" stroke-width="0.4"/>
<path d="M589.7,513.6 582.4,503.2 574,492.8 549,472 526.7,451.2 524.2,447 521.5,443.9 511.1,437.4 500.2,426.1 486.3,415.8 478.4,406 461.5,395 454.4,388.8 448.8,379.4 442.6,373.1 436.6,368.6 421.7,360.4 413.8,355.2 405.8,347.2 401.4,337.8 398.9,334.3 397.9,334.3 397.9,339 398.9,339 403.3,347.2 405.8,350.7 412.8,357.6 421.7,363.8 438.6,374.1 445.3,380.5 448.6,384.4 451.3,388.8 456.5,393.7 461.5,397.7 476.4,407.6 486.3,418.7 496.8,426.2 511.1,439.6 521.1,446.1 524.9,451.2 547.3,472 572,492.8 580.8,503.2 588.4,513.6Z" fill="#ff0000" fill-rule="evenodd" stroke="#ff0000" stroke-width="0.4"/>
<path d="M590.9,513.6 583.9,503.2 575.8,492.8 550.7,472 528.5,451.2 525.8,446 522.2,441.8 511.1,435.2 506.4,430.4 504.2,426.5 502.2,424.5 486.3,413 478.4,402.7 461.5,392.2 457.6,388.8 452.5,379.1 449.6,375 446.6,371.9 437.6,365.2 421.7,357 412.8,350.9 409,347.2 404.7,337.8 401.9,333.1 398.9,329.5 397.9,329.5 397.9,334.3 398.9,334.3 401.4,337.8 405.8,347.2 412.8,354.3 421.7,360.4 436.6,368.6 443.6,374 448.8,379.4 454.4,388.8 461.5,395 478.4,406 486.3,415.8 500.2,426.1 511.1,437.4 521.5,443.9 524.2,447 526.7,451.2 549,472 574,492.8 582.4,503.2 589.7,513.6Z" fill="#ff0000" fill-rule="evenodd" stroke="#ff0000" stroke-width="0.4"/>
<path d="M592.2,513.6 589.2,508.4 577.4,492.8 552.6,472 530.3,451.2 527.5,445 524.1,440.8 521.1,438.4 511.1,432.9 508.6,430.4 506.7,426.2 504.2,422.6 486.3,410.1 483.1,404.4 479.4,400.2 471.4,395.9 460.7,388.8 455.5,377.4 451.8,372.2 448.6,368.6 439.6,362.2 421.7,353.6 412.8,347.5 409,338.9 404.1,330.6 398.9,324.8 397.9,324.8 397.9,329.5 398.9,329.5 401.9,333.1 404.7,337.8 409,347.2 413.8,351.8 421.7,357 438.6,365.8 446.6,371.9 449.6,375 452.5,379.1 457.6,388.8 461.5,392.2 478.4,402.7 486.3,413 502.2,424.5 504.2,426.5 506.4,430.4 511.1,435.2 522.2,441.8 525.8,446 528.5,451.2 550.7,472 575.8,492.8 583.9,503.2 590.9,513.6Z" fill="#fe0000" fill-rule="evenodd" stroke="#fe0000" stroke-width="0.4"/>
<path d="M593.8,513.6 590.8,508.4 578.9,492.8 532.1,451.2 529.3,443.9 526,439.5 522.1,436.4 511.1,430.7 508.3,424.2 505.2,419.7 503.2,418 494.3,413.1 489.3,409.6 484.3,401.6 481.2,398.2 478.4,396.2 471.4,393.2 464.6,388.8 457.9,374.2 454.5,369.3 450.5,365 441.6,359 429.7,354.1 421.7,350.2 417,347.2 412,335.8 409,330.6 402.9,323.1 399.2,320.2 397.9,320 397.9,324.8 398.9,324.8 404.1,330.6 409.5,339.9 412.5,347.2 421.7,353.6 440.6,362.8 448.6,368.6 451.8,372.2 455.5,377.4 460.7,388.8 471.4,395.9 479.4,400.2 483.1,404.4 486.3,410.1 504.2,422.6 506.7,426.2 508.6,430.4 511.1,432.9 521.1,438.4 524.1,440.8 527.5,445 530.3,451.2 552.6,472 577.4,492.8 589.2,508.4 592.2,513.6Z" fill="#f30000" fill-rule="evenodd" stroke="#f30000" stroke-width="0.4"/>
<path d="M595.4,513.6 592.4,508.4 580.5,492.8 554.8,469.2 534.2,451.2 531.4,442.9 528,437.7 523.7,434.6 514.8,430.4 509.9,421 507.2,417.3 504.1,414.8 493.1,409.6 489.3,402.5 483.3,395.8 479.4,393.3 471.4,390.5 468.8,388.8 466.2,381.5 463.5,375.7 458.9,368 454.6,362.8 449.6,358.7 444.6,355.9 437.6,353 429.7,350.5 422.7,347.2 417.8,334.9 411.6,325.4 408.9,322.2 404,318.1 399.9,315.7 397.9,315.2 397.9,320 399.2,320.2 402.9,323.1 409,330.6 412,335.8 417,347.2 421.7,350.2 429.7,354.1 441.6,359 450.5,365 454.5,369.3 457.9,374.2 464.6,388.8 471.4,393.2 478.4,396.2 481.2,398.2 484.3,401.6 489.3,409.6 494.3,413.1 503.2,418 505.2,419.7 508.3,424.2 511.1,430.7 522.1,436.4 526,439.5 529.3,443.9 532.1,451.2 578.9,492.8 590.8,508.4 593.8,513.6Z" fill="#d90000" fill-rule="evenodd" stroke="#d90000" stroke-width="0.4"/>
<path d="M599.1,513.6 597.5,510.5 583.5,492.8 562,472 539,451.2 532,437.8 530.3,435.6 526,432.6 519.8,430.4 516,422.1 509.2,413.8 505.2,411.3 499.4,409.6 491.8,398.2 487.5,394 482.3,390.9 474.4,388.8 466.4,370.2 463.5,365.5 458.5,359.4 453.6,355.5 448.6,352.8 440.6,349.8 430.7,347.2 425,332.6 417.8,320.5 408.8,314 402.9,311.5 397.9,310.5 397.9,315.2 399.9,315.7 404,318.1 408.9,322.2 412.4,326.4 417.8,334.9 422.7,347.2 429.7,350.5 437.6,353 444.6,355.9 449.6,358.7 454.5,362.7 458.9,368 463.5,375.7 466.2,381.5 468.8,388.8 471.4,390.5 479.4,393.3 482.3,395.1 489.1,402.3 493.1,409.6 503.2,414.3 506.8,416.9 509.3,420 514.8,430.4 525,435.4 528.9,438.7 531.4,442.9 534.2,451.2 554.8,469.2 580.5,492.8 592.4,508.4 595.4,513.6Z" fill="#b80000" fill-rule="evenodd" stroke="#b80000" stroke-width="0.4"/>
<path d="M609,513.6 604.5,508.6 600.9,503.2 589.6,492.8 572.9,472 550.5,449.1 540.9,440.3 533.4,432.5 530.4,430.4 526.3,422.1 521.1,415.2 517.2,411.7 513.4,409.6 508.9,403.4 503.8,398.2 497,393 490.3,388.8 484.1,379.4 479.6,374.2 474.4,369.3 464.9,356.6 457.5,350.9 447.3,347.2 442.8,337.8 438,329.5 427.7,314.7 424.4,310.8 420.7,307.7 417.8,306 397.9,305.7 397.9,310.5 402.9,311.5 409.8,314.5 418.4,321.2 425.5,333.7 430.7,347.2 440.6,349.8 449.6,353.3 454.5,356.1 458.7,359.7 463.5,365.5 466.4,370.2 474.4,388.8 482.3,390.9 487.5,394 491.8,398.2 499.4,409.6 505.2,411.3 509.2,413.8 516,422.1 519.8,430.4 526,432.6 530.3,435.6 532,437.8 539,451.2 562,472 583.5,492.8 597.5,510.5 599.1,513.6Z" fill="#9e0000" fill-rule="evenodd" stroke="#9e0000" stroke-width="0.4"/>
<path d="M634.3,513.6 624.4,509.3 606.6,492.8 593,472 569.3,451.2 565.8,445.3 561.7,440.8 556.8,437.1 550.9,434 546.2,430.4 540.9,415.6 538,409.3 535,404.5 530,399 523.1,394.1 517,388.8 511.1,379.6 504.8,372.2 499.2,367.1 483.3,354.8 476.4,350.7 468.3,347.2 462.8,331.6 457,320.2 451.6,312.9 445.6,306.6 440.1,299.4 435.3,294.2 426.7,287 417.8,281.7 397.9,281.5 397.9,305.7 417.8,306 420.7,307.7 424.4,310.8 427.7,314.7 438,329.5 442.8,337.8 447.3,347.2 457.5,350.9 464.9,356.6 474.4,369.3 479.6,374.2 484.1,379.4 490.3,388.8 497,393 503.8,398.2 508.9,403.4 513.4,409.6 517.2,411.7 521.1,415.2 526.3,422.1 530.4,430.4 533.4,432.5 540.9,440.3 550.5,449.1 572.9,472 589.6,492.8 600.9,503.2 604.5,508.6 609,513.6Z" fill="#870000" fill-rule="evenodd" stroke="#870000" stroke-width="0.4"/>
<path d="M636.3,513.6 636.3,280.6 397.9,280.6 397.9,281.5 417.8,281.7 426.7,287 435.3,294.2 440.1,299.4 445.6,306.6 451.6,312.9 457,320.2 462.8,331.6 468.3,347.2 476.4,350.7 483.3,354.8 504.2,371.5 511,379.4 517,388.8 523.1,394.1 530,399 535,404.5 538,409.3 540.9,415.6 546.2,430.4 550.9,434 556.8,437.1 561.7,440.8 565.8,445.3 569.3,451.2 593,472 606.6,492.8 624.4,509.3 634.3,513.6Z" fill="#6c0000" fill-rule="evenodd" stroke="#6c0000" stroke-width="0.4"/>
<path d="M397.9,506.4 496.9,508.4 514.1,510.9 521.1,510.1 525,508.4 522.1,506.3 519.8,503.2 498.2,494.9 471.4,481.5 453.4,472 418.1,451.2 418.6,446 419.7,442.9 421.2,440.8 422.7,440.5 428.7,441.1 441.7,451.2 473.7,472 499.1,487.6 522.5,503.2 536.5,508.4 537.5,510.5 539,512.1 541.9,512.9 547.7,513.6M397.9,426.2 399.9,426.4 406.9,429.4 411.3,430.4 408.8,432.4 400.9,435.4 397.9,435.4" fill="none" stroke="#101010" stroke-width="1.1" mask="url(#lblmask)"/>
<path d="M397.9,474.6 405.8,476.2 432.7,483.9 442.6,488.1 451.2,492.8 473.4,494.8 477.4,494.4 478.2,493.8 477.5,492.8 473.4,490.7 461.5,487.3 450.5,482.8 444.6,478.9 436.4,472 433.7,470.9 412.8,468.3 397.9,468.5M397.9,407.1 403.1,409.6 414.8,419.6 421.2,424.2 427.7,427.3 436.1,430.4 451.5,443.9 465.9,451.2 490.3,472 525.2,492.8 545.6,508.4 551.7,510.5 555.4,513.6" fill="none" stroke="#101010" stroke-width="1.1" mask="url(#lblmask2)"/>
<path d="M397.9,392.3 400.9,392.9 423.7,409.1 431.7,416.2 445.6,425 455.9,434.6 474.4,446.6 505.5,472 538,493 564.9,508.4 570.2,513.6" fill="none" stroke="#101010" stroke-width="1.1" mask="url(#lblmask)"/>
<path d="M397.9,375.2 398.9,375.2 400.9,376.5 412.8,388.1 424.7,395.8 436.6,405.7 448.6,414 465.9,430.4 479.4,438.8 497.2,453.6 521.7,472 550.9,493 563.5,503.2 571.7,508.4 575.3,513.6" fill="none" stroke="#101010" stroke-width="1.1" mask="url(#lblmask)"/>
<path d="M397.9,357.4 398.9,357.4 406.8,366.8 413.8,373.2 431.4,385.7 448.6,399.8 454.5,405.4 465.1,412.7 483.3,429 492.3,435.4 500.1,441.8 513.6,451.2 572.7,502.4 582.6,513.6" fill="none" stroke="#101010" stroke-width="1.1" mask="url(#lblmask)"/>
<path d="M397.9,337.7 398.9,337.7 399.9,339.1 404,347.2 405.8,349.7 413.8,357.6 421.7,362.8 436.1,371.1 440.2,374.2 446.6,380.5 449.6,384.3 452.2,388.8 461.5,397 469.4,401.9 478.4,408.4 486.3,417.9 497.8,426.2 511.1,439 521.1,445.4 525.4,451.2 547.7,472 572.6,492.8 581.3,503.2 588.8,513.6" fill="none" stroke="#808080" stroke-width="1.1" mask="url(#lblmask)"/>
<path d="M397.9,315.5 399.9,316 403.9,318.4 411.2,325.4 417.8,335.8 422.2,347.2 429.7,350.7 437.6,353.2 444.6,356.2 449.6,359 454.5,363.1 458.6,368 463.5,376.3 466.3,382.6 468.5,388.8 471.4,390.7 479.4,393.5 483.3,396.1 489.3,403 492.8,409.6 503.7,414.8 507.2,417.6 509.7,421 514.6,430.4 523.4,434.6 527.7,437.7 531.2,442.9 534,451.2 554.8,469.3 580.4,492.8 592.3,508.4 595.3,513.6" fill="none" stroke="#808080" stroke-width="1.1" mask="url(#lblmask)"/>
<path d="M456.3,486.2L458.9,485.8L463.3,487.1L466.8,488.4L469.4,490.1L473.8,492.3L477.7,492.9L477.7,495.4L472,495.6L466.8,495L458.9,495.8L456.3,494.5L455.4,492.3L457.1,490.1Z" fill="#22e4f4" stroke="#111" stroke-width="0.9"/>
<path d="M448.4,480.1L451,480.9L453.6,481.4L456.3,482.3L456.7,485.3L454.5,485.8L451.9,484L449.3,483.1L448.4,482.3Z" fill="#22e4f4" stroke="#111" stroke-width="0.9"/>
<path d="M442.3,496.3L444,495.4L446.6,495L448.4,493.2L451,492.3L452.8,493.2L450.1,495.4L448.4,497.1L445.8,498L443.1,498Z" fill="#22e4f4" stroke="#111" stroke-width="0.9"/>
</g>
<text x="435.2" y="360.6" font-size="19" text-anchor="middle" fill="#fff" style="font-family:'Liberation Serif',serif;font-weight:bold" >62.94</text>
<text x="465.8" y="406.6" font-size="19" text-anchor="middle" fill="#fff" style="font-family:'Liberation Serif',serif;font-weight:bold" >58.28</text>
<text x="432.4" y="428.2" font-size="19" text-anchor="middle" fill="#fff" style="font-family:'Liberation Serif',serif;font-weight:bold" >48.95</text>
<text x="499.2" y="440.9" font-size="19" text-anchor="middle" fill="#fff" style="font-family:'Liberation Serif',serif;font-weight:bold" >53.61</text>
<text x="434.4" y="454.6" font-size="19" text-anchor="middle" fill="#fff" style="font-family:'Liberation Serif',serif;font-weight:bold" >34.96</text>
<text x="502.4" y="472.6" font-size="19" text-anchor="middle" fill="#fff" style="font-family:'Liberation Serif',serif;font-weight:bold" >44.29</text>
<text x="426.5" y="481.6" font-size="19" text-anchor="middle" fill="#fff" style="font-family:'Liberation Serif',serif;font-weight:bold" >39.63</text>
<text x="485.8" y="494.2" font-size="19" text-anchor="middle" fill="#fff" style="font-family:'Liberation Serif',serif;font-weight:bold" >34.96</text>
<rect x="397.9" y="285.4" width="238.4" height="227.7" fill="none" stroke="#000" stroke-width="2.6"/>
<line x1="397.9" y1="513" x2="397.9" y2="517.5" stroke="#000" stroke-width="2.5" />
<text x="397.9" y="536" font-size="18" text-anchor="middle" fill="#000" style="font-family:'Liberation Sans',sans-serif;font-weight:bold" >2</text>
<line x1="457.5" y1="513" x2="457.5" y2="517.5" stroke="#000" stroke-width="2.5" />
<text x="457.5" y="536" font-size="18" text-anchor="middle" fill="#000" style="font-family:'Liberation Sans',sans-serif;font-weight:bold" >3</text>
<line x1="517.1" y1="513" x2="517.1" y2="517.5" stroke="#000" stroke-width="2.5" />
<text x="517.1" y="536" font-size="18" text-anchor="middle" fill="#000" style="font-family:'Liberation Sans',sans-serif;font-weight:bold" >4</text>
<line x1="576.7" y1="513" x2="576.7" y2="517.5" stroke="#000" stroke-width="2.5" />
<text x="576.7" y="536" font-size="18" text-anchor="middle" fill="#000" style="font-family:'Liberation Sans',sans-serif;font-weight:bold" >5</text>
<line x1="636.3" y1="513" x2="636.3" y2="517.5" stroke="#000" stroke-width="2.5" />
<text x="636.3" y="536" font-size="18" text-anchor="middle" fill="#000" style="font-family:'Liberation Sans',sans-serif;font-weight:bold" >6</text>
<line x1="427.7" y1="513" x2="427.7" y2="515.5" stroke="#000" stroke-width="2.2" />
<line x1="487.3" y1="513" x2="487.3" y2="515.5" stroke="#000" stroke-width="2.2" />
<line x1="546.9" y1="513" x2="546.9" y2="515.5" stroke="#000" stroke-width="2.2" />
<line x1="606.5" y1="513" x2="606.5" y2="515.5" stroke="#000" stroke-width="2.2" />
<line x1="392.5" y1="513.6" x2="397.5" y2="513.6" stroke="#000" stroke-width="2.5" />
<text x="390.3" y="520" font-size="18" text-anchor="end" fill="#000" style="font-family:'Liberation Sans',sans-serif;font-weight:bold" >0</text>
<line x1="392.5" y1="472" x2="397.5" y2="472" stroke="#000" stroke-width="2.5" />
<text x="390.3" y="478.4" font-size="18" text-anchor="end" fill="#000" style="font-family:'Liberation Sans',sans-serif;font-weight:bold" >2</text>
<line x1="392.5" y1="430.4" x2="397.5" y2="430.4" stroke="#000" stroke-width="2.5" />
<text x="390.3" y="436.8" font-size="18" text-anchor="end" fill="#000" style="font-family:'Liberation Sans',sans-serif;font-weight:bold" >4</text>
<line x1="392.5" y1="388.8" x2="397.5" y2="388.8" stroke="#000" stroke-width="2.5" />
<text x="390.3" y="395.2" font-size="18" text-anchor="end" fill="#000" style="font-family:'Liberation Sans',sans-serif;font-weight:bold" >6</text>
<line x1="392.5" y1="347.2" x2="397.5" y2="347.2" stroke="#000" stroke-width="2.5" />
<text x="390.3" y="353.6" font-size="18" text-anchor="end" fill="#000" style="font-family:'Liberation Sans',sans-serif;font-weight:bold" >8</text>
<line x1="392.5" y1="305.6" x2="397.5" y2="305.6" stroke="#000" stroke-width="2.5" />
<text x="390.3" y="312" font-size="18" text-anchor="end" fill="#000" style="font-family:'Liberation Sans',sans-serif;font-weight:bold" >10</text>
<line x1="395" y1="492.8" x2="397.5" y2="492.8" stroke="#000" stroke-width="2.2" />
<line x1="395" y1="451.2" x2="397.5" y2="451.2" stroke="#000" stroke-width="2.2" />
<line x1="395" y1="409.6" x2="397.5" y2="409.6" stroke="#000" stroke-width="2.2" />
<line x1="395" y1="368" x2="397.5" y2="368" stroke="#000" stroke-width="2.2" />
<line x1="395" y1="326.4" x2="397.5" y2="326.4" stroke="#000" stroke-width="2.2" />
<text x="415.2" y="307" font-size="19" text-anchor="middle" fill="#fff" style="font-family:'Liberation Sans',sans-serif;font-weight:bold" >(d)</text>
<text x="512.7" y="552.4" font-size="19" text-anchor="middle" fill="#000" style="font-family:'Liberation Sans',sans-serif;font-weight:bold" >T (K)</text>
<text transform="translate(375.2,399.1) rotate(-90)" font-size="19" text-anchor="middle" style="font-family:'Liberation Sans',sans-serif;font-weight:bold">B (T)</text>
<rect x="639.9" y="301.5" width="11.4" height="212" fill="url(#cbg)" stroke="#222" stroke-width="0.6"/>
<line x1="651.3" y1="513.5" x2="655.5" y2="513.5" stroke="#000" stroke-width="2.2" />
<text x="663.2" y="519.7" font-size="17.5" text-anchor="start" fill="#000" style="font-family:'Liberation Sans',sans-serif;font-weight:bold" >30</text>
<line x1="651.3" y1="485.1" x2="655.5" y2="485.1" stroke="#000" stroke-width="2.2" />
<text x="663.2" y="491.3" font-size="17.5" text-anchor="start" fill="#000" style="font-family:'Liberation Sans',sans-serif;font-weight:bold" >35</text>
<line x1="651.3" y1="456.7" x2="655.5" y2="456.7" stroke="#000" stroke-width="2.2" />
<text x="663.2" y="462.9" font-size="17.5" text-anchor="start" fill="#000" style="font-family:'Liberation Sans',sans-serif;font-weight:bold" >40</text>
<line x1="651.3" y1="428.3" x2="655.5" y2="428.3" stroke="#000" stroke-width="2.2" />
<text x="663.2" y="434.5" font-size="17.5" text-anchor="start" fill="#000" style="font-family:'Liberation Sans',sans-serif;font-weight:bold" >45</text>
<line x1="651.3" y1="399.8" x2="655.5" y2="399.8" stroke="#000" stroke-width="2.2" />
<text x="663.2" y="406" font-size="17.5" text-anchor="start" fill="#000" style="font-family:'Liberation Sans',sans-serif;font-weight:bold" >50</text>
<line x1="651.3" y1="371.4" x2="655.5" y2="371.4" stroke="#000" stroke-width="2.2" />
<text x="663.2" y="377.6" font-size="17.5" text-anchor="start" fill="#000" style="font-family:'Liberation Sans',sans-serif;font-weight:bold" >55</text>
<line x1="651.3" y1="343" x2="655.5" y2="343" stroke="#000" stroke-width="2.2" />
<text x="663.2" y="349.2" font-size="17.5" text-anchor="start" fill="#000" style="font-family:'Liberation Sans',sans-serif;font-weight:bold" >60</text>
<line x1="651.3" y1="314.6" x2="655.5" y2="314.6" stroke="#000" stroke-width="2.2" />
<text x="663.2" y="320.8" font-size="17.5" text-anchor="start" fill="#000" style="font-family:'Liberation Sans',sans-serif;font-weight:bold" >65</text>
<text x="640" y="298.3" font-size="18" style="font-family:'Liberation Sans',sans-serif;font-weight:bold">R <tspan style="font-weight:normal">(<tspan font-size="20.5">&#937;</tspan>)</tspan></text>
</svg>
</body></html>
